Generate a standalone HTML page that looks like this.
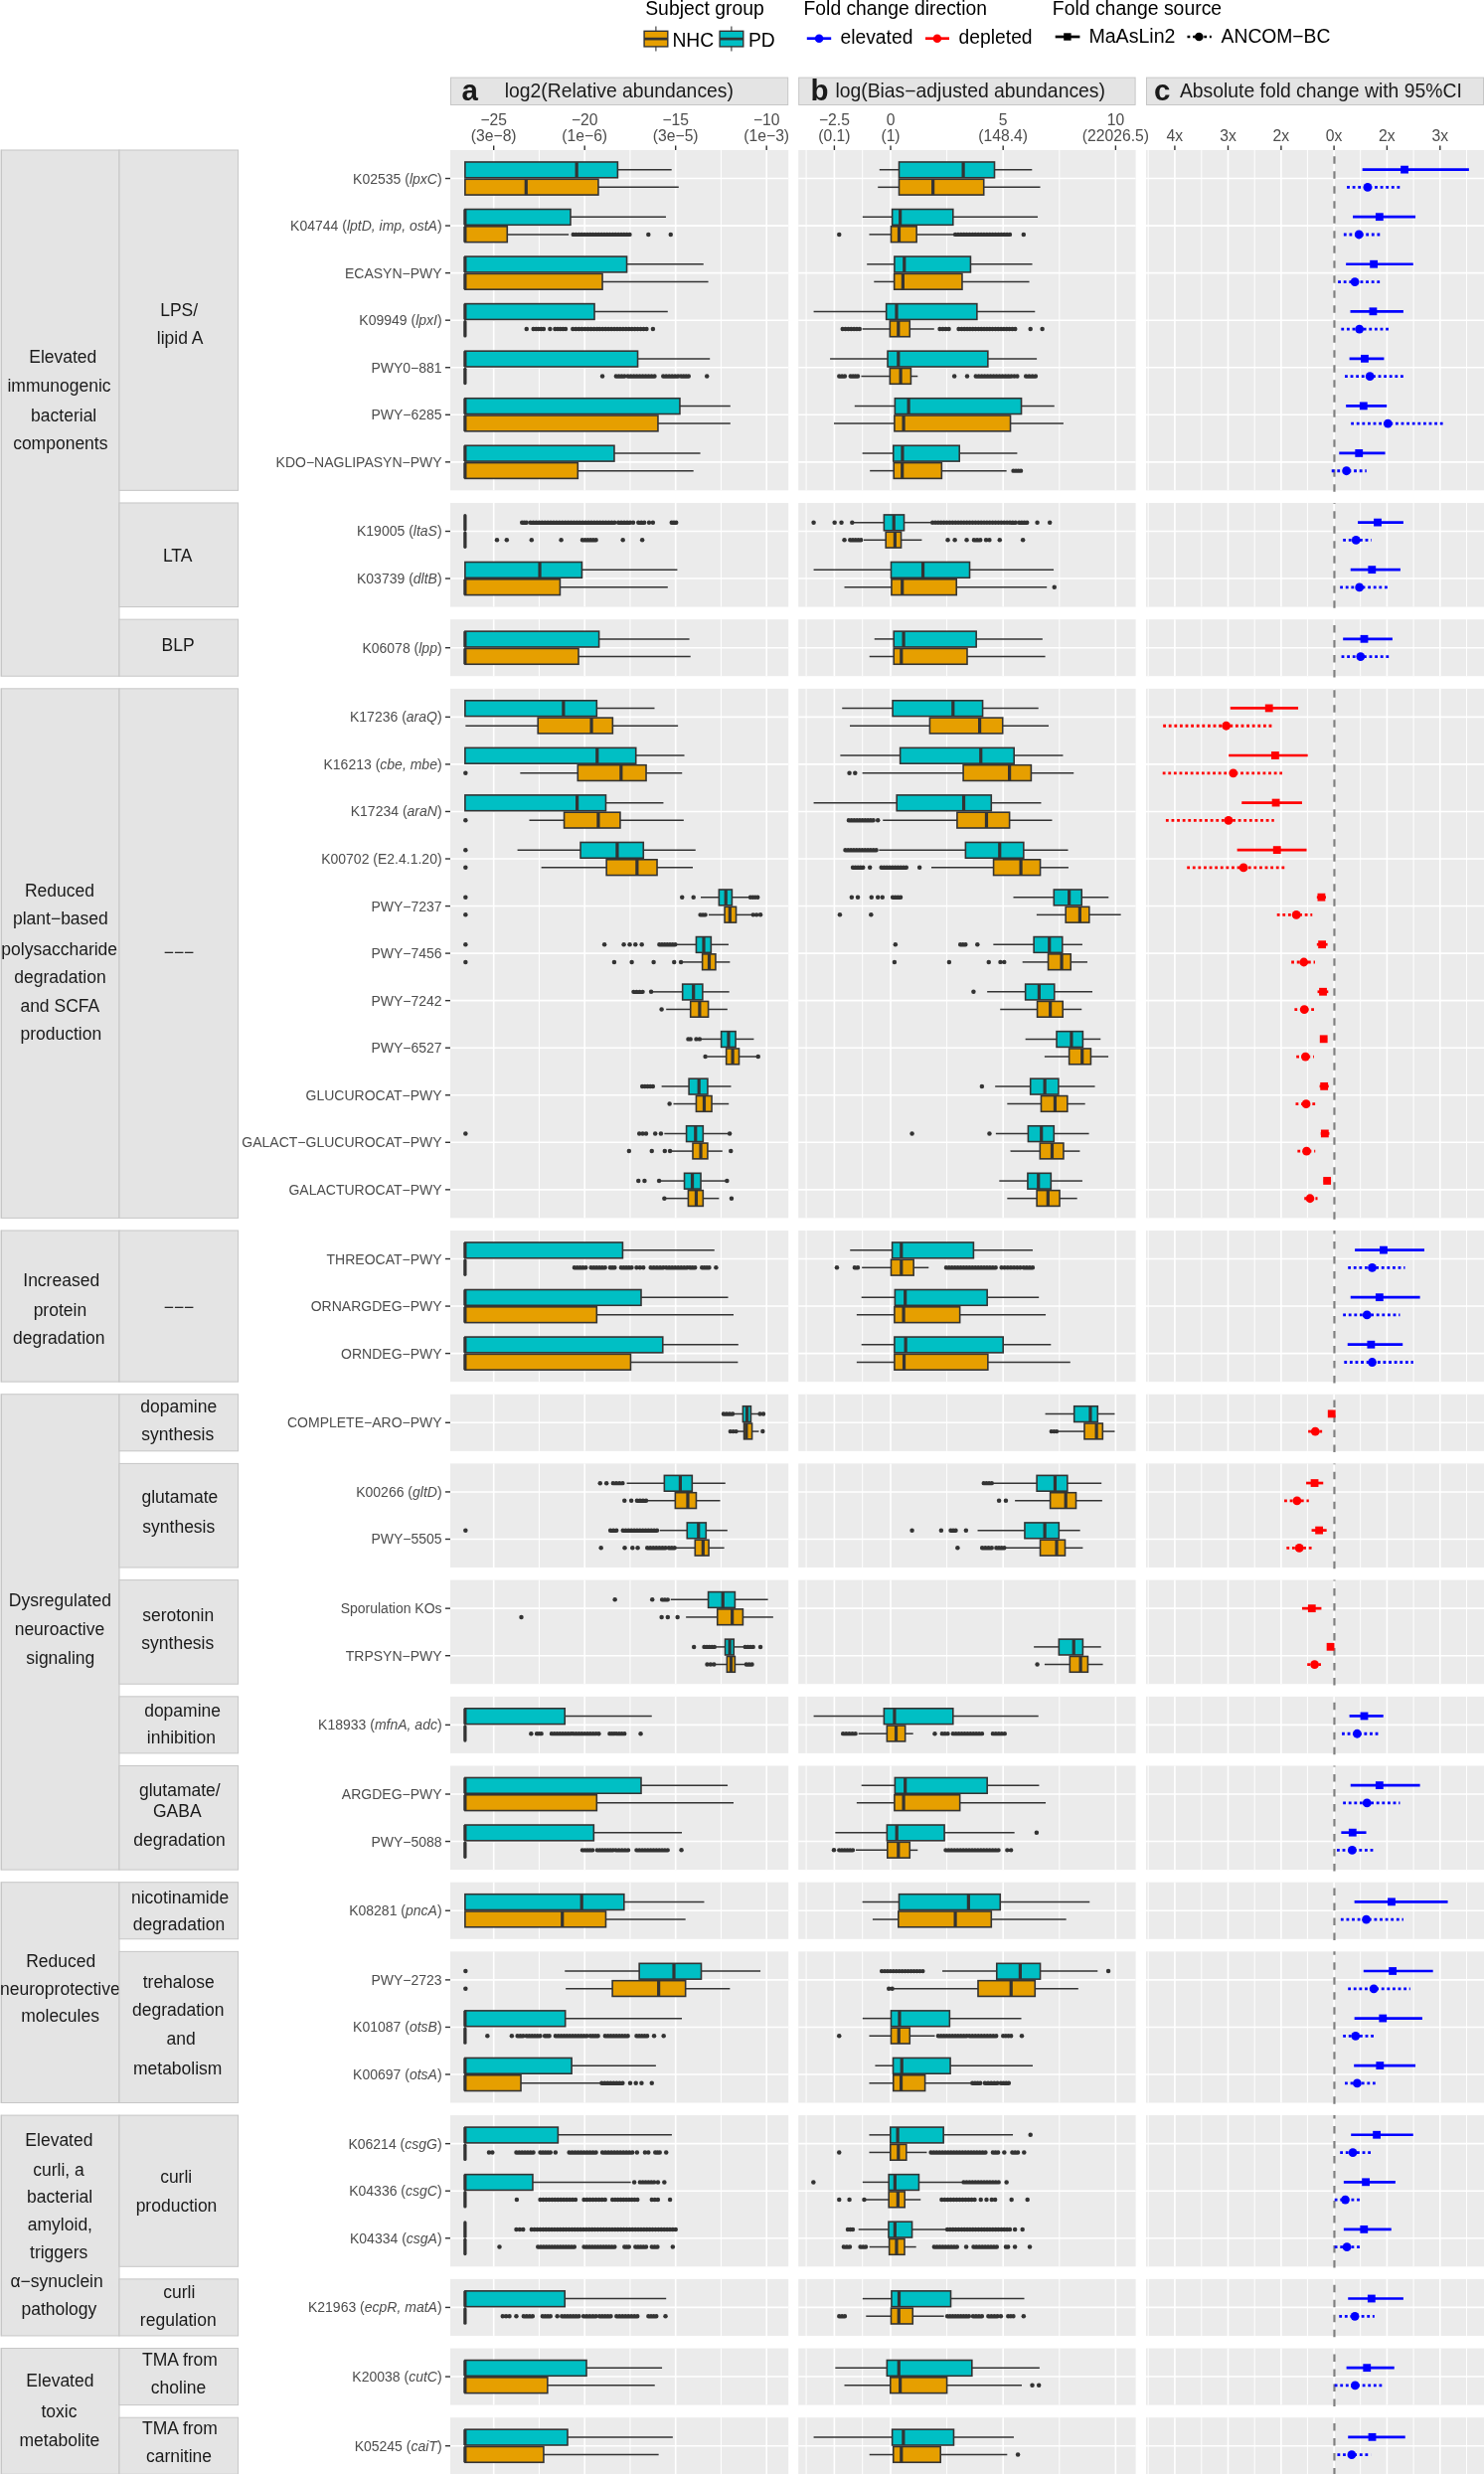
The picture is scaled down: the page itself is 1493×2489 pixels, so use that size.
<!DOCTYPE html>
<html><head><meta charset="utf-8"><title>Figure</title>
<style>html,body{margin:0;padding:0;background:#fff;}svg{display:block;will-change:transform;}text{font-family:"Liberation Sans", sans-serif;}</style>
</head><body>
<svg width="1493" height="2489" viewBox="0 0 1493 2489" font-family='"Liberation Sans", sans-serif'>
<rect width="1493" height="2489" fill="#fff"/>
<text x="649.2" y="14.8" font-size="19.4" fill="#000">Subject group</text>
<text x="808.6" y="14.8" font-size="19.3" fill="#000">Fold change direction</text>
<text x="1058.8" y="14.6" font-size="19.4" fill="#000">Fold change source</text>
<line x1="659.9" y1="26.4" x2="659.9" y2="51.5" stroke="#333333" stroke-width="1.1"/>
<rect x="648.1" y="31.3" width="23.7" height="15.6" fill="#E69F00" stroke="#333333" stroke-width="1.4"/>
<line x1="648.1" y1="39.1" x2="671.8" y2="39.1" stroke="#333333" stroke-width="2.7"/>
<text x="676.4" y="46.9" font-size="19.3" fill="#000">NHC</text>
<line x1="735.9" y1="26.4" x2="735.9" y2="51.5" stroke="#333333" stroke-width="1.1"/>
<rect x="724.1" y="31.3" width="23.7" height="15.6" fill="#00BFC4" stroke="#333333" stroke-width="1.4"/>
<line x1="724.1" y1="39.1" x2="747.8" y2="39.1" stroke="#333333" stroke-width="2.7"/>
<text x="753" y="46.9" font-size="19.3" fill="#000">PD</text>
<line x1="811.8" y1="38.7" x2="836.2" y2="38.7" stroke="#0000FF" stroke-width="2.7"/>
<circle cx="824.1" cy="38.7" r="4.3" fill="#0000FF"/>
<text x="845.5" y="44.3" font-size="19.3" fill="#000">elevated</text>
<line x1="931" y1="38.7" x2="955" y2="38.7" stroke="#FF0000" stroke-width="2.7"/>
<circle cx="942.9" cy="38.7" r="4.3" fill="#FF0000"/>
<text x="964.6" y="44.3" font-size="19.3" fill="#000">depleted</text>
<line x1="1061.7" y1="37" x2="1086.4" y2="37" stroke="#000" stroke-width="2.7"/>
<rect x="1070.2" y="33.3" width="7.4" height="7.4" fill="#000"/>
<text x="1095.4" y="43.2" font-size="19.6" fill="#000">MaAsLin2</text>
<line x1="1194.5" y1="37" x2="1218.8" y2="37" stroke="#000" stroke-width="2.7" stroke-dasharray="2.8 2.8"/>
<circle cx="1206.3" cy="37" r="4.3" fill="#000"/>
<text x="1228.6" y="43.2" font-size="19.3" fill="#000">ANCOM−BC</text>
<rect x="453.5" y="78.1" width="339.2" height="27.4" fill="#E4E4E4" stroke="#C6C6C6" stroke-width="1"/>
<text x="464.5" y="101" font-size="29.5" fill="#1A1A1A" font-weight="bold">a</text>
<text x="507.8" y="97.9" font-size="19.35" fill="#1A1A1A">log2(Relative abundances)</text>
<rect x="803.7" y="78.1" width="338.4" height="27.4" fill="#E4E4E4" stroke="#C6C6C6" stroke-width="1"/>
<text x="815.4" y="101" font-size="29.5" fill="#1A1A1A" font-weight="bold">b</text>
<text x="840.4" y="97.9" font-size="19.35" fill="#1A1A1A">log(Bias−adjusted abundances)</text>
<rect x="1153.5" y="78.1" width="339" height="27.4" fill="#E4E4E4" stroke="#C6C6C6" stroke-width="1"/>
<text x="1161.1" y="101" font-size="29.5" fill="#1A1A1A" font-weight="bold">c</text>
<text x="1186.9" y="97.9" font-size="19.35" fill="#1A1A1A">Absolute fold change with 95%CI</text>
<line x1="496.7" y1="146.4" x2="496.7" y2="151" stroke="#333333" stroke-width="1.4"/>
<text x="496.7" y="125.9" font-size="15.7" fill="#4D4D4D" text-anchor="middle">−25</text>
<text x="496.7" y="142.3" font-size="15.7" fill="#4D4D4D" text-anchor="middle">(3e−8)</text>
<line x1="588.2" y1="146.4" x2="588.2" y2="151" stroke="#333333" stroke-width="1.4"/>
<text x="588.2" y="125.9" font-size="15.7" fill="#4D4D4D" text-anchor="middle">−20</text>
<text x="588.2" y="142.3" font-size="15.7" fill="#4D4D4D" text-anchor="middle">(1e−6)</text>
<line x1="679.7" y1="146.4" x2="679.7" y2="151" stroke="#333333" stroke-width="1.4"/>
<text x="679.7" y="125.9" font-size="15.7" fill="#4D4D4D" text-anchor="middle">−15</text>
<text x="679.7" y="142.3" font-size="15.7" fill="#4D4D4D" text-anchor="middle">(3e−5)</text>
<line x1="771.2" y1="146.4" x2="771.2" y2="151" stroke="#333333" stroke-width="1.4"/>
<text x="771.2" y="125.9" font-size="15.7" fill="#4D4D4D" text-anchor="middle">−10</text>
<text x="771.2" y="142.3" font-size="15.7" fill="#4D4D4D" text-anchor="middle">(1e−3)</text>
<line x1="839.4" y1="146.4" x2="839.4" y2="151" stroke="#333333" stroke-width="1.4"/>
<text x="839.4" y="125.9" font-size="15.7" fill="#4D4D4D" text-anchor="middle">−2.5</text>
<text x="839.4" y="142.3" font-size="15.7" fill="#4D4D4D" text-anchor="middle">(0.1)</text>
<line x1="896" y1="146.4" x2="896" y2="151" stroke="#333333" stroke-width="1.4"/>
<text x="896" y="125.9" font-size="15.7" fill="#4D4D4D" text-anchor="middle">0</text>
<text x="896" y="142.3" font-size="15.7" fill="#4D4D4D" text-anchor="middle">(1)</text>
<line x1="1009.2" y1="146.4" x2="1009.2" y2="151" stroke="#333333" stroke-width="1.4"/>
<text x="1009.2" y="125.9" font-size="15.7" fill="#4D4D4D" text-anchor="middle">5</text>
<text x="1009.2" y="142.3" font-size="15.7" fill="#4D4D4D" text-anchor="middle">(148.4)</text>
<line x1="1122.4" y1="146.4" x2="1122.4" y2="151" stroke="#333333" stroke-width="1.4"/>
<text x="1122.4" y="125.9" font-size="15.7" fill="#4D4D4D" text-anchor="middle">10</text>
<text x="1122.4" y="142.3" font-size="15.7" fill="#4D4D4D" text-anchor="middle">(22026.5)</text>
<line x1="1181.9" y1="146.4" x2="1181.9" y2="151" stroke="#333333" stroke-width="1.4"/>
<text x="1181.9" y="142.3" font-size="15.7" fill="#4D4D4D" text-anchor="middle">4x</text>
<line x1="1235.5" y1="146.4" x2="1235.5" y2="151" stroke="#333333" stroke-width="1.4"/>
<text x="1235.5" y="142.3" font-size="15.7" fill="#4D4D4D" text-anchor="middle">3x</text>
<line x1="1288.9" y1="146.4" x2="1288.9" y2="151" stroke="#333333" stroke-width="1.4"/>
<text x="1288.9" y="142.3" font-size="15.7" fill="#4D4D4D" text-anchor="middle">2x</text>
<line x1="1342.1" y1="146.4" x2="1342.1" y2="151" stroke="#333333" stroke-width="1.4"/>
<text x="1342.1" y="142.3" font-size="15.7" fill="#4D4D4D" text-anchor="middle">0x</text>
<line x1="1395.4" y1="146.4" x2="1395.4" y2="151" stroke="#333333" stroke-width="1.4"/>
<text x="1395.4" y="142.3" font-size="15.7" fill="#4D4D4D" text-anchor="middle">2x</text>
<line x1="1448.8" y1="146.4" x2="1448.8" y2="151" stroke="#333333" stroke-width="1.4"/>
<text x="1448.8" y="142.3" font-size="15.7" fill="#4D4D4D" text-anchor="middle">3x</text>
<rect x="453" y="151" width="340.2" height="342.36" fill="#EBEBEB"/>
<line x1="542.45" y1="151" x2="542.45" y2="493.36" stroke="#fff" stroke-width="1.0"/>
<line x1="633.95" y1="151" x2="633.95" y2="493.36" stroke="#fff" stroke-width="1.0"/>
<line x1="725.45" y1="151" x2="725.45" y2="493.36" stroke="#fff" stroke-width="1.0"/>
<line x1="496.7" y1="151" x2="496.7" y2="493.36" stroke="#fff" stroke-width="1.6"/>
<line x1="588.2" y1="151" x2="588.2" y2="493.36" stroke="#fff" stroke-width="1.6"/>
<line x1="679.7" y1="151" x2="679.7" y2="493.36" stroke="#fff" stroke-width="1.6"/>
<line x1="771.2" y1="151" x2="771.2" y2="493.36" stroke="#fff" stroke-width="1.6"/>
<rect x="803.2" y="151" width="339.4" height="342.36" fill="#EBEBEB"/>
<line x1="811.1" y1="151" x2="811.1" y2="493.36" stroke="#fff" stroke-width="1.0"/>
<line x1="867.7" y1="151" x2="867.7" y2="493.36" stroke="#fff" stroke-width="1.0"/>
<line x1="952.6" y1="151" x2="952.6" y2="493.36" stroke="#fff" stroke-width="1.0"/>
<line x1="1065.8" y1="151" x2="1065.8" y2="493.36" stroke="#fff" stroke-width="1.0"/>
<line x1="839.4" y1="151" x2="839.4" y2="493.36" stroke="#fff" stroke-width="1.6"/>
<line x1="896" y1="151" x2="896" y2="493.36" stroke="#fff" stroke-width="1.6"/>
<line x1="1009.2" y1="151" x2="1009.2" y2="493.36" stroke="#fff" stroke-width="1.6"/>
<line x1="1122.4" y1="151" x2="1122.4" y2="493.36" stroke="#fff" stroke-width="1.6"/>
<rect x="1153" y="151" width="340" height="342.36" fill="#EBEBEB"/>
<line x1="1155.2" y1="151" x2="1155.2" y2="493.36" stroke="#fff" stroke-width="1.0"/>
<line x1="1208.8" y1="151" x2="1208.8" y2="493.36" stroke="#fff" stroke-width="1.0"/>
<line x1="1262.2" y1="151" x2="1262.2" y2="493.36" stroke="#fff" stroke-width="1.0"/>
<line x1="1315.4" y1="151" x2="1315.4" y2="493.36" stroke="#fff" stroke-width="1.0"/>
<line x1="1368.7" y1="151" x2="1368.7" y2="493.36" stroke="#fff" stroke-width="1.0"/>
<line x1="1422.1" y1="151" x2="1422.1" y2="493.36" stroke="#fff" stroke-width="1.0"/>
<line x1="1475.5" y1="151" x2="1475.5" y2="493.36" stroke="#fff" stroke-width="1.0"/>
<line x1="1181.9" y1="151" x2="1181.9" y2="493.36" stroke="#fff" stroke-width="1.6"/>
<line x1="1235.5" y1="151" x2="1235.5" y2="493.36" stroke="#fff" stroke-width="1.6"/>
<line x1="1288.9" y1="151" x2="1288.9" y2="493.36" stroke="#fff" stroke-width="1.6"/>
<line x1="1342.1" y1="151" x2="1342.1" y2="493.36" stroke="#fff" stroke-width="1.6"/>
<line x1="1395.4" y1="151" x2="1395.4" y2="493.36" stroke="#fff" stroke-width="1.6"/>
<line x1="1448.8" y1="151" x2="1448.8" y2="493.36" stroke="#fff" stroke-width="1.6"/>
<rect x="453" y="505.96" width="340.2" height="104.61" fill="#EBEBEB"/>
<line x1="542.45" y1="505.96" x2="542.45" y2="610.57" stroke="#fff" stroke-width="1.0"/>
<line x1="633.95" y1="505.96" x2="633.95" y2="610.57" stroke="#fff" stroke-width="1.0"/>
<line x1="725.45" y1="505.96" x2="725.45" y2="610.57" stroke="#fff" stroke-width="1.0"/>
<line x1="496.7" y1="505.96" x2="496.7" y2="610.57" stroke="#fff" stroke-width="1.6"/>
<line x1="588.2" y1="505.96" x2="588.2" y2="610.57" stroke="#fff" stroke-width="1.6"/>
<line x1="679.7" y1="505.96" x2="679.7" y2="610.57" stroke="#fff" stroke-width="1.6"/>
<line x1="771.2" y1="505.96" x2="771.2" y2="610.57" stroke="#fff" stroke-width="1.6"/>
<rect x="803.2" y="505.96" width="339.4" height="104.61" fill="#EBEBEB"/>
<line x1="811.1" y1="505.96" x2="811.1" y2="610.57" stroke="#fff" stroke-width="1.0"/>
<line x1="867.7" y1="505.96" x2="867.7" y2="610.57" stroke="#fff" stroke-width="1.0"/>
<line x1="952.6" y1="505.96" x2="952.6" y2="610.57" stroke="#fff" stroke-width="1.0"/>
<line x1="1065.8" y1="505.96" x2="1065.8" y2="610.57" stroke="#fff" stroke-width="1.0"/>
<line x1="839.4" y1="505.96" x2="839.4" y2="610.57" stroke="#fff" stroke-width="1.6"/>
<line x1="896" y1="505.96" x2="896" y2="610.57" stroke="#fff" stroke-width="1.6"/>
<line x1="1009.2" y1="505.96" x2="1009.2" y2="610.57" stroke="#fff" stroke-width="1.6"/>
<line x1="1122.4" y1="505.96" x2="1122.4" y2="610.57" stroke="#fff" stroke-width="1.6"/>
<rect x="1153" y="505.96" width="340" height="104.61" fill="#EBEBEB"/>
<line x1="1155.2" y1="505.96" x2="1155.2" y2="610.57" stroke="#fff" stroke-width="1.0"/>
<line x1="1208.8" y1="505.96" x2="1208.8" y2="610.57" stroke="#fff" stroke-width="1.0"/>
<line x1="1262.2" y1="505.96" x2="1262.2" y2="610.57" stroke="#fff" stroke-width="1.0"/>
<line x1="1315.4" y1="505.96" x2="1315.4" y2="610.57" stroke="#fff" stroke-width="1.0"/>
<line x1="1368.7" y1="505.96" x2="1368.7" y2="610.57" stroke="#fff" stroke-width="1.0"/>
<line x1="1422.1" y1="505.96" x2="1422.1" y2="610.57" stroke="#fff" stroke-width="1.0"/>
<line x1="1475.5" y1="505.96" x2="1475.5" y2="610.57" stroke="#fff" stroke-width="1.0"/>
<line x1="1181.9" y1="505.96" x2="1181.9" y2="610.57" stroke="#fff" stroke-width="1.6"/>
<line x1="1235.5" y1="505.96" x2="1235.5" y2="610.57" stroke="#fff" stroke-width="1.6"/>
<line x1="1288.9" y1="505.96" x2="1288.9" y2="610.57" stroke="#fff" stroke-width="1.6"/>
<line x1="1342.1" y1="505.96" x2="1342.1" y2="610.57" stroke="#fff" stroke-width="1.6"/>
<line x1="1395.4" y1="505.96" x2="1395.4" y2="610.57" stroke="#fff" stroke-width="1.6"/>
<line x1="1448.8" y1="505.96" x2="1448.8" y2="610.57" stroke="#fff" stroke-width="1.6"/>
<rect x="453" y="623.17" width="340.2" height="57.06" fill="#EBEBEB"/>
<line x1="542.45" y1="623.17" x2="542.45" y2="680.23" stroke="#fff" stroke-width="1.0"/>
<line x1="633.95" y1="623.17" x2="633.95" y2="680.23" stroke="#fff" stroke-width="1.0"/>
<line x1="725.45" y1="623.17" x2="725.45" y2="680.23" stroke="#fff" stroke-width="1.0"/>
<line x1="496.7" y1="623.17" x2="496.7" y2="680.23" stroke="#fff" stroke-width="1.6"/>
<line x1="588.2" y1="623.17" x2="588.2" y2="680.23" stroke="#fff" stroke-width="1.6"/>
<line x1="679.7" y1="623.17" x2="679.7" y2="680.23" stroke="#fff" stroke-width="1.6"/>
<line x1="771.2" y1="623.17" x2="771.2" y2="680.23" stroke="#fff" stroke-width="1.6"/>
<rect x="803.2" y="623.17" width="339.4" height="57.06" fill="#EBEBEB"/>
<line x1="811.1" y1="623.17" x2="811.1" y2="680.23" stroke="#fff" stroke-width="1.0"/>
<line x1="867.7" y1="623.17" x2="867.7" y2="680.23" stroke="#fff" stroke-width="1.0"/>
<line x1="952.6" y1="623.17" x2="952.6" y2="680.23" stroke="#fff" stroke-width="1.0"/>
<line x1="1065.8" y1="623.17" x2="1065.8" y2="680.23" stroke="#fff" stroke-width="1.0"/>
<line x1="839.4" y1="623.17" x2="839.4" y2="680.23" stroke="#fff" stroke-width="1.6"/>
<line x1="896" y1="623.17" x2="896" y2="680.23" stroke="#fff" stroke-width="1.6"/>
<line x1="1009.2" y1="623.17" x2="1009.2" y2="680.23" stroke="#fff" stroke-width="1.6"/>
<line x1="1122.4" y1="623.17" x2="1122.4" y2="680.23" stroke="#fff" stroke-width="1.6"/>
<rect x="1153" y="623.17" width="340" height="57.06" fill="#EBEBEB"/>
<line x1="1155.2" y1="623.17" x2="1155.2" y2="680.23" stroke="#fff" stroke-width="1.0"/>
<line x1="1208.8" y1="623.17" x2="1208.8" y2="680.23" stroke="#fff" stroke-width="1.0"/>
<line x1="1262.2" y1="623.17" x2="1262.2" y2="680.23" stroke="#fff" stroke-width="1.0"/>
<line x1="1315.4" y1="623.17" x2="1315.4" y2="680.23" stroke="#fff" stroke-width="1.0"/>
<line x1="1368.7" y1="623.17" x2="1368.7" y2="680.23" stroke="#fff" stroke-width="1.0"/>
<line x1="1422.1" y1="623.17" x2="1422.1" y2="680.23" stroke="#fff" stroke-width="1.0"/>
<line x1="1475.5" y1="623.17" x2="1475.5" y2="680.23" stroke="#fff" stroke-width="1.0"/>
<line x1="1181.9" y1="623.17" x2="1181.9" y2="680.23" stroke="#fff" stroke-width="1.6"/>
<line x1="1235.5" y1="623.17" x2="1235.5" y2="680.23" stroke="#fff" stroke-width="1.6"/>
<line x1="1288.9" y1="623.17" x2="1288.9" y2="680.23" stroke="#fff" stroke-width="1.6"/>
<line x1="1342.1" y1="623.17" x2="1342.1" y2="680.23" stroke="#fff" stroke-width="1.6"/>
<line x1="1395.4" y1="623.17" x2="1395.4" y2="680.23" stroke="#fff" stroke-width="1.6"/>
<line x1="1448.8" y1="623.17" x2="1448.8" y2="680.23" stroke="#fff" stroke-width="1.6"/>
<rect x="453" y="692.83" width="340.2" height="532.56" fill="#EBEBEB"/>
<line x1="542.45" y1="692.83" x2="542.45" y2="1225.39" stroke="#fff" stroke-width="1.0"/>
<line x1="633.95" y1="692.83" x2="633.95" y2="1225.39" stroke="#fff" stroke-width="1.0"/>
<line x1="725.45" y1="692.83" x2="725.45" y2="1225.39" stroke="#fff" stroke-width="1.0"/>
<line x1="496.7" y1="692.83" x2="496.7" y2="1225.39" stroke="#fff" stroke-width="1.6"/>
<line x1="588.2" y1="692.83" x2="588.2" y2="1225.39" stroke="#fff" stroke-width="1.6"/>
<line x1="679.7" y1="692.83" x2="679.7" y2="1225.39" stroke="#fff" stroke-width="1.6"/>
<line x1="771.2" y1="692.83" x2="771.2" y2="1225.39" stroke="#fff" stroke-width="1.6"/>
<rect x="803.2" y="692.83" width="339.4" height="532.56" fill="#EBEBEB"/>
<line x1="811.1" y1="692.83" x2="811.1" y2="1225.39" stroke="#fff" stroke-width="1.0"/>
<line x1="867.7" y1="692.83" x2="867.7" y2="1225.39" stroke="#fff" stroke-width="1.0"/>
<line x1="952.6" y1="692.83" x2="952.6" y2="1225.39" stroke="#fff" stroke-width="1.0"/>
<line x1="1065.8" y1="692.83" x2="1065.8" y2="1225.39" stroke="#fff" stroke-width="1.0"/>
<line x1="839.4" y1="692.83" x2="839.4" y2="1225.39" stroke="#fff" stroke-width="1.6"/>
<line x1="896" y1="692.83" x2="896" y2="1225.39" stroke="#fff" stroke-width="1.6"/>
<line x1="1009.2" y1="692.83" x2="1009.2" y2="1225.39" stroke="#fff" stroke-width="1.6"/>
<line x1="1122.4" y1="692.83" x2="1122.4" y2="1225.39" stroke="#fff" stroke-width="1.6"/>
<rect x="1153" y="692.83" width="340" height="532.56" fill="#EBEBEB"/>
<line x1="1155.2" y1="692.83" x2="1155.2" y2="1225.39" stroke="#fff" stroke-width="1.0"/>
<line x1="1208.8" y1="692.83" x2="1208.8" y2="1225.39" stroke="#fff" stroke-width="1.0"/>
<line x1="1262.2" y1="692.83" x2="1262.2" y2="1225.39" stroke="#fff" stroke-width="1.0"/>
<line x1="1315.4" y1="692.83" x2="1315.4" y2="1225.39" stroke="#fff" stroke-width="1.0"/>
<line x1="1368.7" y1="692.83" x2="1368.7" y2="1225.39" stroke="#fff" stroke-width="1.0"/>
<line x1="1422.1" y1="692.83" x2="1422.1" y2="1225.39" stroke="#fff" stroke-width="1.0"/>
<line x1="1475.5" y1="692.83" x2="1475.5" y2="1225.39" stroke="#fff" stroke-width="1.0"/>
<line x1="1181.9" y1="692.83" x2="1181.9" y2="1225.39" stroke="#fff" stroke-width="1.6"/>
<line x1="1235.5" y1="692.83" x2="1235.5" y2="1225.39" stroke="#fff" stroke-width="1.6"/>
<line x1="1288.9" y1="692.83" x2="1288.9" y2="1225.39" stroke="#fff" stroke-width="1.6"/>
<line x1="1342.1" y1="692.83" x2="1342.1" y2="1225.39" stroke="#fff" stroke-width="1.6"/>
<line x1="1395.4" y1="692.83" x2="1395.4" y2="1225.39" stroke="#fff" stroke-width="1.6"/>
<line x1="1448.8" y1="692.83" x2="1448.8" y2="1225.39" stroke="#fff" stroke-width="1.6"/>
<rect x="453" y="1237.99" width="340.2" height="152.16" fill="#EBEBEB"/>
<line x1="542.45" y1="1237.99" x2="542.45" y2="1390.15" stroke="#fff" stroke-width="1.0"/>
<line x1="633.95" y1="1237.99" x2="633.95" y2="1390.15" stroke="#fff" stroke-width="1.0"/>
<line x1="725.45" y1="1237.99" x2="725.45" y2="1390.15" stroke="#fff" stroke-width="1.0"/>
<line x1="496.7" y1="1237.99" x2="496.7" y2="1390.15" stroke="#fff" stroke-width="1.6"/>
<line x1="588.2" y1="1237.99" x2="588.2" y2="1390.15" stroke="#fff" stroke-width="1.6"/>
<line x1="679.7" y1="1237.99" x2="679.7" y2="1390.15" stroke="#fff" stroke-width="1.6"/>
<line x1="771.2" y1="1237.99" x2="771.2" y2="1390.15" stroke="#fff" stroke-width="1.6"/>
<rect x="803.2" y="1237.99" width="339.4" height="152.16" fill="#EBEBEB"/>
<line x1="811.1" y1="1237.99" x2="811.1" y2="1390.15" stroke="#fff" stroke-width="1.0"/>
<line x1="867.7" y1="1237.99" x2="867.7" y2="1390.15" stroke="#fff" stroke-width="1.0"/>
<line x1="952.6" y1="1237.99" x2="952.6" y2="1390.15" stroke="#fff" stroke-width="1.0"/>
<line x1="1065.8" y1="1237.99" x2="1065.8" y2="1390.15" stroke="#fff" stroke-width="1.0"/>
<line x1="839.4" y1="1237.99" x2="839.4" y2="1390.15" stroke="#fff" stroke-width="1.6"/>
<line x1="896" y1="1237.99" x2="896" y2="1390.15" stroke="#fff" stroke-width="1.6"/>
<line x1="1009.2" y1="1237.99" x2="1009.2" y2="1390.15" stroke="#fff" stroke-width="1.6"/>
<line x1="1122.4" y1="1237.99" x2="1122.4" y2="1390.15" stroke="#fff" stroke-width="1.6"/>
<rect x="1153" y="1237.99" width="340" height="152.16" fill="#EBEBEB"/>
<line x1="1155.2" y1="1237.99" x2="1155.2" y2="1390.15" stroke="#fff" stroke-width="1.0"/>
<line x1="1208.8" y1="1237.99" x2="1208.8" y2="1390.15" stroke="#fff" stroke-width="1.0"/>
<line x1="1262.2" y1="1237.99" x2="1262.2" y2="1390.15" stroke="#fff" stroke-width="1.0"/>
<line x1="1315.4" y1="1237.99" x2="1315.4" y2="1390.15" stroke="#fff" stroke-width="1.0"/>
<line x1="1368.7" y1="1237.99" x2="1368.7" y2="1390.15" stroke="#fff" stroke-width="1.0"/>
<line x1="1422.1" y1="1237.99" x2="1422.1" y2="1390.15" stroke="#fff" stroke-width="1.0"/>
<line x1="1475.5" y1="1237.99" x2="1475.5" y2="1390.15" stroke="#fff" stroke-width="1.0"/>
<line x1="1181.9" y1="1237.99" x2="1181.9" y2="1390.15" stroke="#fff" stroke-width="1.6"/>
<line x1="1235.5" y1="1237.99" x2="1235.5" y2="1390.15" stroke="#fff" stroke-width="1.6"/>
<line x1="1288.9" y1="1237.99" x2="1288.9" y2="1390.15" stroke="#fff" stroke-width="1.6"/>
<line x1="1342.1" y1="1237.99" x2="1342.1" y2="1390.15" stroke="#fff" stroke-width="1.6"/>
<line x1="1395.4" y1="1237.99" x2="1395.4" y2="1390.15" stroke="#fff" stroke-width="1.6"/>
<line x1="1448.8" y1="1237.99" x2="1448.8" y2="1390.15" stroke="#fff" stroke-width="1.6"/>
<rect x="453" y="1402.75" width="340.2" height="57.06" fill="#EBEBEB"/>
<line x1="542.45" y1="1402.75" x2="542.45" y2="1459.81" stroke="#fff" stroke-width="1.0"/>
<line x1="633.95" y1="1402.75" x2="633.95" y2="1459.81" stroke="#fff" stroke-width="1.0"/>
<line x1="725.45" y1="1402.75" x2="725.45" y2="1459.81" stroke="#fff" stroke-width="1.0"/>
<line x1="496.7" y1="1402.75" x2="496.7" y2="1459.81" stroke="#fff" stroke-width="1.6"/>
<line x1="588.2" y1="1402.75" x2="588.2" y2="1459.81" stroke="#fff" stroke-width="1.6"/>
<line x1="679.7" y1="1402.75" x2="679.7" y2="1459.81" stroke="#fff" stroke-width="1.6"/>
<line x1="771.2" y1="1402.75" x2="771.2" y2="1459.81" stroke="#fff" stroke-width="1.6"/>
<rect x="803.2" y="1402.75" width="339.4" height="57.06" fill="#EBEBEB"/>
<line x1="811.1" y1="1402.75" x2="811.1" y2="1459.81" stroke="#fff" stroke-width="1.0"/>
<line x1="867.7" y1="1402.75" x2="867.7" y2="1459.81" stroke="#fff" stroke-width="1.0"/>
<line x1="952.6" y1="1402.75" x2="952.6" y2="1459.81" stroke="#fff" stroke-width="1.0"/>
<line x1="1065.8" y1="1402.75" x2="1065.8" y2="1459.81" stroke="#fff" stroke-width="1.0"/>
<line x1="839.4" y1="1402.75" x2="839.4" y2="1459.81" stroke="#fff" stroke-width="1.6"/>
<line x1="896" y1="1402.75" x2="896" y2="1459.81" stroke="#fff" stroke-width="1.6"/>
<line x1="1009.2" y1="1402.75" x2="1009.2" y2="1459.81" stroke="#fff" stroke-width="1.6"/>
<line x1="1122.4" y1="1402.75" x2="1122.4" y2="1459.81" stroke="#fff" stroke-width="1.6"/>
<rect x="1153" y="1402.75" width="340" height="57.06" fill="#EBEBEB"/>
<line x1="1155.2" y1="1402.75" x2="1155.2" y2="1459.81" stroke="#fff" stroke-width="1.0"/>
<line x1="1208.8" y1="1402.75" x2="1208.8" y2="1459.81" stroke="#fff" stroke-width="1.0"/>
<line x1="1262.2" y1="1402.75" x2="1262.2" y2="1459.81" stroke="#fff" stroke-width="1.0"/>
<line x1="1315.4" y1="1402.75" x2="1315.4" y2="1459.81" stroke="#fff" stroke-width="1.0"/>
<line x1="1368.7" y1="1402.75" x2="1368.7" y2="1459.81" stroke="#fff" stroke-width="1.0"/>
<line x1="1422.1" y1="1402.75" x2="1422.1" y2="1459.81" stroke="#fff" stroke-width="1.0"/>
<line x1="1475.5" y1="1402.75" x2="1475.5" y2="1459.81" stroke="#fff" stroke-width="1.0"/>
<line x1="1181.9" y1="1402.75" x2="1181.9" y2="1459.81" stroke="#fff" stroke-width="1.6"/>
<line x1="1235.5" y1="1402.75" x2="1235.5" y2="1459.81" stroke="#fff" stroke-width="1.6"/>
<line x1="1288.9" y1="1402.75" x2="1288.9" y2="1459.81" stroke="#fff" stroke-width="1.6"/>
<line x1="1342.1" y1="1402.75" x2="1342.1" y2="1459.81" stroke="#fff" stroke-width="1.6"/>
<line x1="1395.4" y1="1402.75" x2="1395.4" y2="1459.81" stroke="#fff" stroke-width="1.6"/>
<line x1="1448.8" y1="1402.75" x2="1448.8" y2="1459.81" stroke="#fff" stroke-width="1.6"/>
<rect x="453" y="1472.41" width="340.2" height="104.61" fill="#EBEBEB"/>
<line x1="542.45" y1="1472.41" x2="542.45" y2="1577.02" stroke="#fff" stroke-width="1.0"/>
<line x1="633.95" y1="1472.41" x2="633.95" y2="1577.02" stroke="#fff" stroke-width="1.0"/>
<line x1="725.45" y1="1472.41" x2="725.45" y2="1577.02" stroke="#fff" stroke-width="1.0"/>
<line x1="496.7" y1="1472.41" x2="496.7" y2="1577.02" stroke="#fff" stroke-width="1.6"/>
<line x1="588.2" y1="1472.41" x2="588.2" y2="1577.02" stroke="#fff" stroke-width="1.6"/>
<line x1="679.7" y1="1472.41" x2="679.7" y2="1577.02" stroke="#fff" stroke-width="1.6"/>
<line x1="771.2" y1="1472.41" x2="771.2" y2="1577.02" stroke="#fff" stroke-width="1.6"/>
<rect x="803.2" y="1472.41" width="339.4" height="104.61" fill="#EBEBEB"/>
<line x1="811.1" y1="1472.41" x2="811.1" y2="1577.02" stroke="#fff" stroke-width="1.0"/>
<line x1="867.7" y1="1472.41" x2="867.7" y2="1577.02" stroke="#fff" stroke-width="1.0"/>
<line x1="952.6" y1="1472.41" x2="952.6" y2="1577.02" stroke="#fff" stroke-width="1.0"/>
<line x1="1065.8" y1="1472.41" x2="1065.8" y2="1577.02" stroke="#fff" stroke-width="1.0"/>
<line x1="839.4" y1="1472.41" x2="839.4" y2="1577.02" stroke="#fff" stroke-width="1.6"/>
<line x1="896" y1="1472.41" x2="896" y2="1577.02" stroke="#fff" stroke-width="1.6"/>
<line x1="1009.2" y1="1472.41" x2="1009.2" y2="1577.02" stroke="#fff" stroke-width="1.6"/>
<line x1="1122.4" y1="1472.41" x2="1122.4" y2="1577.02" stroke="#fff" stroke-width="1.6"/>
<rect x="1153" y="1472.41" width="340" height="104.61" fill="#EBEBEB"/>
<line x1="1155.2" y1="1472.41" x2="1155.2" y2="1577.02" stroke="#fff" stroke-width="1.0"/>
<line x1="1208.8" y1="1472.41" x2="1208.8" y2="1577.02" stroke="#fff" stroke-width="1.0"/>
<line x1="1262.2" y1="1472.41" x2="1262.2" y2="1577.02" stroke="#fff" stroke-width="1.0"/>
<line x1="1315.4" y1="1472.41" x2="1315.4" y2="1577.02" stroke="#fff" stroke-width="1.0"/>
<line x1="1368.7" y1="1472.41" x2="1368.7" y2="1577.02" stroke="#fff" stroke-width="1.0"/>
<line x1="1422.1" y1="1472.41" x2="1422.1" y2="1577.02" stroke="#fff" stroke-width="1.0"/>
<line x1="1475.5" y1="1472.41" x2="1475.5" y2="1577.02" stroke="#fff" stroke-width="1.0"/>
<line x1="1181.9" y1="1472.41" x2="1181.9" y2="1577.02" stroke="#fff" stroke-width="1.6"/>
<line x1="1235.5" y1="1472.41" x2="1235.5" y2="1577.02" stroke="#fff" stroke-width="1.6"/>
<line x1="1288.9" y1="1472.41" x2="1288.9" y2="1577.02" stroke="#fff" stroke-width="1.6"/>
<line x1="1342.1" y1="1472.41" x2="1342.1" y2="1577.02" stroke="#fff" stroke-width="1.6"/>
<line x1="1395.4" y1="1472.41" x2="1395.4" y2="1577.02" stroke="#fff" stroke-width="1.6"/>
<line x1="1448.8" y1="1472.41" x2="1448.8" y2="1577.02" stroke="#fff" stroke-width="1.6"/>
<rect x="453" y="1589.62" width="340.2" height="104.61" fill="#EBEBEB"/>
<line x1="542.45" y1="1589.62" x2="542.45" y2="1694.23" stroke="#fff" stroke-width="1.0"/>
<line x1="633.95" y1="1589.62" x2="633.95" y2="1694.23" stroke="#fff" stroke-width="1.0"/>
<line x1="725.45" y1="1589.62" x2="725.45" y2="1694.23" stroke="#fff" stroke-width="1.0"/>
<line x1="496.7" y1="1589.62" x2="496.7" y2="1694.23" stroke="#fff" stroke-width="1.6"/>
<line x1="588.2" y1="1589.62" x2="588.2" y2="1694.23" stroke="#fff" stroke-width="1.6"/>
<line x1="679.7" y1="1589.62" x2="679.7" y2="1694.23" stroke="#fff" stroke-width="1.6"/>
<line x1="771.2" y1="1589.62" x2="771.2" y2="1694.23" stroke="#fff" stroke-width="1.6"/>
<rect x="803.2" y="1589.62" width="339.4" height="104.61" fill="#EBEBEB"/>
<line x1="811.1" y1="1589.62" x2="811.1" y2="1694.23" stroke="#fff" stroke-width="1.0"/>
<line x1="867.7" y1="1589.62" x2="867.7" y2="1694.23" stroke="#fff" stroke-width="1.0"/>
<line x1="952.6" y1="1589.62" x2="952.6" y2="1694.23" stroke="#fff" stroke-width="1.0"/>
<line x1="1065.8" y1="1589.62" x2="1065.8" y2="1694.23" stroke="#fff" stroke-width="1.0"/>
<line x1="839.4" y1="1589.62" x2="839.4" y2="1694.23" stroke="#fff" stroke-width="1.6"/>
<line x1="896" y1="1589.62" x2="896" y2="1694.23" stroke="#fff" stroke-width="1.6"/>
<line x1="1009.2" y1="1589.62" x2="1009.2" y2="1694.23" stroke="#fff" stroke-width="1.6"/>
<line x1="1122.4" y1="1589.62" x2="1122.4" y2="1694.23" stroke="#fff" stroke-width="1.6"/>
<rect x="1153" y="1589.62" width="340" height="104.61" fill="#EBEBEB"/>
<line x1="1155.2" y1="1589.62" x2="1155.2" y2="1694.23" stroke="#fff" stroke-width="1.0"/>
<line x1="1208.8" y1="1589.62" x2="1208.8" y2="1694.23" stroke="#fff" stroke-width="1.0"/>
<line x1="1262.2" y1="1589.62" x2="1262.2" y2="1694.23" stroke="#fff" stroke-width="1.0"/>
<line x1="1315.4" y1="1589.62" x2="1315.4" y2="1694.23" stroke="#fff" stroke-width="1.0"/>
<line x1="1368.7" y1="1589.62" x2="1368.7" y2="1694.23" stroke="#fff" stroke-width="1.0"/>
<line x1="1422.1" y1="1589.62" x2="1422.1" y2="1694.23" stroke="#fff" stroke-width="1.0"/>
<line x1="1475.5" y1="1589.62" x2="1475.5" y2="1694.23" stroke="#fff" stroke-width="1.0"/>
<line x1="1181.9" y1="1589.62" x2="1181.9" y2="1694.23" stroke="#fff" stroke-width="1.6"/>
<line x1="1235.5" y1="1589.62" x2="1235.5" y2="1694.23" stroke="#fff" stroke-width="1.6"/>
<line x1="1288.9" y1="1589.62" x2="1288.9" y2="1694.23" stroke="#fff" stroke-width="1.6"/>
<line x1="1342.1" y1="1589.62" x2="1342.1" y2="1694.23" stroke="#fff" stroke-width="1.6"/>
<line x1="1395.4" y1="1589.62" x2="1395.4" y2="1694.23" stroke="#fff" stroke-width="1.6"/>
<line x1="1448.8" y1="1589.62" x2="1448.8" y2="1694.23" stroke="#fff" stroke-width="1.6"/>
<rect x="453" y="1706.83" width="340.2" height="57.06" fill="#EBEBEB"/>
<line x1="542.45" y1="1706.83" x2="542.45" y2="1763.89" stroke="#fff" stroke-width="1.0"/>
<line x1="633.95" y1="1706.83" x2="633.95" y2="1763.89" stroke="#fff" stroke-width="1.0"/>
<line x1="725.45" y1="1706.83" x2="725.45" y2="1763.89" stroke="#fff" stroke-width="1.0"/>
<line x1="496.7" y1="1706.83" x2="496.7" y2="1763.89" stroke="#fff" stroke-width="1.6"/>
<line x1="588.2" y1="1706.83" x2="588.2" y2="1763.89" stroke="#fff" stroke-width="1.6"/>
<line x1="679.7" y1="1706.83" x2="679.7" y2="1763.89" stroke="#fff" stroke-width="1.6"/>
<line x1="771.2" y1="1706.83" x2="771.2" y2="1763.89" stroke="#fff" stroke-width="1.6"/>
<rect x="803.2" y="1706.83" width="339.4" height="57.06" fill="#EBEBEB"/>
<line x1="811.1" y1="1706.83" x2="811.1" y2="1763.89" stroke="#fff" stroke-width="1.0"/>
<line x1="867.7" y1="1706.83" x2="867.7" y2="1763.89" stroke="#fff" stroke-width="1.0"/>
<line x1="952.6" y1="1706.83" x2="952.6" y2="1763.89" stroke="#fff" stroke-width="1.0"/>
<line x1="1065.8" y1="1706.83" x2="1065.8" y2="1763.89" stroke="#fff" stroke-width="1.0"/>
<line x1="839.4" y1="1706.83" x2="839.4" y2="1763.89" stroke="#fff" stroke-width="1.6"/>
<line x1="896" y1="1706.83" x2="896" y2="1763.89" stroke="#fff" stroke-width="1.6"/>
<line x1="1009.2" y1="1706.83" x2="1009.2" y2="1763.89" stroke="#fff" stroke-width="1.6"/>
<line x1="1122.4" y1="1706.83" x2="1122.4" y2="1763.89" stroke="#fff" stroke-width="1.6"/>
<rect x="1153" y="1706.83" width="340" height="57.06" fill="#EBEBEB"/>
<line x1="1155.2" y1="1706.83" x2="1155.2" y2="1763.89" stroke="#fff" stroke-width="1.0"/>
<line x1="1208.8" y1="1706.83" x2="1208.8" y2="1763.89" stroke="#fff" stroke-width="1.0"/>
<line x1="1262.2" y1="1706.83" x2="1262.2" y2="1763.89" stroke="#fff" stroke-width="1.0"/>
<line x1="1315.4" y1="1706.83" x2="1315.4" y2="1763.89" stroke="#fff" stroke-width="1.0"/>
<line x1="1368.7" y1="1706.83" x2="1368.7" y2="1763.89" stroke="#fff" stroke-width="1.0"/>
<line x1="1422.1" y1="1706.83" x2="1422.1" y2="1763.89" stroke="#fff" stroke-width="1.0"/>
<line x1="1475.5" y1="1706.83" x2="1475.5" y2="1763.89" stroke="#fff" stroke-width="1.0"/>
<line x1="1181.9" y1="1706.83" x2="1181.9" y2="1763.89" stroke="#fff" stroke-width="1.6"/>
<line x1="1235.5" y1="1706.83" x2="1235.5" y2="1763.89" stroke="#fff" stroke-width="1.6"/>
<line x1="1288.9" y1="1706.83" x2="1288.9" y2="1763.89" stroke="#fff" stroke-width="1.6"/>
<line x1="1342.1" y1="1706.83" x2="1342.1" y2="1763.89" stroke="#fff" stroke-width="1.6"/>
<line x1="1395.4" y1="1706.83" x2="1395.4" y2="1763.89" stroke="#fff" stroke-width="1.6"/>
<line x1="1448.8" y1="1706.83" x2="1448.8" y2="1763.89" stroke="#fff" stroke-width="1.6"/>
<rect x="453" y="1776.49" width="340.2" height="104.61" fill="#EBEBEB"/>
<line x1="542.45" y1="1776.49" x2="542.45" y2="1881.1" stroke="#fff" stroke-width="1.0"/>
<line x1="633.95" y1="1776.49" x2="633.95" y2="1881.1" stroke="#fff" stroke-width="1.0"/>
<line x1="725.45" y1="1776.49" x2="725.45" y2="1881.1" stroke="#fff" stroke-width="1.0"/>
<line x1="496.7" y1="1776.49" x2="496.7" y2="1881.1" stroke="#fff" stroke-width="1.6"/>
<line x1="588.2" y1="1776.49" x2="588.2" y2="1881.1" stroke="#fff" stroke-width="1.6"/>
<line x1="679.7" y1="1776.49" x2="679.7" y2="1881.1" stroke="#fff" stroke-width="1.6"/>
<line x1="771.2" y1="1776.49" x2="771.2" y2="1881.1" stroke="#fff" stroke-width="1.6"/>
<rect x="803.2" y="1776.49" width="339.4" height="104.61" fill="#EBEBEB"/>
<line x1="811.1" y1="1776.49" x2="811.1" y2="1881.1" stroke="#fff" stroke-width="1.0"/>
<line x1="867.7" y1="1776.49" x2="867.7" y2="1881.1" stroke="#fff" stroke-width="1.0"/>
<line x1="952.6" y1="1776.49" x2="952.6" y2="1881.1" stroke="#fff" stroke-width="1.0"/>
<line x1="1065.8" y1="1776.49" x2="1065.8" y2="1881.1" stroke="#fff" stroke-width="1.0"/>
<line x1="839.4" y1="1776.49" x2="839.4" y2="1881.1" stroke="#fff" stroke-width="1.6"/>
<line x1="896" y1="1776.49" x2="896" y2="1881.1" stroke="#fff" stroke-width="1.6"/>
<line x1="1009.2" y1="1776.49" x2="1009.2" y2="1881.1" stroke="#fff" stroke-width="1.6"/>
<line x1="1122.4" y1="1776.49" x2="1122.4" y2="1881.1" stroke="#fff" stroke-width="1.6"/>
<rect x="1153" y="1776.49" width="340" height="104.61" fill="#EBEBEB"/>
<line x1="1155.2" y1="1776.49" x2="1155.2" y2="1881.1" stroke="#fff" stroke-width="1.0"/>
<line x1="1208.8" y1="1776.49" x2="1208.8" y2="1881.1" stroke="#fff" stroke-width="1.0"/>
<line x1="1262.2" y1="1776.49" x2="1262.2" y2="1881.1" stroke="#fff" stroke-width="1.0"/>
<line x1="1315.4" y1="1776.49" x2="1315.4" y2="1881.1" stroke="#fff" stroke-width="1.0"/>
<line x1="1368.7" y1="1776.49" x2="1368.7" y2="1881.1" stroke="#fff" stroke-width="1.0"/>
<line x1="1422.1" y1="1776.49" x2="1422.1" y2="1881.1" stroke="#fff" stroke-width="1.0"/>
<line x1="1475.5" y1="1776.49" x2="1475.5" y2="1881.1" stroke="#fff" stroke-width="1.0"/>
<line x1="1181.9" y1="1776.49" x2="1181.9" y2="1881.1" stroke="#fff" stroke-width="1.6"/>
<line x1="1235.5" y1="1776.49" x2="1235.5" y2="1881.1" stroke="#fff" stroke-width="1.6"/>
<line x1="1288.9" y1="1776.49" x2="1288.9" y2="1881.1" stroke="#fff" stroke-width="1.6"/>
<line x1="1342.1" y1="1776.49" x2="1342.1" y2="1881.1" stroke="#fff" stroke-width="1.6"/>
<line x1="1395.4" y1="1776.49" x2="1395.4" y2="1881.1" stroke="#fff" stroke-width="1.6"/>
<line x1="1448.8" y1="1776.49" x2="1448.8" y2="1881.1" stroke="#fff" stroke-width="1.6"/>
<rect x="453" y="1893.7" width="340.2" height="57.06" fill="#EBEBEB"/>
<line x1="542.45" y1="1893.7" x2="542.45" y2="1950.76" stroke="#fff" stroke-width="1.0"/>
<line x1="633.95" y1="1893.7" x2="633.95" y2="1950.76" stroke="#fff" stroke-width="1.0"/>
<line x1="725.45" y1="1893.7" x2="725.45" y2="1950.76" stroke="#fff" stroke-width="1.0"/>
<line x1="496.7" y1="1893.7" x2="496.7" y2="1950.76" stroke="#fff" stroke-width="1.6"/>
<line x1="588.2" y1="1893.7" x2="588.2" y2="1950.76" stroke="#fff" stroke-width="1.6"/>
<line x1="679.7" y1="1893.7" x2="679.7" y2="1950.76" stroke="#fff" stroke-width="1.6"/>
<line x1="771.2" y1="1893.7" x2="771.2" y2="1950.76" stroke="#fff" stroke-width="1.6"/>
<rect x="803.2" y="1893.7" width="339.4" height="57.06" fill="#EBEBEB"/>
<line x1="811.1" y1="1893.7" x2="811.1" y2="1950.76" stroke="#fff" stroke-width="1.0"/>
<line x1="867.7" y1="1893.7" x2="867.7" y2="1950.76" stroke="#fff" stroke-width="1.0"/>
<line x1="952.6" y1="1893.7" x2="952.6" y2="1950.76" stroke="#fff" stroke-width="1.0"/>
<line x1="1065.8" y1="1893.7" x2="1065.8" y2="1950.76" stroke="#fff" stroke-width="1.0"/>
<line x1="839.4" y1="1893.7" x2="839.4" y2="1950.76" stroke="#fff" stroke-width="1.6"/>
<line x1="896" y1="1893.7" x2="896" y2="1950.76" stroke="#fff" stroke-width="1.6"/>
<line x1="1009.2" y1="1893.7" x2="1009.2" y2="1950.76" stroke="#fff" stroke-width="1.6"/>
<line x1="1122.4" y1="1893.7" x2="1122.4" y2="1950.76" stroke="#fff" stroke-width="1.6"/>
<rect x="1153" y="1893.7" width="340" height="57.06" fill="#EBEBEB"/>
<line x1="1155.2" y1="1893.7" x2="1155.2" y2="1950.76" stroke="#fff" stroke-width="1.0"/>
<line x1="1208.8" y1="1893.7" x2="1208.8" y2="1950.76" stroke="#fff" stroke-width="1.0"/>
<line x1="1262.2" y1="1893.7" x2="1262.2" y2="1950.76" stroke="#fff" stroke-width="1.0"/>
<line x1="1315.4" y1="1893.7" x2="1315.4" y2="1950.76" stroke="#fff" stroke-width="1.0"/>
<line x1="1368.7" y1="1893.7" x2="1368.7" y2="1950.76" stroke="#fff" stroke-width="1.0"/>
<line x1="1422.1" y1="1893.7" x2="1422.1" y2="1950.76" stroke="#fff" stroke-width="1.0"/>
<line x1="1475.5" y1="1893.7" x2="1475.5" y2="1950.76" stroke="#fff" stroke-width="1.0"/>
<line x1="1181.9" y1="1893.7" x2="1181.9" y2="1950.76" stroke="#fff" stroke-width="1.6"/>
<line x1="1235.5" y1="1893.7" x2="1235.5" y2="1950.76" stroke="#fff" stroke-width="1.6"/>
<line x1="1288.9" y1="1893.7" x2="1288.9" y2="1950.76" stroke="#fff" stroke-width="1.6"/>
<line x1="1342.1" y1="1893.7" x2="1342.1" y2="1950.76" stroke="#fff" stroke-width="1.6"/>
<line x1="1395.4" y1="1893.7" x2="1395.4" y2="1950.76" stroke="#fff" stroke-width="1.6"/>
<line x1="1448.8" y1="1893.7" x2="1448.8" y2="1950.76" stroke="#fff" stroke-width="1.6"/>
<rect x="453" y="1963.36" width="340.2" height="152.16" fill="#EBEBEB"/>
<line x1="542.45" y1="1963.36" x2="542.45" y2="2115.52" stroke="#fff" stroke-width="1.0"/>
<line x1="633.95" y1="1963.36" x2="633.95" y2="2115.52" stroke="#fff" stroke-width="1.0"/>
<line x1="725.45" y1="1963.36" x2="725.45" y2="2115.52" stroke="#fff" stroke-width="1.0"/>
<line x1="496.7" y1="1963.36" x2="496.7" y2="2115.52" stroke="#fff" stroke-width="1.6"/>
<line x1="588.2" y1="1963.36" x2="588.2" y2="2115.52" stroke="#fff" stroke-width="1.6"/>
<line x1="679.7" y1="1963.36" x2="679.7" y2="2115.52" stroke="#fff" stroke-width="1.6"/>
<line x1="771.2" y1="1963.36" x2="771.2" y2="2115.52" stroke="#fff" stroke-width="1.6"/>
<rect x="803.2" y="1963.36" width="339.4" height="152.16" fill="#EBEBEB"/>
<line x1="811.1" y1="1963.36" x2="811.1" y2="2115.52" stroke="#fff" stroke-width="1.0"/>
<line x1="867.7" y1="1963.36" x2="867.7" y2="2115.52" stroke="#fff" stroke-width="1.0"/>
<line x1="952.6" y1="1963.36" x2="952.6" y2="2115.52" stroke="#fff" stroke-width="1.0"/>
<line x1="1065.8" y1="1963.36" x2="1065.8" y2="2115.52" stroke="#fff" stroke-width="1.0"/>
<line x1="839.4" y1="1963.36" x2="839.4" y2="2115.52" stroke="#fff" stroke-width="1.6"/>
<line x1="896" y1="1963.36" x2="896" y2="2115.52" stroke="#fff" stroke-width="1.6"/>
<line x1="1009.2" y1="1963.36" x2="1009.2" y2="2115.52" stroke="#fff" stroke-width="1.6"/>
<line x1="1122.4" y1="1963.36" x2="1122.4" y2="2115.52" stroke="#fff" stroke-width="1.6"/>
<rect x="1153" y="1963.36" width="340" height="152.16" fill="#EBEBEB"/>
<line x1="1155.2" y1="1963.36" x2="1155.2" y2="2115.52" stroke="#fff" stroke-width="1.0"/>
<line x1="1208.8" y1="1963.36" x2="1208.8" y2="2115.52" stroke="#fff" stroke-width="1.0"/>
<line x1="1262.2" y1="1963.36" x2="1262.2" y2="2115.52" stroke="#fff" stroke-width="1.0"/>
<line x1="1315.4" y1="1963.36" x2="1315.4" y2="2115.52" stroke="#fff" stroke-width="1.0"/>
<line x1="1368.7" y1="1963.36" x2="1368.7" y2="2115.52" stroke="#fff" stroke-width="1.0"/>
<line x1="1422.1" y1="1963.36" x2="1422.1" y2="2115.52" stroke="#fff" stroke-width="1.0"/>
<line x1="1475.5" y1="1963.36" x2="1475.5" y2="2115.52" stroke="#fff" stroke-width="1.0"/>
<line x1="1181.9" y1="1963.36" x2="1181.9" y2="2115.52" stroke="#fff" stroke-width="1.6"/>
<line x1="1235.5" y1="1963.36" x2="1235.5" y2="2115.52" stroke="#fff" stroke-width="1.6"/>
<line x1="1288.9" y1="1963.36" x2="1288.9" y2="2115.52" stroke="#fff" stroke-width="1.6"/>
<line x1="1342.1" y1="1963.36" x2="1342.1" y2="2115.52" stroke="#fff" stroke-width="1.6"/>
<line x1="1395.4" y1="1963.36" x2="1395.4" y2="2115.52" stroke="#fff" stroke-width="1.6"/>
<line x1="1448.8" y1="1963.36" x2="1448.8" y2="2115.52" stroke="#fff" stroke-width="1.6"/>
<rect x="453" y="2128.12" width="340.2" height="152.16" fill="#EBEBEB"/>
<line x1="542.45" y1="2128.12" x2="542.45" y2="2280.28" stroke="#fff" stroke-width="1.0"/>
<line x1="633.95" y1="2128.12" x2="633.95" y2="2280.28" stroke="#fff" stroke-width="1.0"/>
<line x1="725.45" y1="2128.12" x2="725.45" y2="2280.28" stroke="#fff" stroke-width="1.0"/>
<line x1="496.7" y1="2128.12" x2="496.7" y2="2280.28" stroke="#fff" stroke-width="1.6"/>
<line x1="588.2" y1="2128.12" x2="588.2" y2="2280.28" stroke="#fff" stroke-width="1.6"/>
<line x1="679.7" y1="2128.12" x2="679.7" y2="2280.28" stroke="#fff" stroke-width="1.6"/>
<line x1="771.2" y1="2128.12" x2="771.2" y2="2280.28" stroke="#fff" stroke-width="1.6"/>
<rect x="803.2" y="2128.12" width="339.4" height="152.16" fill="#EBEBEB"/>
<line x1="811.1" y1="2128.12" x2="811.1" y2="2280.28" stroke="#fff" stroke-width="1.0"/>
<line x1="867.7" y1="2128.12" x2="867.7" y2="2280.28" stroke="#fff" stroke-width="1.0"/>
<line x1="952.6" y1="2128.12" x2="952.6" y2="2280.28" stroke="#fff" stroke-width="1.0"/>
<line x1="1065.8" y1="2128.12" x2="1065.8" y2="2280.28" stroke="#fff" stroke-width="1.0"/>
<line x1="839.4" y1="2128.12" x2="839.4" y2="2280.28" stroke="#fff" stroke-width="1.6"/>
<line x1="896" y1="2128.12" x2="896" y2="2280.28" stroke="#fff" stroke-width="1.6"/>
<line x1="1009.2" y1="2128.12" x2="1009.2" y2="2280.28" stroke="#fff" stroke-width="1.6"/>
<line x1="1122.4" y1="2128.12" x2="1122.4" y2="2280.28" stroke="#fff" stroke-width="1.6"/>
<rect x="1153" y="2128.12" width="340" height="152.16" fill="#EBEBEB"/>
<line x1="1155.2" y1="2128.12" x2="1155.2" y2="2280.28" stroke="#fff" stroke-width="1.0"/>
<line x1="1208.8" y1="2128.12" x2="1208.8" y2="2280.28" stroke="#fff" stroke-width="1.0"/>
<line x1="1262.2" y1="2128.12" x2="1262.2" y2="2280.28" stroke="#fff" stroke-width="1.0"/>
<line x1="1315.4" y1="2128.12" x2="1315.4" y2="2280.28" stroke="#fff" stroke-width="1.0"/>
<line x1="1368.7" y1="2128.12" x2="1368.7" y2="2280.28" stroke="#fff" stroke-width="1.0"/>
<line x1="1422.1" y1="2128.12" x2="1422.1" y2="2280.28" stroke="#fff" stroke-width="1.0"/>
<line x1="1475.5" y1="2128.12" x2="1475.5" y2="2280.28" stroke="#fff" stroke-width="1.0"/>
<line x1="1181.9" y1="2128.12" x2="1181.9" y2="2280.28" stroke="#fff" stroke-width="1.6"/>
<line x1="1235.5" y1="2128.12" x2="1235.5" y2="2280.28" stroke="#fff" stroke-width="1.6"/>
<line x1="1288.9" y1="2128.12" x2="1288.9" y2="2280.28" stroke="#fff" stroke-width="1.6"/>
<line x1="1342.1" y1="2128.12" x2="1342.1" y2="2280.28" stroke="#fff" stroke-width="1.6"/>
<line x1="1395.4" y1="2128.12" x2="1395.4" y2="2280.28" stroke="#fff" stroke-width="1.6"/>
<line x1="1448.8" y1="2128.12" x2="1448.8" y2="2280.28" stroke="#fff" stroke-width="1.6"/>
<rect x="453" y="2292.88" width="340.2" height="57.06" fill="#EBEBEB"/>
<line x1="542.45" y1="2292.88" x2="542.45" y2="2349.94" stroke="#fff" stroke-width="1.0"/>
<line x1="633.95" y1="2292.88" x2="633.95" y2="2349.94" stroke="#fff" stroke-width="1.0"/>
<line x1="725.45" y1="2292.88" x2="725.45" y2="2349.94" stroke="#fff" stroke-width="1.0"/>
<line x1="496.7" y1="2292.88" x2="496.7" y2="2349.94" stroke="#fff" stroke-width="1.6"/>
<line x1="588.2" y1="2292.88" x2="588.2" y2="2349.94" stroke="#fff" stroke-width="1.6"/>
<line x1="679.7" y1="2292.88" x2="679.7" y2="2349.94" stroke="#fff" stroke-width="1.6"/>
<line x1="771.2" y1="2292.88" x2="771.2" y2="2349.94" stroke="#fff" stroke-width="1.6"/>
<rect x="803.2" y="2292.88" width="339.4" height="57.06" fill="#EBEBEB"/>
<line x1="811.1" y1="2292.88" x2="811.1" y2="2349.94" stroke="#fff" stroke-width="1.0"/>
<line x1="867.7" y1="2292.88" x2="867.7" y2="2349.94" stroke="#fff" stroke-width="1.0"/>
<line x1="952.6" y1="2292.88" x2="952.6" y2="2349.94" stroke="#fff" stroke-width="1.0"/>
<line x1="1065.8" y1="2292.88" x2="1065.8" y2="2349.94" stroke="#fff" stroke-width="1.0"/>
<line x1="839.4" y1="2292.88" x2="839.4" y2="2349.94" stroke="#fff" stroke-width="1.6"/>
<line x1="896" y1="2292.88" x2="896" y2="2349.94" stroke="#fff" stroke-width="1.6"/>
<line x1="1009.2" y1="2292.88" x2="1009.2" y2="2349.94" stroke="#fff" stroke-width="1.6"/>
<line x1="1122.4" y1="2292.88" x2="1122.4" y2="2349.94" stroke="#fff" stroke-width="1.6"/>
<rect x="1153" y="2292.88" width="340" height="57.06" fill="#EBEBEB"/>
<line x1="1155.2" y1="2292.88" x2="1155.2" y2="2349.94" stroke="#fff" stroke-width="1.0"/>
<line x1="1208.8" y1="2292.88" x2="1208.8" y2="2349.94" stroke="#fff" stroke-width="1.0"/>
<line x1="1262.2" y1="2292.88" x2="1262.2" y2="2349.94" stroke="#fff" stroke-width="1.0"/>
<line x1="1315.4" y1="2292.88" x2="1315.4" y2="2349.94" stroke="#fff" stroke-width="1.0"/>
<line x1="1368.7" y1="2292.88" x2="1368.7" y2="2349.94" stroke="#fff" stroke-width="1.0"/>
<line x1="1422.1" y1="2292.88" x2="1422.1" y2="2349.94" stroke="#fff" stroke-width="1.0"/>
<line x1="1475.5" y1="2292.88" x2="1475.5" y2="2349.94" stroke="#fff" stroke-width="1.0"/>
<line x1="1181.9" y1="2292.88" x2="1181.9" y2="2349.94" stroke="#fff" stroke-width="1.6"/>
<line x1="1235.5" y1="2292.88" x2="1235.5" y2="2349.94" stroke="#fff" stroke-width="1.6"/>
<line x1="1288.9" y1="2292.88" x2="1288.9" y2="2349.94" stroke="#fff" stroke-width="1.6"/>
<line x1="1342.1" y1="2292.88" x2="1342.1" y2="2349.94" stroke="#fff" stroke-width="1.6"/>
<line x1="1395.4" y1="2292.88" x2="1395.4" y2="2349.94" stroke="#fff" stroke-width="1.6"/>
<line x1="1448.8" y1="2292.88" x2="1448.8" y2="2349.94" stroke="#fff" stroke-width="1.6"/>
<rect x="453" y="2362.54" width="340.2" height="57.06" fill="#EBEBEB"/>
<line x1="542.45" y1="2362.54" x2="542.45" y2="2419.6" stroke="#fff" stroke-width="1.0"/>
<line x1="633.95" y1="2362.54" x2="633.95" y2="2419.6" stroke="#fff" stroke-width="1.0"/>
<line x1="725.45" y1="2362.54" x2="725.45" y2="2419.6" stroke="#fff" stroke-width="1.0"/>
<line x1="496.7" y1="2362.54" x2="496.7" y2="2419.6" stroke="#fff" stroke-width="1.6"/>
<line x1="588.2" y1="2362.54" x2="588.2" y2="2419.6" stroke="#fff" stroke-width="1.6"/>
<line x1="679.7" y1="2362.54" x2="679.7" y2="2419.6" stroke="#fff" stroke-width="1.6"/>
<line x1="771.2" y1="2362.54" x2="771.2" y2="2419.6" stroke="#fff" stroke-width="1.6"/>
<rect x="803.2" y="2362.54" width="339.4" height="57.06" fill="#EBEBEB"/>
<line x1="811.1" y1="2362.54" x2="811.1" y2="2419.6" stroke="#fff" stroke-width="1.0"/>
<line x1="867.7" y1="2362.54" x2="867.7" y2="2419.6" stroke="#fff" stroke-width="1.0"/>
<line x1="952.6" y1="2362.54" x2="952.6" y2="2419.6" stroke="#fff" stroke-width="1.0"/>
<line x1="1065.8" y1="2362.54" x2="1065.8" y2="2419.6" stroke="#fff" stroke-width="1.0"/>
<line x1="839.4" y1="2362.54" x2="839.4" y2="2419.6" stroke="#fff" stroke-width="1.6"/>
<line x1="896" y1="2362.54" x2="896" y2="2419.6" stroke="#fff" stroke-width="1.6"/>
<line x1="1009.2" y1="2362.54" x2="1009.2" y2="2419.6" stroke="#fff" stroke-width="1.6"/>
<line x1="1122.4" y1="2362.54" x2="1122.4" y2="2419.6" stroke="#fff" stroke-width="1.6"/>
<rect x="1153" y="2362.54" width="340" height="57.06" fill="#EBEBEB"/>
<line x1="1155.2" y1="2362.54" x2="1155.2" y2="2419.6" stroke="#fff" stroke-width="1.0"/>
<line x1="1208.8" y1="2362.54" x2="1208.8" y2="2419.6" stroke="#fff" stroke-width="1.0"/>
<line x1="1262.2" y1="2362.54" x2="1262.2" y2="2419.6" stroke="#fff" stroke-width="1.0"/>
<line x1="1315.4" y1="2362.54" x2="1315.4" y2="2419.6" stroke="#fff" stroke-width="1.0"/>
<line x1="1368.7" y1="2362.54" x2="1368.7" y2="2419.6" stroke="#fff" stroke-width="1.0"/>
<line x1="1422.1" y1="2362.54" x2="1422.1" y2="2419.6" stroke="#fff" stroke-width="1.0"/>
<line x1="1475.5" y1="2362.54" x2="1475.5" y2="2419.6" stroke="#fff" stroke-width="1.0"/>
<line x1="1181.9" y1="2362.54" x2="1181.9" y2="2419.6" stroke="#fff" stroke-width="1.6"/>
<line x1="1235.5" y1="2362.54" x2="1235.5" y2="2419.6" stroke="#fff" stroke-width="1.6"/>
<line x1="1288.9" y1="2362.54" x2="1288.9" y2="2419.6" stroke="#fff" stroke-width="1.6"/>
<line x1="1342.1" y1="2362.54" x2="1342.1" y2="2419.6" stroke="#fff" stroke-width="1.6"/>
<line x1="1395.4" y1="2362.54" x2="1395.4" y2="2419.6" stroke="#fff" stroke-width="1.6"/>
<line x1="1448.8" y1="2362.54" x2="1448.8" y2="2419.6" stroke="#fff" stroke-width="1.6"/>
<rect x="453" y="2432.2" width="340.2" height="57.06" fill="#EBEBEB"/>
<line x1="542.45" y1="2432.2" x2="542.45" y2="2489.26" stroke="#fff" stroke-width="1.0"/>
<line x1="633.95" y1="2432.2" x2="633.95" y2="2489.26" stroke="#fff" stroke-width="1.0"/>
<line x1="725.45" y1="2432.2" x2="725.45" y2="2489.26" stroke="#fff" stroke-width="1.0"/>
<line x1="496.7" y1="2432.2" x2="496.7" y2="2489.26" stroke="#fff" stroke-width="1.6"/>
<line x1="588.2" y1="2432.2" x2="588.2" y2="2489.26" stroke="#fff" stroke-width="1.6"/>
<line x1="679.7" y1="2432.2" x2="679.7" y2="2489.26" stroke="#fff" stroke-width="1.6"/>
<line x1="771.2" y1="2432.2" x2="771.2" y2="2489.26" stroke="#fff" stroke-width="1.6"/>
<rect x="803.2" y="2432.2" width="339.4" height="57.06" fill="#EBEBEB"/>
<line x1="811.1" y1="2432.2" x2="811.1" y2="2489.26" stroke="#fff" stroke-width="1.0"/>
<line x1="867.7" y1="2432.2" x2="867.7" y2="2489.26" stroke="#fff" stroke-width="1.0"/>
<line x1="952.6" y1="2432.2" x2="952.6" y2="2489.26" stroke="#fff" stroke-width="1.0"/>
<line x1="1065.8" y1="2432.2" x2="1065.8" y2="2489.26" stroke="#fff" stroke-width="1.0"/>
<line x1="839.4" y1="2432.2" x2="839.4" y2="2489.26" stroke="#fff" stroke-width="1.6"/>
<line x1="896" y1="2432.2" x2="896" y2="2489.26" stroke="#fff" stroke-width="1.6"/>
<line x1="1009.2" y1="2432.2" x2="1009.2" y2="2489.26" stroke="#fff" stroke-width="1.6"/>
<line x1="1122.4" y1="2432.2" x2="1122.4" y2="2489.26" stroke="#fff" stroke-width="1.6"/>
<rect x="1153" y="2432.2" width="340" height="57.06" fill="#EBEBEB"/>
<line x1="1155.2" y1="2432.2" x2="1155.2" y2="2489.26" stroke="#fff" stroke-width="1.0"/>
<line x1="1208.8" y1="2432.2" x2="1208.8" y2="2489.26" stroke="#fff" stroke-width="1.0"/>
<line x1="1262.2" y1="2432.2" x2="1262.2" y2="2489.26" stroke="#fff" stroke-width="1.0"/>
<line x1="1315.4" y1="2432.2" x2="1315.4" y2="2489.26" stroke="#fff" stroke-width="1.0"/>
<line x1="1368.7" y1="2432.2" x2="1368.7" y2="2489.26" stroke="#fff" stroke-width="1.0"/>
<line x1="1422.1" y1="2432.2" x2="1422.1" y2="2489.26" stroke="#fff" stroke-width="1.0"/>
<line x1="1475.5" y1="2432.2" x2="1475.5" y2="2489.26" stroke="#fff" stroke-width="1.0"/>
<line x1="1181.9" y1="2432.2" x2="1181.9" y2="2489.26" stroke="#fff" stroke-width="1.6"/>
<line x1="1235.5" y1="2432.2" x2="1235.5" y2="2489.26" stroke="#fff" stroke-width="1.6"/>
<line x1="1288.9" y1="2432.2" x2="1288.9" y2="2489.26" stroke="#fff" stroke-width="1.6"/>
<line x1="1342.1" y1="2432.2" x2="1342.1" y2="2489.26" stroke="#fff" stroke-width="1.6"/>
<line x1="1395.4" y1="2432.2" x2="1395.4" y2="2489.26" stroke="#fff" stroke-width="1.6"/>
<line x1="1448.8" y1="2432.2" x2="1448.8" y2="2489.26" stroke="#fff" stroke-width="1.6"/>
<line x1="453" y1="179.53" x2="793.2" y2="179.53" stroke="#fff" stroke-width="1.6"/>
<line x1="803.2" y1="179.53" x2="1142.6" y2="179.53" stroke="#fff" stroke-width="1.6"/>
<line x1="1153" y1="179.53" x2="1493" y2="179.53" stroke="#fff" stroke-width="1.6"/>
<line x1="453" y1="227.08" x2="793.2" y2="227.08" stroke="#fff" stroke-width="1.6"/>
<line x1="803.2" y1="227.08" x2="1142.6" y2="227.08" stroke="#fff" stroke-width="1.6"/>
<line x1="1153" y1="227.08" x2="1493" y2="227.08" stroke="#fff" stroke-width="1.6"/>
<line x1="453" y1="274.63" x2="793.2" y2="274.63" stroke="#fff" stroke-width="1.6"/>
<line x1="803.2" y1="274.63" x2="1142.6" y2="274.63" stroke="#fff" stroke-width="1.6"/>
<line x1="1153" y1="274.63" x2="1493" y2="274.63" stroke="#fff" stroke-width="1.6"/>
<line x1="453" y1="322.18" x2="793.2" y2="322.18" stroke="#fff" stroke-width="1.6"/>
<line x1="803.2" y1="322.18" x2="1142.6" y2="322.18" stroke="#fff" stroke-width="1.6"/>
<line x1="1153" y1="322.18" x2="1493" y2="322.18" stroke="#fff" stroke-width="1.6"/>
<line x1="453" y1="369.73" x2="793.2" y2="369.73" stroke="#fff" stroke-width="1.6"/>
<line x1="803.2" y1="369.73" x2="1142.6" y2="369.73" stroke="#fff" stroke-width="1.6"/>
<line x1="1153" y1="369.73" x2="1493" y2="369.73" stroke="#fff" stroke-width="1.6"/>
<line x1="453" y1="417.28" x2="793.2" y2="417.28" stroke="#fff" stroke-width="1.6"/>
<line x1="803.2" y1="417.28" x2="1142.6" y2="417.28" stroke="#fff" stroke-width="1.6"/>
<line x1="1153" y1="417.28" x2="1493" y2="417.28" stroke="#fff" stroke-width="1.6"/>
<line x1="453" y1="464.83" x2="793.2" y2="464.83" stroke="#fff" stroke-width="1.6"/>
<line x1="803.2" y1="464.83" x2="1142.6" y2="464.83" stroke="#fff" stroke-width="1.6"/>
<line x1="1153" y1="464.83" x2="1493" y2="464.83" stroke="#fff" stroke-width="1.6"/>
<line x1="453" y1="534.49" x2="793.2" y2="534.49" stroke="#fff" stroke-width="1.6"/>
<line x1="803.2" y1="534.49" x2="1142.6" y2="534.49" stroke="#fff" stroke-width="1.6"/>
<line x1="1153" y1="534.49" x2="1493" y2="534.49" stroke="#fff" stroke-width="1.6"/>
<line x1="453" y1="582.04" x2="793.2" y2="582.04" stroke="#fff" stroke-width="1.6"/>
<line x1="803.2" y1="582.04" x2="1142.6" y2="582.04" stroke="#fff" stroke-width="1.6"/>
<line x1="1153" y1="582.04" x2="1493" y2="582.04" stroke="#fff" stroke-width="1.6"/>
<line x1="453" y1="651.7" x2="793.2" y2="651.7" stroke="#fff" stroke-width="1.6"/>
<line x1="803.2" y1="651.7" x2="1142.6" y2="651.7" stroke="#fff" stroke-width="1.6"/>
<line x1="1153" y1="651.7" x2="1493" y2="651.7" stroke="#fff" stroke-width="1.6"/>
<line x1="453" y1="721.36" x2="793.2" y2="721.36" stroke="#fff" stroke-width="1.6"/>
<line x1="803.2" y1="721.36" x2="1142.6" y2="721.36" stroke="#fff" stroke-width="1.6"/>
<line x1="1153" y1="721.36" x2="1493" y2="721.36" stroke="#fff" stroke-width="1.6"/>
<line x1="453" y1="768.91" x2="793.2" y2="768.91" stroke="#fff" stroke-width="1.6"/>
<line x1="803.2" y1="768.91" x2="1142.6" y2="768.91" stroke="#fff" stroke-width="1.6"/>
<line x1="1153" y1="768.91" x2="1493" y2="768.91" stroke="#fff" stroke-width="1.6"/>
<line x1="453" y1="816.46" x2="793.2" y2="816.46" stroke="#fff" stroke-width="1.6"/>
<line x1="803.2" y1="816.46" x2="1142.6" y2="816.46" stroke="#fff" stroke-width="1.6"/>
<line x1="1153" y1="816.46" x2="1493" y2="816.46" stroke="#fff" stroke-width="1.6"/>
<line x1="453" y1="864.01" x2="793.2" y2="864.01" stroke="#fff" stroke-width="1.6"/>
<line x1="803.2" y1="864.01" x2="1142.6" y2="864.01" stroke="#fff" stroke-width="1.6"/>
<line x1="1153" y1="864.01" x2="1493" y2="864.01" stroke="#fff" stroke-width="1.6"/>
<line x1="453" y1="911.56" x2="793.2" y2="911.56" stroke="#fff" stroke-width="1.6"/>
<line x1="803.2" y1="911.56" x2="1142.6" y2="911.56" stroke="#fff" stroke-width="1.6"/>
<line x1="1153" y1="911.56" x2="1493" y2="911.56" stroke="#fff" stroke-width="1.6"/>
<line x1="453" y1="959.11" x2="793.2" y2="959.11" stroke="#fff" stroke-width="1.6"/>
<line x1="803.2" y1="959.11" x2="1142.6" y2="959.11" stroke="#fff" stroke-width="1.6"/>
<line x1="1153" y1="959.11" x2="1493" y2="959.11" stroke="#fff" stroke-width="1.6"/>
<line x1="453" y1="1006.66" x2="793.2" y2="1006.66" stroke="#fff" stroke-width="1.6"/>
<line x1="803.2" y1="1006.66" x2="1142.6" y2="1006.66" stroke="#fff" stroke-width="1.6"/>
<line x1="1153" y1="1006.66" x2="1493" y2="1006.66" stroke="#fff" stroke-width="1.6"/>
<line x1="453" y1="1054.21" x2="793.2" y2="1054.21" stroke="#fff" stroke-width="1.6"/>
<line x1="803.2" y1="1054.21" x2="1142.6" y2="1054.21" stroke="#fff" stroke-width="1.6"/>
<line x1="1153" y1="1054.21" x2="1493" y2="1054.21" stroke="#fff" stroke-width="1.6"/>
<line x1="453" y1="1101.76" x2="793.2" y2="1101.76" stroke="#fff" stroke-width="1.6"/>
<line x1="803.2" y1="1101.76" x2="1142.6" y2="1101.76" stroke="#fff" stroke-width="1.6"/>
<line x1="1153" y1="1101.76" x2="1493" y2="1101.76" stroke="#fff" stroke-width="1.6"/>
<line x1="453" y1="1149.31" x2="793.2" y2="1149.31" stroke="#fff" stroke-width="1.6"/>
<line x1="803.2" y1="1149.31" x2="1142.6" y2="1149.31" stroke="#fff" stroke-width="1.6"/>
<line x1="1153" y1="1149.31" x2="1493" y2="1149.31" stroke="#fff" stroke-width="1.6"/>
<line x1="453" y1="1196.86" x2="793.2" y2="1196.86" stroke="#fff" stroke-width="1.6"/>
<line x1="803.2" y1="1196.86" x2="1142.6" y2="1196.86" stroke="#fff" stroke-width="1.6"/>
<line x1="1153" y1="1196.86" x2="1493" y2="1196.86" stroke="#fff" stroke-width="1.6"/>
<line x1="453" y1="1266.52" x2="793.2" y2="1266.52" stroke="#fff" stroke-width="1.6"/>
<line x1="803.2" y1="1266.52" x2="1142.6" y2="1266.52" stroke="#fff" stroke-width="1.6"/>
<line x1="1153" y1="1266.52" x2="1493" y2="1266.52" stroke="#fff" stroke-width="1.6"/>
<line x1="453" y1="1314.07" x2="793.2" y2="1314.07" stroke="#fff" stroke-width="1.6"/>
<line x1="803.2" y1="1314.07" x2="1142.6" y2="1314.07" stroke="#fff" stroke-width="1.6"/>
<line x1="1153" y1="1314.07" x2="1493" y2="1314.07" stroke="#fff" stroke-width="1.6"/>
<line x1="453" y1="1361.62" x2="793.2" y2="1361.62" stroke="#fff" stroke-width="1.6"/>
<line x1="803.2" y1="1361.62" x2="1142.6" y2="1361.62" stroke="#fff" stroke-width="1.6"/>
<line x1="1153" y1="1361.62" x2="1493" y2="1361.62" stroke="#fff" stroke-width="1.6"/>
<line x1="453" y1="1431.28" x2="793.2" y2="1431.28" stroke="#fff" stroke-width="1.6"/>
<line x1="803.2" y1="1431.28" x2="1142.6" y2="1431.28" stroke="#fff" stroke-width="1.6"/>
<line x1="1153" y1="1431.28" x2="1493" y2="1431.28" stroke="#fff" stroke-width="1.6"/>
<line x1="453" y1="1500.94" x2="793.2" y2="1500.94" stroke="#fff" stroke-width="1.6"/>
<line x1="803.2" y1="1500.94" x2="1142.6" y2="1500.94" stroke="#fff" stroke-width="1.6"/>
<line x1="1153" y1="1500.94" x2="1493" y2="1500.94" stroke="#fff" stroke-width="1.6"/>
<line x1="453" y1="1548.49" x2="793.2" y2="1548.49" stroke="#fff" stroke-width="1.6"/>
<line x1="803.2" y1="1548.49" x2="1142.6" y2="1548.49" stroke="#fff" stroke-width="1.6"/>
<line x1="1153" y1="1548.49" x2="1493" y2="1548.49" stroke="#fff" stroke-width="1.6"/>
<line x1="453" y1="1618.15" x2="793.2" y2="1618.15" stroke="#fff" stroke-width="1.6"/>
<line x1="803.2" y1="1618.15" x2="1142.6" y2="1618.15" stroke="#fff" stroke-width="1.6"/>
<line x1="1153" y1="1618.15" x2="1493" y2="1618.15" stroke="#fff" stroke-width="1.6"/>
<line x1="453" y1="1665.7" x2="793.2" y2="1665.7" stroke="#fff" stroke-width="1.6"/>
<line x1="803.2" y1="1665.7" x2="1142.6" y2="1665.7" stroke="#fff" stroke-width="1.6"/>
<line x1="1153" y1="1665.7" x2="1493" y2="1665.7" stroke="#fff" stroke-width="1.6"/>
<line x1="453" y1="1735.36" x2="793.2" y2="1735.36" stroke="#fff" stroke-width="1.6"/>
<line x1="803.2" y1="1735.36" x2="1142.6" y2="1735.36" stroke="#fff" stroke-width="1.6"/>
<line x1="1153" y1="1735.36" x2="1493" y2="1735.36" stroke="#fff" stroke-width="1.6"/>
<line x1="453" y1="1805.02" x2="793.2" y2="1805.02" stroke="#fff" stroke-width="1.6"/>
<line x1="803.2" y1="1805.02" x2="1142.6" y2="1805.02" stroke="#fff" stroke-width="1.6"/>
<line x1="1153" y1="1805.02" x2="1493" y2="1805.02" stroke="#fff" stroke-width="1.6"/>
<line x1="453" y1="1852.57" x2="793.2" y2="1852.57" stroke="#fff" stroke-width="1.6"/>
<line x1="803.2" y1="1852.57" x2="1142.6" y2="1852.57" stroke="#fff" stroke-width="1.6"/>
<line x1="1153" y1="1852.57" x2="1493" y2="1852.57" stroke="#fff" stroke-width="1.6"/>
<line x1="453" y1="1922.23" x2="793.2" y2="1922.23" stroke="#fff" stroke-width="1.6"/>
<line x1="803.2" y1="1922.23" x2="1142.6" y2="1922.23" stroke="#fff" stroke-width="1.6"/>
<line x1="1153" y1="1922.23" x2="1493" y2="1922.23" stroke="#fff" stroke-width="1.6"/>
<line x1="453" y1="1991.89" x2="793.2" y2="1991.89" stroke="#fff" stroke-width="1.6"/>
<line x1="803.2" y1="1991.89" x2="1142.6" y2="1991.89" stroke="#fff" stroke-width="1.6"/>
<line x1="1153" y1="1991.89" x2="1493" y2="1991.89" stroke="#fff" stroke-width="1.6"/>
<line x1="453" y1="2039.44" x2="793.2" y2="2039.44" stroke="#fff" stroke-width="1.6"/>
<line x1="803.2" y1="2039.44" x2="1142.6" y2="2039.44" stroke="#fff" stroke-width="1.6"/>
<line x1="1153" y1="2039.44" x2="1493" y2="2039.44" stroke="#fff" stroke-width="1.6"/>
<line x1="453" y1="2086.99" x2="793.2" y2="2086.99" stroke="#fff" stroke-width="1.6"/>
<line x1="803.2" y1="2086.99" x2="1142.6" y2="2086.99" stroke="#fff" stroke-width="1.6"/>
<line x1="1153" y1="2086.99" x2="1493" y2="2086.99" stroke="#fff" stroke-width="1.6"/>
<line x1="453" y1="2156.65" x2="793.2" y2="2156.65" stroke="#fff" stroke-width="1.6"/>
<line x1="803.2" y1="2156.65" x2="1142.6" y2="2156.65" stroke="#fff" stroke-width="1.6"/>
<line x1="1153" y1="2156.65" x2="1493" y2="2156.65" stroke="#fff" stroke-width="1.6"/>
<line x1="453" y1="2204.2" x2="793.2" y2="2204.2" stroke="#fff" stroke-width="1.6"/>
<line x1="803.2" y1="2204.2" x2="1142.6" y2="2204.2" stroke="#fff" stroke-width="1.6"/>
<line x1="1153" y1="2204.2" x2="1493" y2="2204.2" stroke="#fff" stroke-width="1.6"/>
<line x1="453" y1="2251.75" x2="793.2" y2="2251.75" stroke="#fff" stroke-width="1.6"/>
<line x1="803.2" y1="2251.75" x2="1142.6" y2="2251.75" stroke="#fff" stroke-width="1.6"/>
<line x1="1153" y1="2251.75" x2="1493" y2="2251.75" stroke="#fff" stroke-width="1.6"/>
<line x1="453" y1="2321.41" x2="793.2" y2="2321.41" stroke="#fff" stroke-width="1.6"/>
<line x1="803.2" y1="2321.41" x2="1142.6" y2="2321.41" stroke="#fff" stroke-width="1.6"/>
<line x1="1153" y1="2321.41" x2="1493" y2="2321.41" stroke="#fff" stroke-width="1.6"/>
<line x1="453" y1="2391.07" x2="793.2" y2="2391.07" stroke="#fff" stroke-width="1.6"/>
<line x1="803.2" y1="2391.07" x2="1142.6" y2="2391.07" stroke="#fff" stroke-width="1.6"/>
<line x1="1153" y1="2391.07" x2="1493" y2="2391.07" stroke="#fff" stroke-width="1.6"/>
<line x1="453" y1="2460.73" x2="793.2" y2="2460.73" stroke="#fff" stroke-width="1.6"/>
<line x1="803.2" y1="2460.73" x2="1142.6" y2="2460.73" stroke="#fff" stroke-width="1.6"/>
<line x1="1153" y1="2460.73" x2="1493" y2="2460.73" stroke="#fff" stroke-width="1.6"/>
<line x1="1342.45" y1="494.66" x2="1342.45" y2="151" stroke="#7F7F7F" stroke-width="2.2" stroke-dasharray="7.5 7.5"/>
<line x1="1342.45" y1="611.87" x2="1342.45" y2="505.96" stroke="#7F7F7F" stroke-width="2.2" stroke-dasharray="7.5 7.5"/>
<line x1="1342.45" y1="681.53" x2="1342.45" y2="623.17" stroke="#7F7F7F" stroke-width="2.2" stroke-dasharray="7.5 7.5"/>
<line x1="1342.45" y1="1226.69" x2="1342.45" y2="692.83" stroke="#7F7F7F" stroke-width="2.2" stroke-dasharray="7.5 7.5"/>
<line x1="1342.45" y1="1391.45" x2="1342.45" y2="1237.99" stroke="#7F7F7F" stroke-width="2.2" stroke-dasharray="7.5 7.5"/>
<line x1="1342.45" y1="1461.11" x2="1342.45" y2="1402.75" stroke="#7F7F7F" stroke-width="2.2" stroke-dasharray="7.5 7.5"/>
<line x1="1342.45" y1="1578.32" x2="1342.45" y2="1472.41" stroke="#7F7F7F" stroke-width="2.2" stroke-dasharray="7.5 7.5"/>
<line x1="1342.45" y1="1695.53" x2="1342.45" y2="1589.62" stroke="#7F7F7F" stroke-width="2.2" stroke-dasharray="7.5 7.5"/>
<line x1="1342.45" y1="1765.19" x2="1342.45" y2="1706.83" stroke="#7F7F7F" stroke-width="2.2" stroke-dasharray="7.5 7.5"/>
<line x1="1342.45" y1="1882.4" x2="1342.45" y2="1776.49" stroke="#7F7F7F" stroke-width="2.2" stroke-dasharray="7.5 7.5"/>
<line x1="1342.45" y1="1952.06" x2="1342.45" y2="1893.7" stroke="#7F7F7F" stroke-width="2.2" stroke-dasharray="7.5 7.5"/>
<line x1="1342.45" y1="2116.82" x2="1342.45" y2="1963.36" stroke="#7F7F7F" stroke-width="2.2" stroke-dasharray="7.5 7.5"/>
<line x1="1342.45" y1="2281.58" x2="1342.45" y2="2128.12" stroke="#7F7F7F" stroke-width="2.2" stroke-dasharray="7.5 7.5"/>
<line x1="1342.45" y1="2351.24" x2="1342.45" y2="2292.88" stroke="#7F7F7F" stroke-width="2.2" stroke-dasharray="7.5 7.5"/>
<line x1="1342.45" y1="2420.9" x2="1342.45" y2="2362.54" stroke="#7F7F7F" stroke-width="2.2" stroke-dasharray="7.5 7.5"/>
<line x1="1342.45" y1="2490.56" x2="1342.45" y2="2432.2" stroke="#7F7F7F" stroke-width="2.2" stroke-dasharray="7.5 7.5"/>
<line x1="448" y1="179.53" x2="453" y2="179.53" stroke="#333333" stroke-width="1.4"/>
<text x="444.6" y="184.53" font-size="14.0" fill="#4D4D4D" text-anchor="end">K02535 (<tspan font-style="italic">lpxC</tspan>)</text>
<line x1="448" y1="227.08" x2="453" y2="227.08" stroke="#333333" stroke-width="1.4"/>
<text x="444.6" y="232.08" font-size="14.0" fill="#4D4D4D" text-anchor="end">K04744 (<tspan font-style="italic">lptD, imp, ostA</tspan>)</text>
<line x1="448" y1="274.63" x2="453" y2="274.63" stroke="#333333" stroke-width="1.4"/>
<text x="444.6" y="279.63" font-size="14.0" fill="#4D4D4D" text-anchor="end">ECASYN−PWY</text>
<line x1="448" y1="322.18" x2="453" y2="322.18" stroke="#333333" stroke-width="1.4"/>
<text x="444.6" y="327.18" font-size="14.0" fill="#4D4D4D" text-anchor="end">K09949 (<tspan font-style="italic">lpxI</tspan>)</text>
<line x1="448" y1="369.73" x2="453" y2="369.73" stroke="#333333" stroke-width="1.4"/>
<text x="444.6" y="374.73" font-size="14.0" fill="#4D4D4D" text-anchor="end">PWY0−881</text>
<line x1="448" y1="417.28" x2="453" y2="417.28" stroke="#333333" stroke-width="1.4"/>
<text x="444.6" y="422.28" font-size="14.0" fill="#4D4D4D" text-anchor="end">PWY−6285</text>
<line x1="448" y1="464.83" x2="453" y2="464.83" stroke="#333333" stroke-width="1.4"/>
<text x="444.6" y="469.83" font-size="14.0" fill="#4D4D4D" text-anchor="end">KDO−NAGLIPASYN−PWY</text>
<line x1="448" y1="534.49" x2="453" y2="534.49" stroke="#333333" stroke-width="1.4"/>
<text x="444.6" y="539.49" font-size="14.0" fill="#4D4D4D" text-anchor="end">K19005 (<tspan font-style="italic">ltaS</tspan>)</text>
<line x1="448" y1="582.04" x2="453" y2="582.04" stroke="#333333" stroke-width="1.4"/>
<text x="444.6" y="587.04" font-size="14.0" fill="#4D4D4D" text-anchor="end">K03739 (<tspan font-style="italic">dltB</tspan>)</text>
<line x1="448" y1="651.7" x2="453" y2="651.7" stroke="#333333" stroke-width="1.4"/>
<text x="444.6" y="656.7" font-size="14.0" fill="#4D4D4D" text-anchor="end">K06078 (<tspan font-style="italic">lpp</tspan>)</text>
<line x1="448" y1="721.36" x2="453" y2="721.36" stroke="#333333" stroke-width="1.4"/>
<text x="444.6" y="726.36" font-size="14.0" fill="#4D4D4D" text-anchor="end">K17236 (<tspan font-style="italic">araQ</tspan>)</text>
<line x1="448" y1="768.91" x2="453" y2="768.91" stroke="#333333" stroke-width="1.4"/>
<text x="444.6" y="773.91" font-size="14.0" fill="#4D4D4D" text-anchor="end">K16213 (<tspan font-style="italic">cbe, mbe</tspan>)</text>
<line x1="448" y1="816.46" x2="453" y2="816.46" stroke="#333333" stroke-width="1.4"/>
<text x="444.6" y="821.46" font-size="14.0" fill="#4D4D4D" text-anchor="end">K17234 (<tspan font-style="italic">araN</tspan>)</text>
<line x1="448" y1="864.01" x2="453" y2="864.01" stroke="#333333" stroke-width="1.4"/>
<text x="444.6" y="869.01" font-size="14.0" fill="#4D4D4D" text-anchor="end">K00702 (E2.4.1.20)</text>
<line x1="448" y1="911.56" x2="453" y2="911.56" stroke="#333333" stroke-width="1.4"/>
<text x="444.6" y="916.56" font-size="14.0" fill="#4D4D4D" text-anchor="end">PWY−7237</text>
<line x1="448" y1="959.11" x2="453" y2="959.11" stroke="#333333" stroke-width="1.4"/>
<text x="444.6" y="964.11" font-size="14.0" fill="#4D4D4D" text-anchor="end">PWY−7456</text>
<line x1="448" y1="1006.66" x2="453" y2="1006.66" stroke="#333333" stroke-width="1.4"/>
<text x="444.6" y="1011.66" font-size="14.0" fill="#4D4D4D" text-anchor="end">PWY−7242</text>
<line x1="448" y1="1054.21" x2="453" y2="1054.21" stroke="#333333" stroke-width="1.4"/>
<text x="444.6" y="1059.21" font-size="14.0" fill="#4D4D4D" text-anchor="end">PWY−6527</text>
<line x1="448" y1="1101.76" x2="453" y2="1101.76" stroke="#333333" stroke-width="1.4"/>
<text x="444.6" y="1106.76" font-size="14.0" fill="#4D4D4D" text-anchor="end">GLUCUROCAT−PWY</text>
<line x1="448" y1="1149.31" x2="453" y2="1149.31" stroke="#333333" stroke-width="1.4"/>
<text x="444.6" y="1154.31" font-size="14.0" fill="#4D4D4D" text-anchor="end">GALACT−GLUCUROCAT−PWY</text>
<line x1="448" y1="1196.86" x2="453" y2="1196.86" stroke="#333333" stroke-width="1.4"/>
<text x="444.6" y="1201.86" font-size="14.0" fill="#4D4D4D" text-anchor="end">GALACTUROCAT−PWY</text>
<line x1="448" y1="1266.52" x2="453" y2="1266.52" stroke="#333333" stroke-width="1.4"/>
<text x="444.6" y="1271.52" font-size="14.0" fill="#4D4D4D" text-anchor="end">THREOCAT−PWY</text>
<line x1="448" y1="1314.07" x2="453" y2="1314.07" stroke="#333333" stroke-width="1.4"/>
<text x="444.6" y="1319.07" font-size="14.0" fill="#4D4D4D" text-anchor="end">ORNARGDEG−PWY</text>
<line x1="448" y1="1361.62" x2="453" y2="1361.62" stroke="#333333" stroke-width="1.4"/>
<text x="444.6" y="1366.62" font-size="14.0" fill="#4D4D4D" text-anchor="end">ORNDEG−PWY</text>
<line x1="448" y1="1431.28" x2="453" y2="1431.28" stroke="#333333" stroke-width="1.4"/>
<text x="444.6" y="1436.28" font-size="14.0" fill="#4D4D4D" text-anchor="end">COMPLETE−ARO−PWY</text>
<line x1="448" y1="1500.94" x2="453" y2="1500.94" stroke="#333333" stroke-width="1.4"/>
<text x="444.6" y="1505.94" font-size="14.0" fill="#4D4D4D" text-anchor="end">K00266 (<tspan font-style="italic">gltD</tspan>)</text>
<line x1="448" y1="1548.49" x2="453" y2="1548.49" stroke="#333333" stroke-width="1.4"/>
<text x="444.6" y="1553.49" font-size="14.0" fill="#4D4D4D" text-anchor="end">PWY−5505</text>
<line x1="448" y1="1618.15" x2="453" y2="1618.15" stroke="#333333" stroke-width="1.4"/>
<text x="444.6" y="1623.15" font-size="14.0" fill="#4D4D4D" text-anchor="end">Sporulation KOs</text>
<line x1="448" y1="1665.7" x2="453" y2="1665.7" stroke="#333333" stroke-width="1.4"/>
<text x="444.6" y="1670.7" font-size="14.0" fill="#4D4D4D" text-anchor="end">TRPSYN−PWY</text>
<line x1="448" y1="1735.36" x2="453" y2="1735.36" stroke="#333333" stroke-width="1.4"/>
<text x="444.6" y="1740.36" font-size="14.0" fill="#4D4D4D" text-anchor="end">K18933 (<tspan font-style="italic">mfnA, adc</tspan>)</text>
<line x1="448" y1="1805.02" x2="453" y2="1805.02" stroke="#333333" stroke-width="1.4"/>
<text x="444.6" y="1810.02" font-size="14.0" fill="#4D4D4D" text-anchor="end">ARGDEG−PWY</text>
<line x1="448" y1="1852.57" x2="453" y2="1852.57" stroke="#333333" stroke-width="1.4"/>
<text x="444.6" y="1857.57" font-size="14.0" fill="#4D4D4D" text-anchor="end">PWY−5088</text>
<line x1="448" y1="1922.23" x2="453" y2="1922.23" stroke="#333333" stroke-width="1.4"/>
<text x="444.6" y="1927.23" font-size="14.0" fill="#4D4D4D" text-anchor="end">K08281 (<tspan font-style="italic">pncA</tspan>)</text>
<line x1="448" y1="1991.89" x2="453" y2="1991.89" stroke="#333333" stroke-width="1.4"/>
<text x="444.6" y="1996.89" font-size="14.0" fill="#4D4D4D" text-anchor="end">PWY−2723</text>
<line x1="448" y1="2039.44" x2="453" y2="2039.44" stroke="#333333" stroke-width="1.4"/>
<text x="444.6" y="2044.44" font-size="14.0" fill="#4D4D4D" text-anchor="end">K01087 (<tspan font-style="italic">otsB</tspan>)</text>
<line x1="448" y1="2086.99" x2="453" y2="2086.99" stroke="#333333" stroke-width="1.4"/>
<text x="444.6" y="2091.99" font-size="14.0" fill="#4D4D4D" text-anchor="end">K00697 (<tspan font-style="italic">otsA</tspan>)</text>
<line x1="448" y1="2156.65" x2="453" y2="2156.65" stroke="#333333" stroke-width="1.4"/>
<text x="444.6" y="2161.65" font-size="14.0" fill="#4D4D4D" text-anchor="end">K06214 (<tspan font-style="italic">csgG</tspan>)</text>
<line x1="448" y1="2204.2" x2="453" y2="2204.2" stroke="#333333" stroke-width="1.4"/>
<text x="444.6" y="2209.2" font-size="14.0" fill="#4D4D4D" text-anchor="end">K04336 (<tspan font-style="italic">csgC</tspan>)</text>
<line x1="448" y1="2251.75" x2="453" y2="2251.75" stroke="#333333" stroke-width="1.4"/>
<text x="444.6" y="2256.75" font-size="14.0" fill="#4D4D4D" text-anchor="end">K04334 (<tspan font-style="italic">csgA</tspan>)</text>
<line x1="448" y1="2321.41" x2="453" y2="2321.41" stroke="#333333" stroke-width="1.4"/>
<text x="444.6" y="2326.41" font-size="14.0" fill="#4D4D4D" text-anchor="end">K21963 (<tspan font-style="italic">ecpR, matA</tspan>)</text>
<line x1="448" y1="2391.07" x2="453" y2="2391.07" stroke="#333333" stroke-width="1.4"/>
<text x="444.6" y="2396.07" font-size="14.0" fill="#4D4D4D" text-anchor="end">K20038 (<tspan font-style="italic">cutC</tspan>)</text>
<line x1="448" y1="2460.73" x2="453" y2="2460.73" stroke="#333333" stroke-width="1.4"/>
<text x="444.6" y="2465.73" font-size="14.0" fill="#4D4D4D" text-anchor="end">K05245 (<tspan font-style="italic">caiT</tspan>)</text>
<line x1="621.4" y1="170.73" x2="675.7" y2="170.73" stroke="#333333" stroke-width="1.5"/>
<rect x="467.89" y="162.98" width="153.5" height="15.8" fill="#00BFC4" stroke="#333333" stroke-width="1.6"/>
<line x1="580.16" y1="162.98" x2="580.16" y2="178.78" stroke="#333333" stroke-width="3.2"/>
<line x1="601.92" y1="188.33" x2="682.8" y2="188.33" stroke="#333333" stroke-width="1.5"/>
<rect x="467.89" y="180.28" width="134.03" height="15.8" fill="#E69F00" stroke="#333333" stroke-width="1.6"/>
<line x1="529.29" y1="180.28" x2="529.29" y2="196.08" stroke="#333333" stroke-width="3.2"/>
<line x1="884.79" y1="170.73" x2="904.5" y2="170.73" stroke="#333333" stroke-width="1.5"/>
<line x1="1000.49" y1="170.73" x2="1038.3" y2="170.73" stroke="#333333" stroke-width="1.5"/>
<rect x="904.5" y="162.98" width="96" height="15.8" fill="#00BFC4" stroke="#333333" stroke-width="1.6"/>
<line x1="969.11" y1="162.98" x2="969.11" y2="178.78" stroke="#333333" stroke-width="3.2"/>
<line x1="883.19" y1="188.33" x2="904.5" y2="188.33" stroke="#333333" stroke-width="1.5"/>
<line x1="989.73" y1="188.33" x2="1046.54" y2="188.33" stroke="#333333" stroke-width="1.5"/>
<rect x="904.5" y="180.28" width="85.23" height="15.8" fill="#E69F00" stroke="#333333" stroke-width="1.6"/>
<line x1="938.63" y1="180.28" x2="938.63" y2="196.08" stroke="#333333" stroke-width="3.2"/>
<line x1="1370.65" y1="170.63" x2="1477.88" y2="170.63" stroke="#0000FF" stroke-width="2.7"/>
<rect x="1409.14" y="166.73" width="7.8" height="7.8" fill="#0000FF"/>
<line x1="1355.08" y1="188.43" x2="1408.92" y2="188.43" stroke="#0000FF" stroke-width="2.8" stroke-dasharray="2.8 2.8"/>
<circle cx="1375.92" cy="188.43" r="4.4" fill="#0000FF"/>
<line x1="573.97" y1="218.28" x2="669.97" y2="218.28" stroke="#333333" stroke-width="1.5"/>
<rect x="467.89" y="210.53" width="106.08" height="15.8" fill="#00BFC4" stroke="#333333" stroke-width="1.6"/>
<line x1="467.89" y1="210.53" x2="467.89" y2="226.33" stroke="#333333" stroke-width="3.2"/>
<line x1="510.28" y1="235.88" x2="572.14" y2="235.88" stroke="#333333" stroke-width="1.5"/>
<rect x="467.89" y="227.83" width="42.39" height="15.8" fill="#E69F00" stroke="#333333" stroke-width="1.6"/>
<line x1="467.89" y1="227.83" x2="467.89" y2="243.63" stroke="#333333" stroke-width="3.2"/>
<line x1="576.72" y1="235.88" x2="636.3" y2="235.88" stroke="#333333" stroke-width="4.4" stroke-linecap="round" stroke-dasharray="0 2.84"/>
<circle cx="652.33" cy="235.88" r="2.25" fill="#333333"/>
<circle cx="674.78" cy="235.88" r="2.25" fill="#333333"/>
<line x1="867.84" y1="218.28" x2="897.62" y2="218.28" stroke="#333333" stroke-width="1.5"/>
<line x1="958.8" y1="218.28" x2="1044.02" y2="218.28" stroke="#333333" stroke-width="1.5"/>
<rect x="897.62" y="210.53" width="61.17" height="15.8" fill="#00BFC4" stroke="#333333" stroke-width="1.6"/>
<line x1="905.64" y1="210.53" x2="905.64" y2="226.33" stroke="#333333" stroke-width="3.2"/>
<line x1="874.48" y1="235.88" x2="896.48" y2="235.88" stroke="#333333" stroke-width="1.5"/>
<line x1="922.14" y1="235.88" x2="961.09" y2="235.88" stroke="#333333" stroke-width="1.5"/>
<rect x="896.48" y="227.83" width="25.66" height="15.8" fill="#E69F00" stroke="#333333" stroke-width="1.6"/>
<line x1="904.5" y1="227.83" x2="904.5" y2="243.63" stroke="#333333" stroke-width="3.2"/>
<circle cx="844.24" cy="235.88" r="2.25" fill="#333333"/>
<line x1="961.09" y1="235.88" x2="1016.08" y2="235.88" stroke="#333333" stroke-width="4.4" stroke-linecap="round" stroke-dasharray="0 2.89"/>
<circle cx="1029.82" cy="235.88" r="2.25" fill="#333333"/>
<line x1="1361.03" y1="218.18" x2="1424.04" y2="218.18" stroke="#0000FF" stroke-width="2.7"/>
<rect x="1383.94" y="214.28" width="7.8" height="7.8" fill="#0000FF"/>
<line x1="1351.87" y1="235.98" x2="1388.98" y2="235.98" stroke="#0000FF" stroke-width="2.8" stroke-dasharray="2.8 2.8"/>
<circle cx="1367.22" cy="235.98" r="4.4" fill="#0000FF"/>
<line x1="630.56" y1="265.83" x2="707.77" y2="265.83" stroke="#333333" stroke-width="1.5"/>
<rect x="467.89" y="258.08" width="162.67" height="15.8" fill="#00BFC4" stroke="#333333" stroke-width="1.6"/>
<line x1="467.89" y1="258.08" x2="467.89" y2="273.88" stroke="#333333" stroke-width="3.2"/>
<line x1="606.05" y1="283.43" x2="712.58" y2="283.43" stroke="#333333" stroke-width="1.5"/>
<rect x="467.89" y="275.38" width="138.15" height="15.8" fill="#E69F00" stroke="#333333" stroke-width="1.6"/>
<line x1="467.89" y1="275.38" x2="467.89" y2="291.18" stroke="#333333" stroke-width="3.2"/>
<line x1="872.19" y1="265.83" x2="899.91" y2="265.83" stroke="#333333" stroke-width="1.5"/>
<line x1="976.44" y1="265.83" x2="1038.53" y2="265.83" stroke="#333333" stroke-width="1.5"/>
<rect x="899.91" y="258.08" width="76.52" height="15.8" fill="#00BFC4" stroke="#333333" stroke-width="1.6"/>
<line x1="909.77" y1="258.08" x2="909.77" y2="273.88" stroke="#333333" stroke-width="3.2"/>
<line x1="879.29" y1="283.43" x2="899.68" y2="283.43" stroke="#333333" stroke-width="1.5"/>
<line x1="967.96" y1="283.43" x2="1035.55" y2="283.43" stroke="#333333" stroke-width="1.5"/>
<rect x="899.68" y="275.38" width="68.27" height="15.8" fill="#E69F00" stroke="#333333" stroke-width="1.6"/>
<line x1="908.39" y1="275.38" x2="908.39" y2="291.18" stroke="#333333" stroke-width="3.2"/>
<line x1="1354.16" y1="265.73" x2="1421.75" y2="265.73" stroke="#0000FF" stroke-width="2.7"/>
<rect x="1378.21" y="261.83" width="7.8" height="7.8" fill="#0000FF"/>
<line x1="1346.14" y1="283.53" x2="1388.3" y2="283.53" stroke="#0000FF" stroke-width="2.8" stroke-dasharray="2.8 2.8"/>
<circle cx="1363.09" cy="283.53" r="4.4" fill="#0000FF"/>
<line x1="598.03" y1="313.38" x2="671.8" y2="313.38" stroke="#333333" stroke-width="1.5"/>
<rect x="467.89" y="305.63" width="130.13" height="15.8" fill="#00BFC4" stroke="#333333" stroke-width="1.6"/>
<line x1="467.89" y1="305.63" x2="467.89" y2="321.43" stroke="#333333" stroke-width="3.2"/>
<line x1="467.89" y1="323.73" x2="467.89" y2="337.93" stroke="#333333" stroke-width="3.3" stroke-linecap="round"/>
<circle cx="529.75" cy="330.98" r="2.25" fill="#333333"/>
<line x1="536.63" y1="330.98" x2="546.95" y2="330.98" stroke="#333333" stroke-width="4.4" stroke-linecap="round" stroke-dasharray="0 2.58"/>
<circle cx="553.35" cy="330.98" r="2.25" fill="#333333"/>
<line x1="558.39" y1="330.98" x2="571.69" y2="330.98" stroke="#333333" stroke-width="4.4" stroke-linecap="round" stroke-dasharray="0 2.66"/>
<line x1="576.26" y1="330.98" x2="600.79" y2="330.98" stroke="#333333" stroke-width="4.4" stroke-linecap="round" stroke-dasharray="0 3.06"/>
<line x1="603.3" y1="330.98" x2="650.5" y2="330.98" stroke="#333333" stroke-width="4.4" stroke-linecap="round" stroke-dasharray="0 2.95"/>
<circle cx="656.91" cy="330.98" r="2.25" fill="#333333"/>
<line x1="818.58" y1="313.38" x2="891.67" y2="313.38" stroke="#333333" stroke-width="1.5"/>
<line x1="982.85" y1="313.38" x2="1041.27" y2="313.38" stroke="#333333" stroke-width="1.5"/>
<rect x="891.67" y="305.63" width="91.19" height="15.8" fill="#00BFC4" stroke="#333333" stroke-width="1.6"/>
<line x1="901.98" y1="305.63" x2="901.98" y2="321.43" stroke="#333333" stroke-width="3.2"/>
<line x1="867.61" y1="330.98" x2="895.33" y2="330.98" stroke="#333333" stroke-width="1.5"/>
<line x1="915.26" y1="330.98" x2="939.78" y2="330.98" stroke="#333333" stroke-width="1.5"/>
<rect x="895.33" y="322.93" width="19.93" height="15.8" fill="#E69F00" stroke="#333333" stroke-width="1.6"/>
<line x1="903.81" y1="322.93" x2="903.81" y2="338.73" stroke="#333333" stroke-width="3.2"/>
<line x1="847.68" y1="330.98" x2="864.87" y2="330.98" stroke="#333333" stroke-width="4.4" stroke-linecap="round" stroke-dasharray="0 2.86"/>
<line x1="945.51" y1="330.98" x2="957.66" y2="330.98" stroke="#333333" stroke-width="4.4" stroke-linecap="round" stroke-dasharray="0 3.04"/>
<line x1="964.52" y1="330.98" x2="1024.1" y2="330.98" stroke="#333333" stroke-width="4.4" stroke-linecap="round" stroke-dasharray="0 2.84"/>
<circle cx="1036.69" cy="330.98" r="2.25" fill="#333333"/>
<circle cx="1048.61" cy="330.98" r="2.25" fill="#333333"/>
<line x1="1358.51" y1="313.28" x2="1411.89" y2="313.28" stroke="#0000FF" stroke-width="2.7"/>
<rect x="1377.52" y="309.38" width="7.8" height="7.8" fill="#0000FF"/>
<line x1="1349.35" y1="331.08" x2="1397" y2="331.08" stroke="#0000FF" stroke-width="2.8" stroke-dasharray="2.8 2.8"/>
<circle cx="1367.68" cy="331.08" r="4.4" fill="#0000FF"/>
<line x1="641.56" y1="360.93" x2="714.19" y2="360.93" stroke="#333333" stroke-width="1.5"/>
<rect x="467.89" y="353.18" width="173.67" height="15.8" fill="#00BFC4" stroke="#333333" stroke-width="1.6"/>
<line x1="467.89" y1="353.18" x2="467.89" y2="368.98" stroke="#333333" stroke-width="3.2"/>
<line x1="467.89" y1="371.28" x2="467.89" y2="385.48" stroke="#333333" stroke-width="3.3" stroke-linecap="round"/>
<circle cx="606.05" cy="378.53" r="2.25" fill="#333333"/>
<line x1="619.79" y1="378.53" x2="628.28" y2="378.53" stroke="#333333" stroke-width="4.4" stroke-linecap="round" stroke-dasharray="0 2.83"/>
<line x1="631.71" y1="378.53" x2="661.5" y2="378.53" stroke="#333333" stroke-width="4.4" stroke-linecap="round" stroke-dasharray="0 2.98"/>
<line x1="667.22" y1="378.53" x2="682.12" y2="378.53" stroke="#333333" stroke-width="4.4" stroke-linecap="round" stroke-dasharray="0 2.98"/>
<line x1="685.09" y1="378.53" x2="695.41" y2="378.53" stroke="#333333" stroke-width="4.4" stroke-linecap="round" stroke-dasharray="0 2.58"/>
<circle cx="711.21" cy="378.53" r="2.25" fill="#333333"/>
<line x1="835.08" y1="360.93" x2="893.04" y2="360.93" stroke="#333333" stroke-width="1.5"/>
<line x1="993.85" y1="360.93" x2="1043.11" y2="360.93" stroke="#333333" stroke-width="1.5"/>
<rect x="893.04" y="353.18" width="100.81" height="15.8" fill="#00BFC4" stroke="#333333" stroke-width="1.6"/>
<line x1="903.81" y1="353.18" x2="903.81" y2="368.98" stroke="#333333" stroke-width="3.2"/>
<line x1="866.46" y1="378.53" x2="895.33" y2="378.53" stroke="#333333" stroke-width="1.5"/>
<line x1="916.41" y1="378.53" x2="923.28" y2="378.53" stroke="#333333" stroke-width="1.5"/>
<rect x="895.33" y="370.48" width="21.08" height="15.8" fill="#E69F00" stroke="#333333" stroke-width="1.6"/>
<line x1="906.1" y1="370.48" x2="906.1" y2="386.28" stroke="#333333" stroke-width="3.2"/>
<line x1="844.24" y1="378.53" x2="849.98" y2="378.53" stroke="#333333" stroke-width="4.4" stroke-linecap="round" stroke-dasharray="0 2.86"/>
<line x1="855.7" y1="378.53" x2="863.04" y2="378.53" stroke="#333333" stroke-width="4.4" stroke-linecap="round" stroke-dasharray="0 2.44"/>
<circle cx="960.17" cy="378.53" r="2.25" fill="#333333"/>
<circle cx="973" cy="378.53" r="2.25" fill="#333333"/>
<line x1="981.71" y1="378.53" x2="1026.39" y2="378.53" stroke="#333333" stroke-width="4.4" stroke-linecap="round" stroke-dasharray="0 2.98"/>
<line x1="1032.11" y1="378.53" x2="1041.97" y2="378.53" stroke="#333333" stroke-width="4.4" stroke-linecap="round" stroke-dasharray="0 3.28"/>
<line x1="1357.6" y1="360.83" x2="1392.42" y2="360.83" stroke="#0000FF" stroke-width="2.7"/>
<rect x="1369.05" y="356.93" width="7.8" height="7.8" fill="#0000FF"/>
<line x1="1353.01" y1="378.63" x2="1412.35" y2="378.63" stroke="#0000FF" stroke-width="2.8" stroke-dasharray="2.8 2.8"/>
<circle cx="1378.22" cy="378.63" r="4.4" fill="#0000FF"/>
<line x1="683.94" y1="408.48" x2="734.81" y2="408.48" stroke="#333333" stroke-width="1.5"/>
<rect x="467.89" y="400.73" width="216.05" height="15.8" fill="#00BFC4" stroke="#333333" stroke-width="1.6"/>
<line x1="467.89" y1="400.73" x2="467.89" y2="416.53" stroke="#333333" stroke-width="3.2"/>
<line x1="661.95" y1="426.08" x2="734.81" y2="426.08" stroke="#333333" stroke-width="1.5"/>
<rect x="467.89" y="418.03" width="194.06" height="15.8" fill="#E69F00" stroke="#333333" stroke-width="1.6"/>
<line x1="467.89" y1="418.03" x2="467.89" y2="433.83" stroke="#333333" stroke-width="3.2"/>
<line x1="859.82" y1="408.48" x2="900.37" y2="408.48" stroke="#333333" stroke-width="1.5"/>
<line x1="1027.53" y1="408.48" x2="1060.75" y2="408.48" stroke="#333333" stroke-width="1.5"/>
<rect x="900.37" y="400.73" width="127.16" height="15.8" fill="#00BFC4" stroke="#333333" stroke-width="1.6"/>
<line x1="914.12" y1="400.73" x2="914.12" y2="416.53" stroke="#333333" stroke-width="3.2"/>
<line x1="838.97" y1="426.08" x2="899.91" y2="426.08" stroke="#333333" stroke-width="1.5"/>
<line x1="1016.53" y1="426.08" x2="1069.91" y2="426.08" stroke="#333333" stroke-width="1.5"/>
<rect x="899.91" y="418.03" width="116.62" height="15.8" fill="#E69F00" stroke="#333333" stroke-width="1.6"/>
<line x1="909.08" y1="418.03" x2="909.08" y2="433.83" stroke="#333333" stroke-width="3.2"/>
<line x1="1354.16" y1="408.38" x2="1395.17" y2="408.38" stroke="#0000FF" stroke-width="2.7"/>
<rect x="1367.9" y="404.48" width="7.8" height="7.8" fill="#0000FF"/>
<line x1="1359.2" y1="426.18" x2="1451.99" y2="426.18" stroke="#0000FF" stroke-width="2.8" stroke-dasharray="2.8 2.8"/>
<circle cx="1396.32" cy="426.18" r="4.4" fill="#0000FF"/>
<line x1="617.96" y1="456.03" x2="704.56" y2="456.03" stroke="#333333" stroke-width="1.5"/>
<rect x="467.89" y="448.28" width="150.07" height="15.8" fill="#00BFC4" stroke="#333333" stroke-width="1.6"/>
<line x1="467.89" y1="448.28" x2="467.89" y2="464.08" stroke="#333333" stroke-width="3.2"/>
<line x1="581.3" y1="473.63" x2="697.69" y2="473.63" stroke="#333333" stroke-width="1.5"/>
<rect x="467.89" y="465.58" width="113.41" height="15.8" fill="#E69F00" stroke="#333333" stroke-width="1.6"/>
<line x1="467.89" y1="465.58" x2="467.89" y2="481.38" stroke="#333333" stroke-width="3.2"/>
<line x1="867.61" y1="456.03" x2="898.77" y2="456.03" stroke="#333333" stroke-width="1.5"/>
<line x1="965.21" y1="456.03" x2="1023.4" y2="456.03" stroke="#333333" stroke-width="1.5"/>
<rect x="898.77" y="448.28" width="66.44" height="15.8" fill="#00BFC4" stroke="#333333" stroke-width="1.6"/>
<line x1="907.93" y1="448.28" x2="907.93" y2="464.08" stroke="#333333" stroke-width="3.2"/>
<line x1="875.17" y1="473.63" x2="899.23" y2="473.63" stroke="#333333" stroke-width="1.5"/>
<line x1="947.34" y1="473.63" x2="1012.64" y2="473.63" stroke="#333333" stroke-width="1.5"/>
<rect x="899.23" y="465.58" width="48.11" height="15.8" fill="#E69F00" stroke="#333333" stroke-width="1.6"/>
<line x1="907.7" y1="465.58" x2="907.7" y2="481.38" stroke="#333333" stroke-width="3.2"/>
<line x1="1019.51" y1="473.63" x2="1027.08" y2="473.63" stroke="#333333" stroke-width="4.4" stroke-linecap="round" stroke-dasharray="0 2.52"/>
<line x1="1347.29" y1="455.93" x2="1393.57" y2="455.93" stroke="#0000FF" stroke-width="2.7"/>
<rect x="1363.32" y="452.03" width="7.8" height="7.8" fill="#0000FF"/>
<line x1="1339.73" y1="473.73" x2="1374.78" y2="473.73" stroke="#0000FF" stroke-width="2.8" stroke-dasharray="2.8 2.8"/>
<circle cx="1354.62" cy="473.73" r="4.4" fill="#0000FF"/>
<line x1="467.89" y1="518.74" x2="467.89" y2="532.94" stroke="#333333" stroke-width="3.3" stroke-linecap="round"/>
<line x1="525.17" y1="525.69" x2="529.76" y2="525.69" stroke="#333333" stroke-width="4.4" stroke-linecap="round" stroke-dasharray="0 2.29"/>
<line x1="533.65" y1="525.69" x2="618.43" y2="525.69" stroke="#333333" stroke-width="4.4" stroke-linecap="round" stroke-dasharray="0 2.92"/>
<line x1="622.08" y1="525.69" x2="634.01" y2="525.69" stroke="#333333" stroke-width="4.4" stroke-linecap="round" stroke-dasharray="0 2.98"/>
<circle cx="636.98" cy="525.69" r="2.25" fill="#333333"/>
<line x1="642.25" y1="525.69" x2="648.21" y2="525.69" stroke="#333333" stroke-width="4.4" stroke-linecap="round" stroke-dasharray="0 2.98"/>
<line x1="653.01" y1="525.69" x2="656.92" y2="525.69" stroke="#333333" stroke-width="4.4" stroke-linecap="round" stroke-dasharray="0 3.89"/>
<line x1="675.7" y1="525.69" x2="680.29" y2="525.69" stroke="#333333" stroke-width="4.4" stroke-linecap="round" stroke-dasharray="0 2.29"/>
<line x1="467.89" y1="536.04" x2="467.89" y2="550.24" stroke="#333333" stroke-width="3.3" stroke-linecap="round"/>
<circle cx="499.97" cy="543.29" r="2.25" fill="#333333"/>
<circle cx="509.82" cy="543.29" r="2.25" fill="#333333"/>
<circle cx="534.79" cy="543.29" r="2.25" fill="#333333"/>
<circle cx="564.58" cy="543.29" r="2.25" fill="#333333"/>
<line x1="585.88" y1="543.29" x2="599.64" y2="543.29" stroke="#333333" stroke-width="4.4" stroke-linecap="round" stroke-dasharray="0 2.75"/>
<circle cx="626.67" cy="543.29" r="2.25" fill="#333333"/>
<circle cx="646.14" cy="543.29" r="2.25" fill="#333333"/>
<line x1="857.99" y1="525.69" x2="889.37" y2="525.69" stroke="#333333" stroke-width="1.5"/>
<line x1="909.54" y1="525.69" x2="938.18" y2="525.69" stroke="#333333" stroke-width="1.5"/>
<rect x="889.37" y="517.94" width="20.16" height="15.8" fill="#00BFC4" stroke="#333333" stroke-width="1.6"/>
<line x1="899.23" y1="517.94" x2="899.23" y2="533.74" stroke="#333333" stroke-width="3.2"/>
<circle cx="818.58" cy="525.69" r="2.25" fill="#333333"/>
<circle cx="839.66" cy="525.69" r="2.25" fill="#333333"/>
<circle cx="846.53" cy="525.69" r="2.25" fill="#333333"/>
<circle cx="857.3" cy="525.69" r="2.25" fill="#333333"/>
<line x1="938.18" y1="525.69" x2="1021.81" y2="525.69" stroke="#333333" stroke-width="4.4" stroke-linecap="round" stroke-dasharray="0 2.88"/>
<line x1="1025.24" y1="525.69" x2="1033.27" y2="525.69" stroke="#333333" stroke-width="4.4" stroke-linecap="round" stroke-dasharray="0 2.67"/>
<circle cx="1043.57" cy="525.69" r="2.25" fill="#333333"/>
<circle cx="1056.17" cy="525.69" r="2.25" fill="#333333"/>
<line x1="868.98" y1="543.29" x2="891.21" y2="543.29" stroke="#333333" stroke-width="1.5"/>
<line x1="906.56" y1="543.29" x2="927.41" y2="543.29" stroke="#333333" stroke-width="1.5"/>
<rect x="891.21" y="535.24" width="15.35" height="15.8" fill="#E69F00" stroke="#333333" stroke-width="1.6"/>
<line x1="900.37" y1="535.24" x2="900.37" y2="551.04" stroke="#333333" stroke-width="3.2"/>
<circle cx="849.51" cy="543.29" r="2.25" fill="#333333"/>
<line x1="855.24" y1="543.29" x2="868.99" y2="543.29" stroke="#333333" stroke-width="4.4" stroke-linecap="round" stroke-dasharray="0 2.75"/>
<circle cx="953.53" cy="543.29" r="2.25" fill="#333333"/>
<circle cx="960.63" cy="543.29" r="2.25" fill="#333333"/>
<circle cx="972.54" cy="543.29" r="2.25" fill="#333333"/>
<line x1="979.87" y1="543.29" x2="986.3" y2="543.29" stroke="#333333" stroke-width="4.4" stroke-linecap="round" stroke-dasharray="0 3.21"/>
<line x1="992.02" y1="543.29" x2="995.46" y2="543.29" stroke="#333333" stroke-width="4.4" stroke-linecap="round" stroke-dasharray="0 3.44"/>
<circle cx="1005.76" cy="543.29" r="2.25" fill="#333333"/>
<circle cx="1029.13" cy="543.29" r="2.25" fill="#333333"/>
<line x1="1366.07" y1="525.59" x2="1411.89" y2="525.59" stroke="#0000FF" stroke-width="2.7"/>
<rect x="1382.11" y="521.69" width="7.8" height="7.8" fill="#0000FF"/>
<line x1="1351.18" y1="543.39" x2="1379.82" y2="543.39" stroke="#0000FF" stroke-width="2.8" stroke-dasharray="2.8 2.8"/>
<circle cx="1364.24" cy="543.39" r="4.4" fill="#0000FF"/>
<line x1="585.43" y1="573.24" x2="681.42" y2="573.24" stroke="#333333" stroke-width="1.5"/>
<rect x="467.89" y="565.49" width="117.53" height="15.8" fill="#00BFC4" stroke="#333333" stroke-width="1.6"/>
<line x1="543.04" y1="565.49" x2="543.04" y2="581.29" stroke="#333333" stroke-width="3.2"/>
<line x1="563.43" y1="590.84" x2="671.8" y2="590.84" stroke="#333333" stroke-width="1.5"/>
<rect x="467.89" y="582.79" width="95.54" height="15.8" fill="#E69F00" stroke="#333333" stroke-width="1.6"/>
<line x1="467.89" y1="582.79" x2="467.89" y2="598.59" stroke="#333333" stroke-width="3.2"/>
<line x1="818.58" y1="573.24" x2="896.48" y2="573.24" stroke="#333333" stroke-width="1.5"/>
<line x1="975.52" y1="573.24" x2="1060.06" y2="573.24" stroke="#333333" stroke-width="1.5"/>
<rect x="896.48" y="565.49" width="79.04" height="15.8" fill="#00BFC4" stroke="#333333" stroke-width="1.6"/>
<line x1="928.55" y1="565.49" x2="928.55" y2="581.29" stroke="#333333" stroke-width="3.2"/>
<line x1="849.51" y1="590.84" x2="896.94" y2="590.84" stroke="#333333" stroke-width="1.5"/>
<line x1="962.23" y1="590.84" x2="1053.19" y2="590.84" stroke="#333333" stroke-width="1.5"/>
<rect x="896.94" y="582.79" width="65.3" height="15.8" fill="#E69F00" stroke="#333333" stroke-width="1.6"/>
<line x1="907.7" y1="582.79" x2="907.7" y2="598.59" stroke="#333333" stroke-width="3.2"/>
<circle cx="1060.75" cy="590.84" r="2.25" fill="#333333"/>
<line x1="1358.74" y1="573.14" x2="1408.92" y2="573.14" stroke="#0000FF" stroke-width="2.7"/>
<rect x="1376.38" y="569.24" width="7.8" height="7.8" fill="#0000FF"/>
<line x1="1348.2" y1="590.94" x2="1395.86" y2="590.94" stroke="#0000FF" stroke-width="2.8" stroke-dasharray="2.8 2.8"/>
<circle cx="1367.68" cy="590.94" r="4.4" fill="#0000FF"/>
<line x1="602.61" y1="642.9" x2="693.57" y2="642.9" stroke="#333333" stroke-width="1.5"/>
<rect x="467.89" y="635.15" width="134.72" height="15.8" fill="#00BFC4" stroke="#333333" stroke-width="1.6"/>
<line x1="467.89" y1="635.15" x2="467.89" y2="650.95" stroke="#333333" stroke-width="3.2"/>
<line x1="581.99" y1="660.5" x2="694.71" y2="660.5" stroke="#333333" stroke-width="1.5"/>
<rect x="467.89" y="652.45" width="114.1" height="15.8" fill="#E69F00" stroke="#333333" stroke-width="1.6"/>
<line x1="467.89" y1="652.45" x2="467.89" y2="668.25" stroke="#333333" stroke-width="3.2"/>
<line x1="879.75" y1="642.9" x2="899.23" y2="642.9" stroke="#333333" stroke-width="1.5"/>
<line x1="982.16" y1="642.9" x2="1048.84" y2="642.9" stroke="#333333" stroke-width="1.5"/>
<rect x="899.23" y="635.15" width="82.94" height="15.8" fill="#00BFC4" stroke="#333333" stroke-width="1.6"/>
<line x1="909.08" y1="635.15" x2="909.08" y2="650.95" stroke="#333333" stroke-width="3.2"/>
<line x1="874.71" y1="660.5" x2="899.23" y2="660.5" stroke="#333333" stroke-width="1.5"/>
<line x1="973" y1="660.5" x2="1051.58" y2="660.5" stroke="#333333" stroke-width="1.5"/>
<rect x="899.23" y="652.45" width="73.77" height="15.8" fill="#E69F00" stroke="#333333" stroke-width="1.6"/>
<line x1="906.79" y1="652.45" x2="906.79" y2="668.25" stroke="#333333" stroke-width="3.2"/>
<line x1="1351.18" y1="642.8" x2="1400.9" y2="642.8" stroke="#0000FF" stroke-width="2.7"/>
<rect x="1368.59" y="638.9" width="7.8" height="7.8" fill="#0000FF"/>
<line x1="1349.58" y1="660.6" x2="1397.69" y2="660.6" stroke="#0000FF" stroke-width="2.8" stroke-dasharray="2.8 2.8"/>
<circle cx="1368.82" cy="660.6" r="4.4" fill="#0000FF"/>
<line x1="600.32" y1="712.56" x2="658.51" y2="712.56" stroke="#333333" stroke-width="1.5"/>
<rect x="467.89" y="704.81" width="132.43" height="15.8" fill="#00BFC4" stroke="#333333" stroke-width="1.6"/>
<line x1="566.87" y1="704.81" x2="566.87" y2="720.61" stroke="#333333" stroke-width="3.2"/>
<line x1="468.35" y1="730.16" x2="541.21" y2="730.16" stroke="#333333" stroke-width="1.5"/>
<line x1="616.36" y1="730.16" x2="682.11" y2="730.16" stroke="#333333" stroke-width="1.5"/>
<rect x="541.21" y="722.11" width="75.15" height="15.8" fill="#E69F00" stroke="#333333" stroke-width="1.6"/>
<line x1="595.05" y1="722.11" x2="595.05" y2="737.91" stroke="#333333" stroke-width="3.2"/>
<line x1="847.22" y1="712.56" x2="898.08" y2="712.56" stroke="#333333" stroke-width="1.5"/>
<line x1="988.58" y1="712.56" x2="1044.71" y2="712.56" stroke="#333333" stroke-width="1.5"/>
<rect x="898.08" y="704.81" width="90.5" height="15.8" fill="#00BFC4" stroke="#333333" stroke-width="1.6"/>
<line x1="958.8" y1="704.81" x2="958.8" y2="720.61" stroke="#333333" stroke-width="3.2"/>
<line x1="855.01" y1="730.16" x2="935.43" y2="730.16" stroke="#333333" stroke-width="1.5"/>
<line x1="1008.74" y1="730.16" x2="1055.02" y2="730.16" stroke="#333333" stroke-width="1.5"/>
<rect x="935.43" y="722.11" width="73.32" height="15.8" fill="#E69F00" stroke="#333333" stroke-width="1.6"/>
<line x1="985.6" y1="722.11" x2="985.6" y2="737.91" stroke="#333333" stroke-width="3.2"/>
<line x1="1237.77" y1="712.46" x2="1306.05" y2="712.46" stroke="#FF0000" stroke-width="2.7"/>
<rect x="1272.82" y="708.56" width="7.8" height="7.8" fill="#FF0000"/>
<line x1="1170.18" y1="730.26" x2="1279.7" y2="730.26" stroke="#FF0000" stroke-width="2.8" stroke-dasharray="2.8 2.8"/>
<circle cx="1233.65" cy="730.26" r="4.4" fill="#FF0000"/>
<line x1="639.73" y1="760.11" x2="688.53" y2="760.11" stroke="#333333" stroke-width="1.5"/>
<rect x="467.89" y="752.36" width="171.83" height="15.8" fill="#00BFC4" stroke="#333333" stroke-width="1.6"/>
<line x1="600.78" y1="752.36" x2="600.78" y2="768.16" stroke="#333333" stroke-width="3.2"/>
<line x1="523.34" y1="777.71" x2="581.3" y2="777.71" stroke="#333333" stroke-width="1.5"/>
<line x1="650.04" y1="777.71" x2="686.23" y2="777.71" stroke="#333333" stroke-width="1.5"/>
<rect x="581.3" y="769.66" width="68.73" height="15.8" fill="#E69F00" stroke="#333333" stroke-width="1.6"/>
<line x1="624.83" y1="769.66" x2="624.83" y2="785.46" stroke="#333333" stroke-width="3.2"/>
<circle cx="468.35" cy="777.71" r="2.25" fill="#333333"/>
<line x1="845.39" y1="760.11" x2="905.64" y2="760.11" stroke="#333333" stroke-width="1.5"/>
<line x1="1020.2" y1="760.11" x2="1069.46" y2="760.11" stroke="#333333" stroke-width="1.5"/>
<rect x="905.64" y="752.36" width="114.56" height="15.8" fill="#00BFC4" stroke="#333333" stroke-width="1.6"/>
<line x1="986.75" y1="752.36" x2="986.75" y2="768.16" stroke="#333333" stroke-width="3.2"/>
<line x1="867.61" y1="777.71" x2="969.11" y2="777.71" stroke="#333333" stroke-width="1.5"/>
<line x1="1037.38" y1="777.71" x2="1080.22" y2="777.71" stroke="#333333" stroke-width="1.5"/>
<rect x="969.11" y="769.66" width="68.27" height="15.8" fill="#E69F00" stroke="#333333" stroke-width="1.6"/>
<line x1="1015.61" y1="769.66" x2="1015.61" y2="785.46" stroke="#333333" stroke-width="3.2"/>
<circle cx="854.55" cy="777.71" r="2.25" fill="#333333"/>
<circle cx="860.28" cy="777.71" r="2.25" fill="#333333"/>
<line x1="1236.17" y1="760.01" x2="1315.67" y2="760.01" stroke="#FF0000" stroke-width="2.7"/>
<rect x="1279.01" y="756.11" width="7.8" height="7.8" fill="#FF0000"/>
<line x1="1169.73" y1="777.81" x2="1290.01" y2="777.81" stroke="#FF0000" stroke-width="2.8" stroke-dasharray="2.8 2.8"/>
<circle cx="1240.75" cy="777.81" r="4.4" fill="#FF0000"/>
<line x1="609.48" y1="807.66" x2="667.45" y2="807.66" stroke="#333333" stroke-width="1.5"/>
<rect x="467.89" y="799.91" width="141.59" height="15.8" fill="#00BFC4" stroke="#333333" stroke-width="1.6"/>
<line x1="580.61" y1="799.91" x2="580.61" y2="815.71" stroke="#333333" stroke-width="3.2"/>
<line x1="532.5" y1="825.26" x2="567.56" y2="825.26" stroke="#333333" stroke-width="1.5"/>
<line x1="623.92" y1="825.26" x2="687.84" y2="825.26" stroke="#333333" stroke-width="1.5"/>
<rect x="567.56" y="817.21" width="56.36" height="15.8" fill="#E69F00" stroke="#333333" stroke-width="1.6"/>
<line x1="601.92" y1="817.21" x2="601.92" y2="833.01" stroke="#333333" stroke-width="3.2"/>
<circle cx="468.35" cy="825.26" r="2.25" fill="#333333"/>
<line x1="818.58" y1="807.66" x2="902.2" y2="807.66" stroke="#333333" stroke-width="1.5"/>
<line x1="997.29" y1="807.66" x2="1047.46" y2="807.66" stroke="#333333" stroke-width="1.5"/>
<rect x="902.2" y="799.91" width="95.08" height="15.8" fill="#00BFC4" stroke="#333333" stroke-width="1.6"/>
<line x1="969.56" y1="799.91" x2="969.56" y2="815.71" stroke="#333333" stroke-width="3.2"/>
<line x1="888.23" y1="825.26" x2="962.92" y2="825.26" stroke="#333333" stroke-width="1.5"/>
<line x1="1015.61" y1="825.26" x2="1058.46" y2="825.26" stroke="#333333" stroke-width="1.5"/>
<rect x="962.92" y="817.21" width="52.7" height="15.8" fill="#E69F00" stroke="#333333" stroke-width="1.6"/>
<line x1="992.47" y1="817.21" x2="992.47" y2="833.01" stroke="#333333" stroke-width="3.2"/>
<line x1="853.86" y1="825.26" x2="878.62" y2="825.26" stroke="#333333" stroke-width="4.4" stroke-linecap="round" stroke-dasharray="0 2.75"/>
<circle cx="883.19" cy="825.26" r="2.25" fill="#333333"/>
<line x1="1249.23" y1="807.56" x2="1309.94" y2="807.56" stroke="#FF0000" stroke-width="2.7"/>
<rect x="1279.69" y="803.66" width="7.8" height="7.8" fill="#FF0000"/>
<line x1="1172.93" y1="825.36" x2="1281.76" y2="825.36" stroke="#FF0000" stroke-width="2.8" stroke-dasharray="2.8 2.8"/>
<circle cx="1235.94" cy="825.36" r="4.4" fill="#FF0000"/>
<line x1="520.59" y1="855.21" x2="584.05" y2="855.21" stroke="#333333" stroke-width="1.5"/>
<line x1="647.29" y1="855.21" x2="699.75" y2="855.21" stroke="#333333" stroke-width="1.5"/>
<rect x="584.05" y="847.46" width="63.23" height="15.8" fill="#00BFC4" stroke="#333333" stroke-width="1.6"/>
<line x1="620.94" y1="847.46" x2="620.94" y2="863.26" stroke="#333333" stroke-width="3.2"/>
<circle cx="468.35" cy="855.21" r="2.25" fill="#333333"/>
<line x1="544.64" y1="872.81" x2="610.17" y2="872.81" stroke="#333333" stroke-width="1.5"/>
<line x1="661.03" y1="872.81" x2="697" y2="872.81" stroke="#333333" stroke-width="1.5"/>
<rect x="610.17" y="864.76" width="50.86" height="15.8" fill="#E69F00" stroke="#333333" stroke-width="1.6"/>
<line x1="640.87" y1="864.76" x2="640.87" y2="880.56" stroke="#333333" stroke-width="3.2"/>
<circle cx="468.35" cy="872.81" r="2.25" fill="#333333"/>
<line x1="884.33" y1="855.21" x2="971.4" y2="855.21" stroke="#333333" stroke-width="1.5"/>
<line x1="1029.82" y1="855.21" x2="1074.5" y2="855.21" stroke="#333333" stroke-width="1.5"/>
<rect x="971.4" y="847.46" width="58.42" height="15.8" fill="#00BFC4" stroke="#333333" stroke-width="1.6"/>
<line x1="1005.76" y1="847.46" x2="1005.76" y2="863.26" stroke="#333333" stroke-width="3.2"/>
<line x1="850.43" y1="855.21" x2="884.34" y2="855.21" stroke="#333333" stroke-width="4.4" stroke-linecap="round" stroke-dasharray="0 2.83"/>
<line x1="937.03" y1="872.81" x2="999.58" y2="872.81" stroke="#333333" stroke-width="1.5"/>
<line x1="1046.54" y1="872.81" x2="1074.95" y2="872.81" stroke="#333333" stroke-width="1.5"/>
<rect x="999.58" y="864.76" width="46.97" height="15.8" fill="#E69F00" stroke="#333333" stroke-width="1.6"/>
<line x1="1027.07" y1="864.76" x2="1027.07" y2="880.56" stroke="#333333" stroke-width="3.2"/>
<line x1="857.99" y1="872.81" x2="868.31" y2="872.81" stroke="#333333" stroke-width="4.4" stroke-linecap="round" stroke-dasharray="0 2.58"/>
<circle cx="875.17" cy="872.81" r="2.25" fill="#333333"/>
<line x1="886.63" y1="872.81" x2="911.84" y2="872.81" stroke="#333333" stroke-width="4.4" stroke-linecap="round" stroke-dasharray="0 2.8"/>
<circle cx="925.12" cy="872.81" r="2.25" fill="#333333"/>
<line x1="1244.64" y1="855.11" x2="1314.52" y2="855.11" stroke="#FF0000" stroke-width="2.7"/>
<rect x="1280.84" y="851.21" width="7.8" height="7.8" fill="#FF0000"/>
<line x1="1194.24" y1="872.91" x2="1292.3" y2="872.91" stroke="#FF0000" stroke-width="2.8" stroke-dasharray="2.8 2.8"/>
<circle cx="1251.06" cy="872.91" r="4.4" fill="#FF0000"/>
<line x1="705.02" y1="902.76" x2="723.35" y2="902.76" stroke="#333333" stroke-width="1.5"/>
<line x1="736.41" y1="902.76" x2="754.97" y2="902.76" stroke="#333333" stroke-width="1.5"/>
<rect x="723.35" y="895.01" width="13.06" height="15.8" fill="#00BFC4" stroke="#333333" stroke-width="1.6"/>
<line x1="730.22" y1="895.01" x2="730.22" y2="910.81" stroke="#333333" stroke-width="3.2"/>
<circle cx="468.35" cy="902.76" r="2.25" fill="#333333"/>
<circle cx="686.23" cy="902.76" r="2.25" fill="#333333"/>
<circle cx="697.69" cy="902.76" r="2.25" fill="#333333"/>
<line x1="754.97" y1="902.76" x2="762.31" y2="902.76" stroke="#333333" stroke-width="4.4" stroke-linecap="round" stroke-dasharray="0 2.44"/>
<line x1="713.04" y1="920.36" x2="729.08" y2="920.36" stroke="#333333" stroke-width="1.5"/>
<line x1="740.53" y1="920.36" x2="756.57" y2="920.36" stroke="#333333" stroke-width="1.5"/>
<rect x="729.08" y="912.31" width="11.46" height="15.8" fill="#E69F00" stroke="#333333" stroke-width="1.6"/>
<line x1="734.35" y1="912.31" x2="734.35" y2="928.11" stroke="#333333" stroke-width="3.2"/>
<circle cx="468.35" cy="920.36" r="2.25" fill="#333333"/>
<line x1="704.56" y1="920.36" x2="709.61" y2="920.36" stroke="#333333" stroke-width="4.4" stroke-linecap="round" stroke-dasharray="0 2.52"/>
<line x1="757.72" y1="920.36" x2="761.16" y2="920.36" stroke="#333333" stroke-width="4.4" stroke-linecap="round" stroke-dasharray="0 3.44"/>
<circle cx="765.05" cy="920.36" r="2.25" fill="#333333"/>
<line x1="1019.51" y1="902.76" x2="1060.29" y2="902.76" stroke="#333333" stroke-width="1.5"/>
<line x1="1088.24" y1="902.76" x2="1115.28" y2="902.76" stroke="#333333" stroke-width="1.5"/>
<rect x="1060.29" y="895.01" width="27.95" height="15.8" fill="#00BFC4" stroke="#333333" stroke-width="1.6"/>
<line x1="1075.64" y1="895.01" x2="1075.64" y2="910.81" stroke="#333333" stroke-width="3.2"/>
<circle cx="856.84" cy="902.76" r="2.25" fill="#333333"/>
<circle cx="863.03" cy="902.76" r="2.25" fill="#333333"/>
<circle cx="876.77" cy="902.76" r="2.25" fill="#333333"/>
<circle cx="883.19" cy="902.76" r="2.25" fill="#333333"/>
<circle cx="887.77" cy="902.76" r="2.25" fill="#333333"/>
<line x1="898.08" y1="902.76" x2="906.11" y2="902.76" stroke="#333333" stroke-width="4.4" stroke-linecap="round" stroke-dasharray="0 2.67"/>
<line x1="1042.88" y1="920.36" x2="1072.2" y2="920.36" stroke="#333333" stroke-width="1.5"/>
<line x1="1095.8" y1="920.36" x2="1127.65" y2="920.36" stroke="#333333" stroke-width="1.5"/>
<rect x="1072.2" y="912.31" width="23.6" height="15.8" fill="#E69F00" stroke="#333333" stroke-width="1.6"/>
<line x1="1086.41" y1="912.31" x2="1086.41" y2="928.11" stroke="#333333" stroke-width="3.2"/>
<circle cx="844.93" cy="920.36" r="2.25" fill="#333333"/>
<circle cx="876.32" cy="920.36" r="2.25" fill="#333333"/>
<line x1="1324.83" y1="902.66" x2="1334" y2="902.66" stroke="#FF0000" stroke-width="2.7"/>
<rect x="1325.52" y="898.76" width="7.8" height="7.8" fill="#FF0000"/>
<line x1="1284.74" y1="920.46" x2="1320.25" y2="920.46" stroke="#FF0000" stroke-width="2.8" stroke-dasharray="2.8 2.8"/>
<circle cx="1304.21" cy="920.46" r="4.4" fill="#FF0000"/>
<line x1="679.36" y1="950.31" x2="700.44" y2="950.31" stroke="#333333" stroke-width="1.5"/>
<line x1="715.33" y1="950.31" x2="732.97" y2="950.31" stroke="#333333" stroke-width="1.5"/>
<rect x="700.44" y="942.56" width="14.89" height="15.8" fill="#00BFC4" stroke="#333333" stroke-width="1.6"/>
<line x1="708" y1="942.56" x2="708" y2="958.36" stroke="#333333" stroke-width="3.2"/>
<circle cx="468.35" cy="950.31" r="2.25" fill="#333333"/>
<circle cx="608.11" cy="950.31" r="2.25" fill="#333333"/>
<circle cx="627.58" cy="950.31" r="2.25" fill="#333333"/>
<circle cx="633.54" cy="950.31" r="2.25" fill="#333333"/>
<circle cx="639.27" cy="950.31" r="2.25" fill="#333333"/>
<circle cx="645.68" cy="950.31" r="2.25" fill="#333333"/>
<line x1="663.32" y1="950.31" x2="679.37" y2="950.31" stroke="#333333" stroke-width="4.4" stroke-linecap="round" stroke-dasharray="0 2.67"/>
<line x1="686.23" y1="967.91" x2="706.63" y2="967.91" stroke="#333333" stroke-width="1.5"/>
<line x1="719.91" y1="967.91" x2="734.35" y2="967.91" stroke="#333333" stroke-width="1.5"/>
<rect x="706.63" y="959.86" width="13.29" height="15.8" fill="#E69F00" stroke="#333333" stroke-width="1.6"/>
<line x1="713.5" y1="959.86" x2="713.5" y2="975.66" stroke="#333333" stroke-width="3.2"/>
<circle cx="468.35" cy="967.91" r="2.25" fill="#333333"/>
<circle cx="617.96" cy="967.91" r="2.25" fill="#333333"/>
<circle cx="635.6" cy="967.91" r="2.25" fill="#333333"/>
<circle cx="657.6" cy="967.91" r="2.25" fill="#333333"/>
<circle cx="678.22" cy="967.91" r="2.25" fill="#333333"/>
<circle cx="685.09" cy="967.91" r="2.25" fill="#333333"/>
<line x1="999.35" y1="950.31" x2="1040.13" y2="950.31" stroke="#333333" stroke-width="1.5"/>
<line x1="1068.77" y1="950.31" x2="1088.93" y2="950.31" stroke="#333333" stroke-width="1.5"/>
<rect x="1040.13" y="942.56" width="28.64" height="15.8" fill="#00BFC4" stroke="#333333" stroke-width="1.6"/>
<line x1="1055.71" y1="942.56" x2="1055.71" y2="958.36" stroke="#333333" stroke-width="3.2"/>
<circle cx="900.83" cy="950.31" r="2.25" fill="#333333"/>
<line x1="966.13" y1="950.31" x2="971.41" y2="950.31" stroke="#333333" stroke-width="4.4" stroke-linecap="round" stroke-dasharray="0 2.63"/>
<circle cx="983.31" cy="950.31" r="2.25" fill="#333333"/>
<line x1="1028.67" y1="967.91" x2="1054.56" y2="967.91" stroke="#333333" stroke-width="1.5"/>
<line x1="1077.25" y1="967.91" x2="1093.97" y2="967.91" stroke="#333333" stroke-width="1.5"/>
<rect x="1054.56" y="959.86" width="22.68" height="15.8" fill="#E69F00" stroke="#333333" stroke-width="1.6"/>
<line x1="1068.08" y1="959.86" x2="1068.08" y2="975.66" stroke="#333333" stroke-width="3.2"/>
<circle cx="899.91" cy="967.91" r="2.25" fill="#333333"/>
<circle cx="954.9" cy="967.91" r="2.25" fill="#333333"/>
<circle cx="994.77" cy="967.91" r="2.25" fill="#333333"/>
<line x1="1006.45" y1="967.91" x2="1010.36" y2="967.91" stroke="#333333" stroke-width="4.4" stroke-linecap="round" stroke-dasharray="0 3.89"/>
<line x1="1324.83" y1="950.21" x2="1335.6" y2="950.21" stroke="#FF0000" stroke-width="2.7"/>
<rect x="1326.2" y="946.31" width="7.8" height="7.8" fill="#FF0000"/>
<line x1="1299.17" y1="968.01" x2="1323" y2="968.01" stroke="#FF0000" stroke-width="2.8" stroke-dasharray="2.8 2.8"/>
<circle cx="1311.77" cy="968.01" r="4.4" fill="#FF0000"/>
<line x1="655.76" y1="997.86" x2="686.69" y2="997.86" stroke="#333333" stroke-width="1.5"/>
<line x1="706.85" y1="997.86" x2="733.66" y2="997.86" stroke="#333333" stroke-width="1.5"/>
<rect x="686.69" y="990.11" width="20.16" height="15.8" fill="#00BFC4" stroke="#333333" stroke-width="1.6"/>
<line x1="697.69" y1="990.11" x2="697.69" y2="1005.91" stroke="#333333" stroke-width="3.2"/>
<line x1="637.43" y1="997.86" x2="646.61" y2="997.86" stroke="#333333" stroke-width="4.4" stroke-linecap="round" stroke-dasharray="0 3.05"/>
<circle cx="655.08" cy="997.86" r="2.25" fill="#333333"/>
<line x1="670.2" y1="1015.46" x2="694.71" y2="1015.46" stroke="#333333" stroke-width="1.5"/>
<line x1="712.58" y1="1015.46" x2="731.83" y2="1015.46" stroke="#333333" stroke-width="1.5"/>
<rect x="694.71" y="1007.41" width="17.87" height="15.8" fill="#E69F00" stroke="#333333" stroke-width="1.6"/>
<line x1="703.88" y1="1007.41" x2="703.88" y2="1023.21" stroke="#333333" stroke-width="3.2"/>
<circle cx="665.61" cy="1015.46" r="2.25" fill="#333333"/>
<line x1="993.16" y1="997.86" x2="1031.65" y2="997.86" stroke="#333333" stroke-width="1.5"/>
<line x1="1060.75" y1="997.86" x2="1099.01" y2="997.86" stroke="#333333" stroke-width="1.5"/>
<rect x="1031.65" y="990.11" width="29.1" height="15.8" fill="#00BFC4" stroke="#333333" stroke-width="1.6"/>
<line x1="1045.4" y1="990.11" x2="1045.4" y2="1005.91" stroke="#333333" stroke-width="3.2"/>
<circle cx="979.42" cy="997.86" r="2.25" fill="#333333"/>
<line x1="1006.22" y1="1015.46" x2="1043.57" y2="1015.46" stroke="#333333" stroke-width="1.5"/>
<line x1="1069.23" y1="1015.46" x2="1088.24" y2="1015.46" stroke="#333333" stroke-width="1.5"/>
<rect x="1043.57" y="1007.41" width="25.66" height="15.8" fill="#E69F00" stroke="#333333" stroke-width="1.6"/>
<line x1="1056.63" y1="1007.41" x2="1056.63" y2="1023.21" stroke="#333333" stroke-width="3.2"/>
<line x1="1325.52" y1="997.76" x2="1336.29" y2="997.76" stroke="#FF0000" stroke-width="2.7"/>
<rect x="1327.12" y="993.86" width="7.8" height="7.8" fill="#FF0000"/>
<line x1="1302.38" y1="1015.56" x2="1322.08" y2="1015.56" stroke="#FF0000" stroke-width="2.8" stroke-dasharray="2.8 2.8"/>
<circle cx="1312.23" cy="1015.56" r="4.4" fill="#FF0000"/>
<line x1="703.88" y1="1045.41" x2="725.64" y2="1045.41" stroke="#333333" stroke-width="1.5"/>
<line x1="740.08" y1="1045.41" x2="758.4" y2="1045.41" stroke="#333333" stroke-width="1.5"/>
<rect x="725.64" y="1037.66" width="14.43" height="15.8" fill="#00BFC4" stroke="#333333" stroke-width="1.6"/>
<line x1="732.97" y1="1037.66" x2="732.97" y2="1053.46" stroke="#333333" stroke-width="3.2"/>
<line x1="692.42" y1="1045.41" x2="694.72" y2="1045.41" stroke="#333333" stroke-width="4.4" stroke-linecap="round" stroke-dasharray="0 2.29"/>
<line x1="700.44" y1="1045.41" x2="703.89" y2="1045.41" stroke="#333333" stroke-width="4.4" stroke-linecap="round" stroke-dasharray="0 3.44"/>
<line x1="711.44" y1="1063.01" x2="730.68" y2="1063.01" stroke="#333333" stroke-width="1.5"/>
<line x1="743.51" y1="1063.01" x2="762.76" y2="1063.01" stroke="#333333" stroke-width="1.5"/>
<rect x="730.68" y="1054.96" width="12.83" height="15.8" fill="#E69F00" stroke="#333333" stroke-width="1.6"/>
<line x1="737.1" y1="1054.96" x2="737.1" y2="1070.76" stroke="#333333" stroke-width="3.2"/>
<circle cx="709.6" cy="1063.01" r="2.25" fill="#333333"/>
<circle cx="762.76" cy="1063.01" r="2.25" fill="#333333"/>
<line x1="1031.65" y1="1045.41" x2="1063.04" y2="1045.41" stroke="#333333" stroke-width="1.5"/>
<line x1="1089.39" y1="1045.41" x2="1107.26" y2="1045.41" stroke="#333333" stroke-width="1.5"/>
<rect x="1063.04" y="1037.66" width="26.35" height="15.8" fill="#00BFC4" stroke="#333333" stroke-width="1.6"/>
<line x1="1077.93" y1="1037.66" x2="1077.93" y2="1053.46" stroke="#333333" stroke-width="3.2"/>
<line x1="1050.9" y1="1063.01" x2="1075.64" y2="1063.01" stroke="#333333" stroke-width="1.5"/>
<line x1="1097.41" y1="1063.01" x2="1115.05" y2="1063.01" stroke="#333333" stroke-width="1.5"/>
<rect x="1075.64" y="1054.96" width="21.77" height="15.8" fill="#E69F00" stroke="#333333" stroke-width="1.6"/>
<line x1="1088.7" y1="1054.96" x2="1088.7" y2="1070.76" stroke="#333333" stroke-width="3.2"/>
<line x1="1328.27" y1="1045.31" x2="1335.14" y2="1045.31" stroke="#FF0000" stroke-width="2.7"/>
<rect x="1327.81" y="1041.41" width="7.8" height="7.8" fill="#FF0000"/>
<line x1="1304.21" y1="1063.11" x2="1321.85" y2="1063.11" stroke="#FF0000" stroke-width="2.8" stroke-dasharray="2.8 2.8"/>
<circle cx="1313.38" cy="1063.11" r="4.4" fill="#FF0000"/>
<line x1="665.61" y1="1092.96" x2="693.11" y2="1092.96" stroke="#333333" stroke-width="1.5"/>
<line x1="711.89" y1="1092.96" x2="735.49" y2="1092.96" stroke="#333333" stroke-width="1.5"/>
<rect x="693.11" y="1085.21" width="18.79" height="15.8" fill="#00BFC4" stroke="#333333" stroke-width="1.6"/>
<line x1="703.19" y1="1085.21" x2="703.19" y2="1101.01" stroke="#333333" stroke-width="3.2"/>
<line x1="646.14" y1="1092.96" x2="656.92" y2="1092.96" stroke="#333333" stroke-width="4.4" stroke-linecap="round" stroke-dasharray="0 2.69"/>
<line x1="677.53" y1="1110.56" x2="700.44" y2="1110.56" stroke="#333333" stroke-width="1.5"/>
<line x1="716.02" y1="1110.56" x2="733.2" y2="1110.56" stroke="#333333" stroke-width="1.5"/>
<rect x="700.44" y="1102.51" width="15.58" height="15.8" fill="#E69F00" stroke="#333333" stroke-width="1.6"/>
<line x1="708.46" y1="1102.51" x2="708.46" y2="1118.31" stroke="#333333" stroke-width="3.2"/>
<circle cx="673.63" cy="1110.56" r="2.25" fill="#333333"/>
<line x1="1001.18" y1="1092.96" x2="1036.69" y2="1092.96" stroke="#333333" stroke-width="1.5"/>
<line x1="1064.87" y1="1092.96" x2="1101.53" y2="1092.96" stroke="#333333" stroke-width="1.5"/>
<rect x="1036.69" y="1085.21" width="28.18" height="15.8" fill="#00BFC4" stroke="#333333" stroke-width="1.6"/>
<line x1="1051.13" y1="1085.21" x2="1051.13" y2="1101.01" stroke="#333333" stroke-width="3.2"/>
<circle cx="987.89" cy="1092.96" r="2.25" fill="#333333"/>
<line x1="1013.32" y1="1110.56" x2="1047.46" y2="1110.56" stroke="#333333" stroke-width="1.5"/>
<line x1="1073.81" y1="1110.56" x2="1091.68" y2="1110.56" stroke="#333333" stroke-width="1.5"/>
<rect x="1047.46" y="1102.51" width="26.35" height="15.8" fill="#E69F00" stroke="#333333" stroke-width="1.6"/>
<line x1="1061.44" y1="1102.51" x2="1061.44" y2="1118.31" stroke="#333333" stroke-width="3.2"/>
<line x1="1327.58" y1="1092.86" x2="1336.75" y2="1092.86" stroke="#FF0000" stroke-width="2.7"/>
<rect x="1328.26" y="1088.96" width="7.8" height="7.8" fill="#FF0000"/>
<line x1="1303.53" y1="1110.66" x2="1323.23" y2="1110.66" stroke="#FF0000" stroke-width="2.8" stroke-dasharray="2.8 2.8"/>
<circle cx="1314.06" cy="1110.66" r="4.4" fill="#FF0000"/>
<line x1="668.36" y1="1140.51" x2="690.59" y2="1140.51" stroke="#333333" stroke-width="1.5"/>
<line x1="707.31" y1="1140.51" x2="734.12" y2="1140.51" stroke="#333333" stroke-width="1.5"/>
<rect x="690.59" y="1132.76" width="16.73" height="15.8" fill="#00BFC4" stroke="#333333" stroke-width="1.6"/>
<line x1="699.75" y1="1132.76" x2="699.75" y2="1148.56" stroke="#333333" stroke-width="3.2"/>
<circle cx="468.35" cy="1140.51" r="2.25" fill="#333333"/>
<line x1="643.16" y1="1140.51" x2="650.05" y2="1140.51" stroke="#333333" stroke-width="4.4" stroke-linecap="round" stroke-dasharray="0 3.44"/>
<circle cx="659.2" cy="1140.51" r="2.25" fill="#333333"/>
<circle cx="664.93" cy="1140.51" r="2.25" fill="#333333"/>
<circle cx="734.12" cy="1140.51" r="2.25" fill="#333333"/>
<line x1="675.24" y1="1158.11" x2="697" y2="1158.11" stroke="#333333" stroke-width="1.5"/>
<line x1="711.89" y1="1158.11" x2="726.79" y2="1158.11" stroke="#333333" stroke-width="1.5"/>
<rect x="697" y="1150.06" width="14.89" height="15.8" fill="#E69F00" stroke="#333333" stroke-width="1.6"/>
<line x1="705.02" y1="1150.06" x2="705.02" y2="1165.86" stroke="#333333" stroke-width="3.2"/>
<circle cx="632.85" cy="1158.11" r="2.25" fill="#333333"/>
<circle cx="655.76" cy="1158.11" r="2.25" fill="#333333"/>
<circle cx="668.82" cy="1158.11" r="2.25" fill="#333333"/>
<circle cx="674.09" cy="1158.11" r="2.25" fill="#333333"/>
<circle cx="735.26" cy="1158.11" r="2.25" fill="#333333"/>
<line x1="1001.87" y1="1140.51" x2="1034.4" y2="1140.51" stroke="#333333" stroke-width="1.5"/>
<line x1="1060.29" y1="1140.51" x2="1095.57" y2="1140.51" stroke="#333333" stroke-width="1.5"/>
<rect x="1034.4" y="1132.76" width="25.89" height="15.8" fill="#00BFC4" stroke="#333333" stroke-width="1.6"/>
<line x1="1047.69" y1="1132.76" x2="1047.69" y2="1148.56" stroke="#333333" stroke-width="3.2"/>
<circle cx="917.56" cy="1140.51" r="2.25" fill="#333333"/>
<circle cx="995.45" cy="1140.51" r="2.25" fill="#333333"/>
<line x1="1016.53" y1="1158.11" x2="1046.32" y2="1158.11" stroke="#333333" stroke-width="1.5"/>
<line x1="1069.91" y1="1158.11" x2="1086.41" y2="1158.11" stroke="#333333" stroke-width="1.5"/>
<rect x="1046.32" y="1150.06" width="23.6" height="15.8" fill="#E69F00" stroke="#333333" stroke-width="1.6"/>
<line x1="1058.46" y1="1150.06" x2="1058.46" y2="1165.86" stroke="#333333" stroke-width="3.2"/>
<line x1="1328.73" y1="1140.41" x2="1337.43" y2="1140.41" stroke="#FF0000" stroke-width="2.7"/>
<rect x="1328.95" y="1136.51" width="7.8" height="7.8" fill="#FF0000"/>
<line x1="1305.36" y1="1158.21" x2="1323.23" y2="1158.21" stroke="#FF0000" stroke-width="2.8" stroke-dasharray="2.8 2.8"/>
<circle cx="1314.52" cy="1158.21" r="4.4" fill="#FF0000"/>
<line x1="663.09" y1="1188.06" x2="688.53" y2="1188.06" stroke="#333333" stroke-width="1.5"/>
<line x1="705.02" y1="1188.06" x2="731.37" y2="1188.06" stroke="#333333" stroke-width="1.5"/>
<rect x="688.53" y="1180.31" width="16.5" height="15.8" fill="#00BFC4" stroke="#333333" stroke-width="1.6"/>
<line x1="696.54" y1="1180.31" x2="696.54" y2="1196.11" stroke="#333333" stroke-width="3.2"/>
<circle cx="642.25" cy="1188.06" r="2.25" fill="#333333"/>
<circle cx="648.43" cy="1188.06" r="2.25" fill="#333333"/>
<circle cx="663.09" cy="1188.06" r="2.25" fill="#333333"/>
<circle cx="731.37" cy="1188.06" r="2.25" fill="#333333"/>
<line x1="668.36" y1="1205.66" x2="692.42" y2="1205.66" stroke="#333333" stroke-width="1.5"/>
<line x1="707.31" y1="1205.66" x2="723.35" y2="1205.66" stroke="#333333" stroke-width="1.5"/>
<rect x="692.42" y="1197.61" width="14.89" height="15.8" fill="#E69F00" stroke="#333333" stroke-width="1.6"/>
<line x1="700.44" y1="1197.61" x2="700.44" y2="1213.41" stroke="#333333" stroke-width="3.2"/>
<circle cx="668.36" cy="1205.66" r="2.25" fill="#333333"/>
<circle cx="735.95" cy="1205.66" r="2.25" fill="#333333"/>
<line x1="1005.3" y1="1188.06" x2="1033.94" y2="1188.06" stroke="#333333" stroke-width="1.5"/>
<line x1="1057.31" y1="1188.06" x2="1088.93" y2="1188.06" stroke="#333333" stroke-width="1.5"/>
<rect x="1033.94" y="1180.31" width="23.37" height="15.8" fill="#00BFC4" stroke="#333333" stroke-width="1.6"/>
<line x1="1044.71" y1="1180.31" x2="1044.71" y2="1196.11" stroke="#333333" stroke-width="3.2"/>
<line x1="1013.32" y1="1205.66" x2="1043.11" y2="1205.66" stroke="#333333" stroke-width="1.5"/>
<line x1="1066.02" y1="1205.66" x2="1083.66" y2="1205.66" stroke="#333333" stroke-width="1.5"/>
<rect x="1043.11" y="1197.61" width="22.91" height="15.8" fill="#E69F00" stroke="#333333" stroke-width="1.6"/>
<line x1="1054.33" y1="1197.61" x2="1054.33" y2="1213.41" stroke="#333333" stroke-width="3.2"/>
<line x1="1331.71" y1="1187.96" x2="1339.04" y2="1187.96" stroke="#FF0000" stroke-width="2.7"/>
<rect x="1331.24" y="1184.06" width="7.8" height="7.8" fill="#FF0000"/>
<line x1="1312.23" y1="1205.76" x2="1325.52" y2="1205.76" stroke="#FF0000" stroke-width="2.8" stroke-dasharray="2.8 2.8"/>
<circle cx="1317.96" cy="1205.76" r="4.4" fill="#FF0000"/>
<line x1="626.44" y1="1257.72" x2="718.77" y2="1257.72" stroke="#333333" stroke-width="1.5"/>
<rect x="467.89" y="1249.97" width="158.54" height="15.8" fill="#00BFC4" stroke="#333333" stroke-width="1.6"/>
<line x1="467.89" y1="1249.97" x2="467.89" y2="1265.77" stroke="#333333" stroke-width="3.2"/>
<line x1="467.89" y1="1268.07" x2="467.89" y2="1282.27" stroke="#333333" stroke-width="3.3" stroke-linecap="round"/>
<line x1="577.87" y1="1275.32" x2="589.33" y2="1275.32" stroke="#333333" stroke-width="4.4" stroke-linecap="round" stroke-dasharray="0 2.86"/>
<line x1="594.59" y1="1275.32" x2="611.55" y2="1275.32" stroke="#333333" stroke-width="4.4" stroke-linecap="round" stroke-dasharray="0 2.83"/>
<line x1="613.84" y1="1275.32" x2="618.43" y2="1275.32" stroke="#333333" stroke-width="4.4" stroke-linecap="round" stroke-dasharray="0 2.29"/>
<line x1="624.83" y1="1275.32" x2="638.13" y2="1275.32" stroke="#333333" stroke-width="4.4" stroke-linecap="round" stroke-dasharray="0 2.66"/>
<line x1="640.41" y1="1275.32" x2="647.3" y2="1275.32" stroke="#333333" stroke-width="4.4" stroke-linecap="round" stroke-dasharray="0 3.44"/>
<line x1="654.62" y1="1275.32" x2="667.23" y2="1275.32" stroke="#333333" stroke-width="4.4" stroke-linecap="round" stroke-dasharray="0 3.15"/>
<line x1="670.2" y1="1275.32" x2="691.28" y2="1275.32" stroke="#333333" stroke-width="4.4" stroke-linecap="round" stroke-dasharray="0 3.01"/>
<line x1="694.02" y1="1275.32" x2="699.3" y2="1275.32" stroke="#333333" stroke-width="4.4" stroke-linecap="round" stroke-dasharray="0 2.63"/>
<line x1="706.17" y1="1275.32" x2="713.51" y2="1275.32" stroke="#333333" stroke-width="4.4" stroke-linecap="round" stroke-dasharray="0 2.44"/>
<circle cx="720.37" cy="1275.32" r="2.25" fill="#333333"/>
<line x1="855.24" y1="1257.72" x2="897.62" y2="1257.72" stroke="#333333" stroke-width="1.5"/>
<line x1="979.42" y1="1257.72" x2="1038.98" y2="1257.72" stroke="#333333" stroke-width="1.5"/>
<rect x="897.62" y="1249.97" width="81.79" height="15.8" fill="#00BFC4" stroke="#333333" stroke-width="1.6"/>
<line x1="906.79" y1="1249.97" x2="906.79" y2="1265.77" stroke="#333333" stroke-width="3.2"/>
<line x1="867.15" y1="1275.32" x2="896.48" y2="1275.32" stroke="#333333" stroke-width="1.5"/>
<line x1="919.16" y1="1275.32" x2="934.28" y2="1275.32" stroke="#333333" stroke-width="1.5"/>
<rect x="896.48" y="1267.27" width="22.68" height="15.8" fill="#E69F00" stroke="#333333" stroke-width="1.6"/>
<line x1="906.79" y1="1267.27" x2="906.79" y2="1283.07" stroke="#333333" stroke-width="3.2"/>
<circle cx="841.95" cy="1275.32" r="2.25" fill="#333333"/>
<line x1="859.82" y1="1275.32" x2="863.04" y2="1275.32" stroke="#333333" stroke-width="4.4" stroke-linecap="round" stroke-dasharray="0 3.21"/>
<line x1="951.92" y1="1275.32" x2="1004.63" y2="1275.32" stroke="#333333" stroke-width="4.4" stroke-linecap="round" stroke-dasharray="0 2.93"/>
<line x1="1007.6" y1="1275.32" x2="1026.39" y2="1275.32" stroke="#333333" stroke-width="4.4" stroke-linecap="round" stroke-dasharray="0 3.13"/>
<line x1="1029.82" y1="1275.32" x2="1038.99" y2="1275.32" stroke="#333333" stroke-width="4.4" stroke-linecap="round" stroke-dasharray="0 3.05"/>
<line x1="1363.09" y1="1257.62" x2="1432.97" y2="1257.62" stroke="#0000FF" stroke-width="2.7"/>
<rect x="1388.06" y="1253.72" width="7.8" height="7.8" fill="#0000FF"/>
<line x1="1356.22" y1="1275.42" x2="1413.5" y2="1275.42" stroke="#0000FF" stroke-width="2.8" stroke-dasharray="2.8 2.8"/>
<circle cx="1380.51" cy="1275.42" r="4.4" fill="#0000FF"/>
<line x1="644.99" y1="1305.27" x2="732.51" y2="1305.27" stroke="#333333" stroke-width="1.5"/>
<rect x="467.89" y="1297.52" width="177.1" height="15.8" fill="#00BFC4" stroke="#333333" stroke-width="1.6"/>
<line x1="467.89" y1="1297.52" x2="467.89" y2="1313.32" stroke="#333333" stroke-width="3.2"/>
<line x1="600.32" y1="1322.87" x2="738.01" y2="1322.87" stroke="#333333" stroke-width="1.5"/>
<rect x="467.89" y="1314.82" width="132.43" height="15.8" fill="#E69F00" stroke="#333333" stroke-width="1.6"/>
<line x1="467.89" y1="1314.82" x2="467.89" y2="1330.62" stroke="#333333" stroke-width="3.2"/>
<line x1="866.69" y1="1305.27" x2="900.37" y2="1305.27" stroke="#333333" stroke-width="1.5"/>
<line x1="993.16" y1="1305.27" x2="1045.17" y2="1305.27" stroke="#333333" stroke-width="1.5"/>
<rect x="900.37" y="1297.52" width="92.79" height="15.8" fill="#00BFC4" stroke="#333333" stroke-width="1.6"/>
<line x1="910.68" y1="1297.52" x2="910.68" y2="1313.32" stroke="#333333" stroke-width="3.2"/>
<line x1="861.88" y1="1322.87" x2="899.91" y2="1322.87" stroke="#333333" stroke-width="1.5"/>
<line x1="965.67" y1="1322.87" x2="1052.04" y2="1322.87" stroke="#333333" stroke-width="1.5"/>
<rect x="899.91" y="1314.82" width="65.75" height="15.8" fill="#E69F00" stroke="#333333" stroke-width="1.6"/>
<line x1="909.08" y1="1314.82" x2="909.08" y2="1330.62" stroke="#333333" stroke-width="3.2"/>
<line x1="1358.74" y1="1305.17" x2="1428.62" y2="1305.17" stroke="#0000FF" stroke-width="2.7"/>
<rect x="1383.94" y="1301.27" width="7.8" height="7.8" fill="#0000FF"/>
<line x1="1351.18" y1="1322.97" x2="1408.46" y2="1322.97" stroke="#0000FF" stroke-width="2.8" stroke-dasharray="2.8 2.8"/>
<circle cx="1375.24" cy="1322.97" r="4.4" fill="#0000FF"/>
<line x1="666.76" y1="1352.82" x2="742.82" y2="1352.82" stroke="#333333" stroke-width="1.5"/>
<rect x="467.89" y="1345.07" width="198.87" height="15.8" fill="#00BFC4" stroke="#333333" stroke-width="1.6"/>
<line x1="467.89" y1="1345.07" x2="467.89" y2="1360.87" stroke="#333333" stroke-width="3.2"/>
<line x1="634.46" y1="1370.42" x2="742.37" y2="1370.42" stroke="#333333" stroke-width="1.5"/>
<rect x="467.89" y="1362.37" width="166.56" height="15.8" fill="#E69F00" stroke="#333333" stroke-width="1.6"/>
<line x1="467.89" y1="1362.37" x2="467.89" y2="1378.17" stroke="#333333" stroke-width="3.2"/>
<line x1="866.69" y1="1352.82" x2="899.91" y2="1352.82" stroke="#333333" stroke-width="1.5"/>
<line x1="1009.2" y1="1352.82" x2="1057.31" y2="1352.82" stroke="#333333" stroke-width="1.5"/>
<rect x="899.91" y="1345.07" width="109.29" height="15.8" fill="#00BFC4" stroke="#333333" stroke-width="1.6"/>
<line x1="911.14" y1="1345.07" x2="911.14" y2="1360.87" stroke="#333333" stroke-width="3.2"/>
<line x1="861.88" y1="1370.42" x2="899.91" y2="1370.42" stroke="#333333" stroke-width="1.5"/>
<line x1="993.85" y1="1370.42" x2="1076.79" y2="1370.42" stroke="#333333" stroke-width="1.5"/>
<rect x="899.91" y="1362.37" width="93.94" height="15.8" fill="#E69F00" stroke="#333333" stroke-width="1.6"/>
<line x1="909.54" y1="1362.37" x2="909.54" y2="1378.17" stroke="#333333" stroke-width="3.2"/>
<line x1="1355.76" y1="1352.72" x2="1411.21" y2="1352.72" stroke="#0000FF" stroke-width="2.7"/>
<rect x="1375.46" y="1348.82" width="7.8" height="7.8" fill="#0000FF"/>
<line x1="1352.33" y1="1370.52" x2="1421.75" y2="1370.52" stroke="#0000FF" stroke-width="2.8" stroke-dasharray="2.8 2.8"/>
<circle cx="1380.51" cy="1370.52" r="4.4" fill="#0000FF"/>
<line x1="737.1" y1="1422.48" x2="747.41" y2="1422.48" stroke="#333333" stroke-width="1.5"/>
<line x1="755.43" y1="1422.48" x2="764.59" y2="1422.48" stroke="#333333" stroke-width="1.5"/>
<rect x="747.41" y="1414.73" width="8.02" height="15.8" fill="#00BFC4" stroke="#333333" stroke-width="1.6"/>
<line x1="751.53" y1="1414.73" x2="751.53" y2="1430.53" stroke="#333333" stroke-width="3.2"/>
<line x1="727.93" y1="1422.48" x2="737.11" y2="1422.48" stroke="#333333" stroke-width="4.4" stroke-linecap="round" stroke-dasharray="0 3.05"/>
<line x1="764.59" y1="1422.48" x2="771.47" y2="1422.48" stroke="#333333" stroke-width="4.4" stroke-linecap="round" stroke-dasharray="0 3.44"/>
<line x1="740.53" y1="1440.08" x2="748.55" y2="1440.08" stroke="#333333" stroke-width="1.5"/>
<line x1="756.57" y1="1440.08" x2="763.44" y2="1440.08" stroke="#333333" stroke-width="1.5"/>
<rect x="748.55" y="1432.03" width="8.02" height="15.8" fill="#E69F00" stroke="#333333" stroke-width="1.6"/>
<line x1="750.84" y1="1432.03" x2="750.84" y2="1447.83" stroke="#333333" stroke-width="3.2"/>
<line x1="734.81" y1="1440.08" x2="740.54" y2="1440.08" stroke="#333333" stroke-width="4.4" stroke-linecap="round" stroke-dasharray="0 2.86"/>
<circle cx="767.34" cy="1440.08" r="2.25" fill="#333333"/>
<line x1="1051.58" y1="1422.48" x2="1080.68" y2="1422.48" stroke="#333333" stroke-width="1.5"/>
<line x1="1104.28" y1="1422.48" x2="1121.46" y2="1422.48" stroke="#333333" stroke-width="1.5"/>
<rect x="1080.68" y="1414.73" width="23.6" height="15.8" fill="#00BFC4" stroke="#333333" stroke-width="1.6"/>
<line x1="1096.95" y1="1414.73" x2="1096.95" y2="1430.53" stroke="#333333" stroke-width="3.2"/>
<line x1="1063.04" y1="1440.08" x2="1090.99" y2="1440.08" stroke="#333333" stroke-width="1.5"/>
<line x1="1109.32" y1="1440.08" x2="1121.46" y2="1440.08" stroke="#333333" stroke-width="1.5"/>
<rect x="1090.99" y="1432.03" width="18.33" height="15.8" fill="#E69F00" stroke="#333333" stroke-width="1.6"/>
<line x1="1103.13" y1="1432.03" x2="1103.13" y2="1447.83" stroke="#333333" stroke-width="3.2"/>
<line x1="1057.77" y1="1440.08" x2="1063.05" y2="1440.08" stroke="#333333" stroke-width="4.4" stroke-linecap="round" stroke-dasharray="0 2.63"/>
<line x1="1337.43" y1="1422.38" x2="1342.02" y2="1422.38" stroke="#FF0000" stroke-width="2.7"/>
<rect x="1335.83" y="1418.48" width="7.8" height="7.8" fill="#FF0000"/>
<line x1="1316.13" y1="1440.18" x2="1330.56" y2="1440.18" stroke="#FF0000" stroke-width="2.8" stroke-dasharray="2.8 2.8"/>
<circle cx="1323.23" cy="1440.18" r="4.4" fill="#FF0000"/>
<line x1="630.56" y1="1492.14" x2="668.36" y2="1492.14" stroke="#333333" stroke-width="1.5"/>
<line x1="696.32" y1="1492.14" x2="729.77" y2="1492.14" stroke="#333333" stroke-width="1.5"/>
<rect x="668.36" y="1484.39" width="27.95" height="15.8" fill="#00BFC4" stroke="#333333" stroke-width="1.6"/>
<line x1="684.4" y1="1484.39" x2="684.4" y2="1500.19" stroke="#333333" stroke-width="3.2"/>
<circle cx="603.75" cy="1492.14" r="2.25" fill="#333333"/>
<circle cx="610.17" cy="1492.14" r="2.25" fill="#333333"/>
<line x1="616.81" y1="1492.14" x2="626.45" y2="1492.14" stroke="#333333" stroke-width="4.4" stroke-linecap="round" stroke-dasharray="0 3.21"/>
<line x1="650.04" y1="1509.74" x2="679.36" y2="1509.74" stroke="#333333" stroke-width="1.5"/>
<line x1="700.44" y1="1509.74" x2="724.5" y2="1509.74" stroke="#333333" stroke-width="1.5"/>
<rect x="679.36" y="1501.69" width="21.08" height="15.8" fill="#E69F00" stroke="#333333" stroke-width="1.6"/>
<line x1="691.96" y1="1501.69" x2="691.96" y2="1517.49" stroke="#333333" stroke-width="3.2"/>
<circle cx="628.27" cy="1509.74" r="2.25" fill="#333333"/>
<circle cx="635.14" cy="1509.74" r="2.25" fill="#333333"/>
<line x1="640.87" y1="1509.74" x2="650.05" y2="1509.74" stroke="#333333" stroke-width="4.4" stroke-linecap="round" stroke-dasharray="0 3.05"/>
<line x1="997.74" y1="1492.14" x2="1043.11" y2="1492.14" stroke="#333333" stroke-width="1.5"/>
<line x1="1073.81" y1="1492.14" x2="1108.18" y2="1492.14" stroke="#333333" stroke-width="1.5"/>
<rect x="1043.11" y="1484.39" width="30.7" height="15.8" fill="#00BFC4" stroke="#333333" stroke-width="1.6"/>
<line x1="1061.44" y1="1484.39" x2="1061.44" y2="1500.19" stroke="#333333" stroke-width="3.2"/>
<line x1="989.73" y1="1492.14" x2="997.75" y2="1492.14" stroke="#333333" stroke-width="4.4" stroke-linecap="round" stroke-dasharray="0 2.67"/>
<line x1="1021.11" y1="1509.74" x2="1056.63" y2="1509.74" stroke="#333333" stroke-width="1.5"/>
<line x1="1082.51" y1="1509.74" x2="1108.86" y2="1509.74" stroke="#333333" stroke-width="1.5"/>
<rect x="1056.63" y="1501.69" width="25.89" height="15.8" fill="#E69F00" stroke="#333333" stroke-width="1.6"/>
<line x1="1072.2" y1="1501.69" x2="1072.2" y2="1517.49" stroke="#333333" stroke-width="3.2"/>
<circle cx="1005.08" cy="1509.74" r="2.25" fill="#333333"/>
<circle cx="1011.95" cy="1509.74" r="2.25" fill="#333333"/>
<line x1="1314.06" y1="1492.04" x2="1331.25" y2="1492.04" stroke="#FF0000" stroke-width="2.7"/>
<rect x="1318.64" y="1488.14" width="7.8" height="7.8" fill="#FF0000"/>
<line x1="1292.07" y1="1509.84" x2="1316.81" y2="1509.84" stroke="#FF0000" stroke-width="2.8" stroke-dasharray="2.8 2.8"/>
<circle cx="1304.9" cy="1509.84" r="4.4" fill="#FF0000"/>
<line x1="663.78" y1="1539.69" x2="691.27" y2="1539.69" stroke="#333333" stroke-width="1.5"/>
<line x1="710.29" y1="1539.69" x2="731.83" y2="1539.69" stroke="#333333" stroke-width="1.5"/>
<rect x="691.27" y="1531.94" width="19.02" height="15.8" fill="#00BFC4" stroke="#333333" stroke-width="1.6"/>
<line x1="702.73" y1="1531.94" x2="702.73" y2="1547.74" stroke="#333333" stroke-width="3.2"/>
<circle cx="468.35" cy="1539.69" r="2.25" fill="#333333"/>
<line x1="614.06" y1="1539.69" x2="620.26" y2="1539.69" stroke="#333333" stroke-width="4.4" stroke-linecap="round" stroke-dasharray="0 3.09"/>
<line x1="626.67" y1="1539.69" x2="663.79" y2="1539.69" stroke="#333333" stroke-width="4.4" stroke-linecap="round" stroke-dasharray="0 2.86"/>
<line x1="678.67" y1="1557.29" x2="699.29" y2="1557.29" stroke="#333333" stroke-width="1.5"/>
<line x1="713.04" y1="1557.29" x2="728.62" y2="1557.29" stroke="#333333" stroke-width="1.5"/>
<rect x="699.29" y="1549.24" width="13.75" height="15.8" fill="#E69F00" stroke="#333333" stroke-width="1.6"/>
<line x1="707.31" y1="1549.24" x2="707.31" y2="1565.04" stroke="#333333" stroke-width="3.2"/>
<circle cx="604.67" cy="1557.29" r="2.25" fill="#333333"/>
<circle cx="628.5" cy="1557.29" r="2.25" fill="#333333"/>
<circle cx="636.29" cy="1557.29" r="2.25" fill="#333333"/>
<circle cx="641.56" cy="1557.29" r="2.25" fill="#333333"/>
<line x1="651.18" y1="1557.29" x2="669.52" y2="1557.29" stroke="#333333" stroke-width="4.4" stroke-linecap="round" stroke-dasharray="0 3.05"/>
<line x1="672.95" y1="1557.29" x2="678.68" y2="1557.29" stroke="#333333" stroke-width="4.4" stroke-linecap="round" stroke-dasharray="0 2.86"/>
<line x1="983.54" y1="1539.69" x2="1030.96" y2="1539.69" stroke="#333333" stroke-width="1.5"/>
<line x1="1065.33" y1="1539.69" x2="1086.64" y2="1539.69" stroke="#333333" stroke-width="1.5"/>
<rect x="1030.96" y="1531.94" width="34.37" height="15.8" fill="#00BFC4" stroke="#333333" stroke-width="1.6"/>
<line x1="1051.13" y1="1531.94" x2="1051.13" y2="1547.74" stroke="#333333" stroke-width="3.2"/>
<circle cx="917.56" cy="1539.69" r="2.25" fill="#333333"/>
<circle cx="946.88" cy="1539.69" r="2.25" fill="#333333"/>
<line x1="956.5" y1="1539.69" x2="961.55" y2="1539.69" stroke="#333333" stroke-width="4.4" stroke-linecap="round" stroke-dasharray="0 2.52"/>
<circle cx="971.85" cy="1539.69" r="2.25" fill="#333333"/>
<line x1="1010.35" y1="1557.29" x2="1046.54" y2="1557.29" stroke="#333333" stroke-width="1.5"/>
<line x1="1071.52" y1="1557.29" x2="1089.39" y2="1557.29" stroke="#333333" stroke-width="1.5"/>
<rect x="1046.54" y="1549.24" width="24.97" height="15.8" fill="#E69F00" stroke="#333333" stroke-width="1.6"/>
<line x1="1063.04" y1="1549.24" x2="1063.04" y2="1565.04" stroke="#333333" stroke-width="3.2"/>
<circle cx="963.38" cy="1557.29" r="2.25" fill="#333333"/>
<line x1="988.12" y1="1557.29" x2="997.75" y2="1557.29" stroke="#333333" stroke-width="4.4" stroke-linecap="round" stroke-dasharray="0 3.21"/>
<line x1="1002.33" y1="1557.29" x2="1010.36" y2="1557.29" stroke="#333333" stroke-width="4.4" stroke-linecap="round" stroke-dasharray="0 2.67"/>
<line x1="1319.56" y1="1539.59" x2="1334.68" y2="1539.59" stroke="#FF0000" stroke-width="2.7"/>
<rect x="1323.22" y="1535.69" width="7.8" height="7.8" fill="#FF0000"/>
<line x1="1294.36" y1="1557.39" x2="1319.56" y2="1557.39" stroke="#FF0000" stroke-width="2.8" stroke-dasharray="2.8 2.8"/>
<circle cx="1307.19" cy="1557.39" r="4.4" fill="#FF0000"/>
<line x1="674.78" y1="1609.35" x2="712.58" y2="1609.35" stroke="#333333" stroke-width="1.5"/>
<line x1="739.39" y1="1609.35" x2="772.61" y2="1609.35" stroke="#333333" stroke-width="1.5"/>
<rect x="712.58" y="1601.6" width="26.81" height="15.8" fill="#00BFC4" stroke="#333333" stroke-width="1.6"/>
<line x1="727.25" y1="1601.6" x2="727.25" y2="1617.4" stroke="#333333" stroke-width="3.2"/>
<circle cx="618.65" cy="1609.35" r="2.25" fill="#333333"/>
<circle cx="656.22" cy="1609.35" r="2.25" fill="#333333"/>
<line x1="666.07" y1="1609.35" x2="671.81" y2="1609.35" stroke="#333333" stroke-width="4.4" stroke-linecap="round" stroke-dasharray="0 2.86"/>
<line x1="690.13" y1="1626.95" x2="721.75" y2="1626.95" stroke="#333333" stroke-width="1.5"/>
<line x1="747.41" y1="1626.95" x2="777.88" y2="1626.95" stroke="#333333" stroke-width="1.5"/>
<rect x="721.75" y="1618.9" width="25.66" height="15.8" fill="#E69F00" stroke="#333333" stroke-width="1.6"/>
<line x1="736.64" y1="1618.9" x2="736.64" y2="1634.7" stroke="#333333" stroke-width="3.2"/>
<circle cx="524.48" cy="1626.95" r="2.25" fill="#333333"/>
<circle cx="665.61" cy="1626.95" r="2.25" fill="#333333"/>
<circle cx="671.8" cy="1626.95" r="2.25" fill="#333333"/>
<circle cx="681.65" cy="1626.95" r="2.25" fill="#333333"/>
<line x1="1309.94" y1="1618.15" x2="1329.42" y2="1618.15" stroke="#FF0000" stroke-width="2.7"/>
<rect x="1315.89" y="1614.25" width="7.8" height="7.8" fill="#FF0000"/>
<line x1="718.77" y1="1656.9" x2="729.54" y2="1656.9" stroke="#333333" stroke-width="1.5"/>
<line x1="738.24" y1="1656.9" x2="749.7" y2="1656.9" stroke="#333333" stroke-width="1.5"/>
<rect x="729.54" y="1649.15" width="8.71" height="15.8" fill="#00BFC4" stroke="#333333" stroke-width="1.6"/>
<line x1="734.12" y1="1649.15" x2="734.12" y2="1664.95" stroke="#333333" stroke-width="3.2"/>
<circle cx="698.15" cy="1656.9" r="2.25" fill="#333333"/>
<line x1="708.46" y1="1656.9" x2="718.78" y2="1656.9" stroke="#333333" stroke-width="4.4" stroke-linecap="round" stroke-dasharray="0 2.58"/>
<line x1="749.7" y1="1656.9" x2="757.73" y2="1656.9" stroke="#333333" stroke-width="4.4" stroke-linecap="round" stroke-dasharray="0 2.67"/>
<circle cx="765.05" cy="1656.9" r="2.25" fill="#333333"/>
<line x1="719.91" y1="1674.5" x2="731.37" y2="1674.5" stroke="#333333" stroke-width="1.5"/>
<line x1="739.39" y1="1674.5" x2="749.7" y2="1674.5" stroke="#333333" stroke-width="1.5"/>
<rect x="731.37" y="1666.45" width="8.02" height="15.8" fill="#E69F00" stroke="#333333" stroke-width="1.6"/>
<line x1="735.49" y1="1666.45" x2="735.49" y2="1682.25" stroke="#333333" stroke-width="3.2"/>
<line x1="711.44" y1="1674.5" x2="718.32" y2="1674.5" stroke="#333333" stroke-width="4.4" stroke-linecap="round" stroke-dasharray="0 3.44"/>
<line x1="750.84" y1="1674.5" x2="756.58" y2="1674.5" stroke="#333333" stroke-width="4.4" stroke-linecap="round" stroke-dasharray="0 2.86"/>
<line x1="1040.13" y1="1656.9" x2="1065.33" y2="1656.9" stroke="#333333" stroke-width="1.5"/>
<line x1="1089.39" y1="1656.9" x2="1107.72" y2="1656.9" stroke="#333333" stroke-width="1.5"/>
<rect x="1065.33" y="1649.15" width="24.06" height="15.8" fill="#00BFC4" stroke="#333333" stroke-width="1.6"/>
<line x1="1080.22" y1="1649.15" x2="1080.22" y2="1664.95" stroke="#333333" stroke-width="3.2"/>
<line x1="1050.9" y1="1674.5" x2="1076.33" y2="1674.5" stroke="#333333" stroke-width="1.5"/>
<line x1="1094.43" y1="1674.5" x2="1109.55" y2="1674.5" stroke="#333333" stroke-width="1.5"/>
<rect x="1076.33" y="1666.45" width="18.1" height="15.8" fill="#E69F00" stroke="#333333" stroke-width="1.6"/>
<line x1="1087.1" y1="1666.45" x2="1087.1" y2="1682.25" stroke="#333333" stroke-width="3.2"/>
<circle cx="1043.57" cy="1674.5" r="2.25" fill="#333333"/>
<line x1="1335.83" y1="1656.8" x2="1341.33" y2="1656.8" stroke="#FF0000" stroke-width="2.7"/>
<rect x="1334.68" y="1652.9" width="7.8" height="7.8" fill="#FF0000"/>
<line x1="1315.21" y1="1674.6" x2="1328.96" y2="1674.6" stroke="#FF0000" stroke-width="2.8" stroke-dasharray="2.8 2.8"/>
<circle cx="1322.54" cy="1674.6" r="4.4" fill="#FF0000"/>
<line x1="568.24" y1="1726.56" x2="655.76" y2="1726.56" stroke="#333333" stroke-width="1.5"/>
<rect x="467.89" y="1718.81" width="100.35" height="15.8" fill="#00BFC4" stroke="#333333" stroke-width="1.6"/>
<line x1="467.89" y1="1718.81" x2="467.89" y2="1734.61" stroke="#333333" stroke-width="3.2"/>
<line x1="467.89" y1="1736.91" x2="467.89" y2="1751.11" stroke="#333333" stroke-width="3.3" stroke-linecap="round"/>
<circle cx="534.33" cy="1744.16" r="2.25" fill="#333333"/>
<line x1="540.06" y1="1744.16" x2="544.65" y2="1744.16" stroke="#333333" stroke-width="4.4" stroke-linecap="round" stroke-dasharray="0 2.29"/>
<line x1="554.95" y1="1744.16" x2="574.44" y2="1744.16" stroke="#333333" stroke-width="4.4" stroke-linecap="round" stroke-dasharray="0 2.78"/>
<line x1="576.72" y1="1744.16" x2="599.64" y2="1744.16" stroke="#333333" stroke-width="4.4" stroke-linecap="round" stroke-dasharray="0 2.86"/>
<circle cx="602.38" cy="1744.16" r="2.25" fill="#333333"/>
<line x1="613.38" y1="1744.16" x2="617.97" y2="1744.16" stroke="#333333" stroke-width="4.4" stroke-linecap="round" stroke-dasharray="0 2.29"/>
<line x1="620.25" y1="1744.16" x2="628.28" y2="1744.16" stroke="#333333" stroke-width="4.4" stroke-linecap="round" stroke-dasharray="0 2.67"/>
<circle cx="644.54" cy="1744.16" r="2.25" fill="#333333"/>
<line x1="818.58" y1="1726.56" x2="889.37" y2="1726.56" stroke="#333333" stroke-width="1.5"/>
<line x1="958.8" y1="1726.56" x2="1044.71" y2="1726.56" stroke="#333333" stroke-width="1.5"/>
<rect x="889.37" y="1718.81" width="69.42" height="15.8" fill="#00BFC4" stroke="#333333" stroke-width="1.6"/>
<line x1="899.91" y1="1718.81" x2="899.91" y2="1734.61" stroke="#333333" stroke-width="3.2"/>
<line x1="863.71" y1="1744.16" x2="892.35" y2="1744.16" stroke="#333333" stroke-width="1.5"/>
<line x1="910.68" y1="1744.16" x2="918.7" y2="1744.16" stroke="#333333" stroke-width="1.5"/>
<rect x="892.35" y="1736.11" width="18.33" height="15.8" fill="#E69F00" stroke="#333333" stroke-width="1.6"/>
<line x1="901.52" y1="1736.11" x2="901.52" y2="1751.91" stroke="#333333" stroke-width="3.2"/>
<line x1="848.13" y1="1744.16" x2="863.72" y2="1744.16" stroke="#333333" stroke-width="4.4" stroke-linecap="round" stroke-dasharray="0 3.12"/>
<circle cx="940.47" cy="1744.16" r="2.25" fill="#333333"/>
<line x1="947.8" y1="1744.16" x2="953.54" y2="1744.16" stroke="#333333" stroke-width="4.4" stroke-linecap="round" stroke-dasharray="0 2.86"/>
<line x1="958.8" y1="1744.16" x2="990.88" y2="1744.16" stroke="#333333" stroke-width="4.4" stroke-linecap="round" stroke-dasharray="0 2.92"/>
<line x1="998.89" y1="1744.16" x2="1013.79" y2="1744.16" stroke="#333333" stroke-width="4.4" stroke-linecap="round" stroke-dasharray="0 2.98"/>
<line x1="1357.6" y1="1726.46" x2="1391.73" y2="1726.46" stroke="#0000FF" stroke-width="2.7"/>
<rect x="1368.59" y="1722.56" width="7.8" height="7.8" fill="#0000FF"/>
<line x1="1350.04" y1="1744.26" x2="1386.69" y2="1744.26" stroke="#0000FF" stroke-width="2.8" stroke-dasharray="2.8 2.8"/>
<circle cx="1365.39" cy="1744.26" r="4.4" fill="#0000FF"/>
<line x1="644.99" y1="1796.22" x2="732.06" y2="1796.22" stroke="#333333" stroke-width="1.5"/>
<rect x="467.89" y="1788.47" width="177.1" height="15.8" fill="#00BFC4" stroke="#333333" stroke-width="1.6"/>
<line x1="467.89" y1="1788.47" x2="467.89" y2="1804.27" stroke="#333333" stroke-width="3.2"/>
<line x1="600.32" y1="1813.82" x2="738.01" y2="1813.82" stroke="#333333" stroke-width="1.5"/>
<rect x="467.89" y="1805.77" width="132.43" height="15.8" fill="#E69F00" stroke="#333333" stroke-width="1.6"/>
<line x1="467.89" y1="1805.77" x2="467.89" y2="1821.57" stroke="#333333" stroke-width="3.2"/>
<line x1="866.69" y1="1796.22" x2="900.37" y2="1796.22" stroke="#333333" stroke-width="1.5"/>
<line x1="993.16" y1="1796.22" x2="1045.4" y2="1796.22" stroke="#333333" stroke-width="1.5"/>
<rect x="900.37" y="1788.47" width="92.79" height="15.8" fill="#00BFC4" stroke="#333333" stroke-width="1.6"/>
<line x1="910.68" y1="1788.47" x2="910.68" y2="1804.27" stroke="#333333" stroke-width="3.2"/>
<line x1="861.88" y1="1813.82" x2="899.91" y2="1813.82" stroke="#333333" stroke-width="1.5"/>
<line x1="965.67" y1="1813.82" x2="1052.04" y2="1813.82" stroke="#333333" stroke-width="1.5"/>
<rect x="899.91" y="1805.77" width="65.75" height="15.8" fill="#E69F00" stroke="#333333" stroke-width="1.6"/>
<line x1="909.08" y1="1805.77" x2="909.08" y2="1821.57" stroke="#333333" stroke-width="3.2"/>
<line x1="1358.74" y1="1796.12" x2="1428.62" y2="1796.12" stroke="#0000FF" stroke-width="2.7"/>
<rect x="1383.94" y="1792.22" width="7.8" height="7.8" fill="#0000FF"/>
<line x1="1351.18" y1="1813.92" x2="1408.46" y2="1813.92" stroke="#0000FF" stroke-width="2.8" stroke-dasharray="2.8 2.8"/>
<circle cx="1375.24" cy="1813.92" r="4.4" fill="#0000FF"/>
<line x1="597.34" y1="1843.77" x2="686.01" y2="1843.77" stroke="#333333" stroke-width="1.5"/>
<rect x="467.89" y="1836.02" width="129.45" height="15.8" fill="#00BFC4" stroke="#333333" stroke-width="1.6"/>
<line x1="467.89" y1="1836.02" x2="467.89" y2="1851.82" stroke="#333333" stroke-width="3.2"/>
<line x1="467.89" y1="1854.12" x2="467.89" y2="1868.32" stroke="#333333" stroke-width="3.3" stroke-linecap="round"/>
<line x1="585.88" y1="1861.37" x2="596.2" y2="1861.37" stroke="#333333" stroke-width="4.4" stroke-linecap="round" stroke-dasharray="0 2.58"/>
<line x1="600.78" y1="1861.37" x2="616.82" y2="1861.37" stroke="#333333" stroke-width="4.4" stroke-linecap="round" stroke-dasharray="0 2.67"/>
<line x1="619.56" y1="1861.37" x2="635.15" y2="1861.37" stroke="#333333" stroke-width="4.4" stroke-linecap="round" stroke-dasharray="0 3.12"/>
<line x1="640.41" y1="1861.37" x2="671.81" y2="1861.37" stroke="#333333" stroke-width="4.4" stroke-linecap="round" stroke-dasharray="0 2.85"/>
<circle cx="685.55" cy="1861.37" r="2.25" fill="#333333"/>
<line x1="840.35" y1="1843.77" x2="892.35" y2="1843.77" stroke="#333333" stroke-width="1.5"/>
<line x1="950.09" y1="1843.77" x2="1020.65" y2="1843.77" stroke="#333333" stroke-width="1.5"/>
<rect x="892.35" y="1836.02" width="57.74" height="15.8" fill="#00BFC4" stroke="#333333" stroke-width="1.6"/>
<line x1="902.2" y1="1836.02" x2="902.2" y2="1851.82" stroke="#333333" stroke-width="3.2"/>
<circle cx="1042.88" cy="1843.77" r="2.25" fill="#333333"/>
<line x1="860.96" y1="1861.37" x2="892.81" y2="1861.37" stroke="#333333" stroke-width="1.5"/>
<line x1="915.26" y1="1861.37" x2="923.28" y2="1861.37" stroke="#333333" stroke-width="1.5"/>
<rect x="892.81" y="1853.32" width="22.45" height="15.8" fill="#E69F00" stroke="#333333" stroke-width="1.6"/>
<line x1="903.81" y1="1853.32" x2="903.81" y2="1869.12" stroke="#333333" stroke-width="3.2"/>
<circle cx="838.97" cy="1861.37" r="2.25" fill="#333333"/>
<line x1="844.24" y1="1861.37" x2="858" y2="1861.37" stroke="#333333" stroke-width="4.4" stroke-linecap="round" stroke-dasharray="0 2.75"/>
<line x1="951.46" y1="1861.37" x2="1004.63" y2="1861.37" stroke="#333333" stroke-width="4.4" stroke-linecap="round" stroke-dasharray="0 2.95"/>
<line x1="1013.32" y1="1861.37" x2="1017.23" y2="1861.37" stroke="#333333" stroke-width="4.4" stroke-linecap="round" stroke-dasharray="0 3.89"/>
<line x1="1349.35" y1="1843.67" x2="1374.55" y2="1843.67" stroke="#0000FF" stroke-width="2.7"/>
<rect x="1356.9" y="1839.77" width="7.8" height="7.8" fill="#0000FF"/>
<line x1="1344.99" y1="1861.47" x2="1381.65" y2="1861.47" stroke="#0000FF" stroke-width="2.8" stroke-dasharray="2.8 2.8"/>
<circle cx="1360.35" cy="1861.47" r="4.4" fill="#0000FF"/>
<line x1="627.81" y1="1913.43" x2="708.46" y2="1913.43" stroke="#333333" stroke-width="1.5"/>
<rect x="467.89" y="1905.68" width="159.92" height="15.8" fill="#00BFC4" stroke="#333333" stroke-width="1.6"/>
<line x1="585.2" y1="1905.68" x2="585.2" y2="1921.48" stroke="#333333" stroke-width="3.2"/>
<line x1="609.48" y1="1931.03" x2="689.67" y2="1931.03" stroke="#333333" stroke-width="1.5"/>
<rect x="467.89" y="1922.98" width="141.59" height="15.8" fill="#E69F00" stroke="#333333" stroke-width="1.6"/>
<line x1="565.72" y1="1922.98" x2="565.72" y2="1938.78" stroke="#333333" stroke-width="3.2"/>
<line x1="867.61" y1="1913.43" x2="904.5" y2="1913.43" stroke="#333333" stroke-width="1.5"/>
<line x1="1006.22" y1="1913.43" x2="1096.26" y2="1913.43" stroke="#333333" stroke-width="1.5"/>
<rect x="904.5" y="1905.68" width="101.73" height="15.8" fill="#00BFC4" stroke="#333333" stroke-width="1.6"/>
<line x1="974.37" y1="1905.68" x2="974.37" y2="1921.48" stroke="#333333" stroke-width="3.2"/>
<line x1="877.92" y1="1931.03" x2="903.81" y2="1931.03" stroke="#333333" stroke-width="1.5"/>
<line x1="997.29" y1="1931.03" x2="1072.66" y2="1931.03" stroke="#333333" stroke-width="1.5"/>
<rect x="903.81" y="1922.98" width="93.48" height="15.8" fill="#E69F00" stroke="#333333" stroke-width="1.6"/>
<line x1="961.09" y1="1922.98" x2="961.09" y2="1938.78" stroke="#333333" stroke-width="3.2"/>
<line x1="1362.64" y1="1913.33" x2="1456.57" y2="1913.33" stroke="#0000FF" stroke-width="2.7"/>
<rect x="1396.08" y="1909.43" width="7.8" height="7.8" fill="#0000FF"/>
<line x1="1348.89" y1="1931.13" x2="1411.89" y2="1931.13" stroke="#0000FF" stroke-width="2.8" stroke-dasharray="2.8 2.8"/>
<circle cx="1374.55" cy="1931.13" r="4.4" fill="#0000FF"/>
<line x1="568.24" y1="1983.09" x2="643.16" y2="1983.09" stroke="#333333" stroke-width="1.5"/>
<line x1="705.48" y1="1983.09" x2="765.05" y2="1983.09" stroke="#333333" stroke-width="1.5"/>
<rect x="643.16" y="1975.34" width="62.32" height="15.8" fill="#00BFC4" stroke="#333333" stroke-width="1.6"/>
<line x1="677.99" y1="1975.34" x2="677.99" y2="1991.14" stroke="#333333" stroke-width="3.2"/>
<circle cx="468.35" cy="1983.09" r="2.25" fill="#333333"/>
<line x1="569.16" y1="2000.69" x2="616.13" y2="2000.69" stroke="#333333" stroke-width="1.5"/>
<line x1="689.67" y1="2000.69" x2="734.35" y2="2000.69" stroke="#333333" stroke-width="1.5"/>
<rect x="616.13" y="1992.64" width="73.54" height="15.8" fill="#E69F00" stroke="#333333" stroke-width="1.6"/>
<line x1="662.64" y1="1992.64" x2="662.64" y2="2008.44" stroke="#333333" stroke-width="3.2"/>
<circle cx="468.35" cy="2000.69" r="2.25" fill="#333333"/>
<line x1="948.03" y1="1983.09" x2="1002.78" y2="1983.09" stroke="#333333" stroke-width="1.5"/>
<line x1="1046.54" y1="1983.09" x2="1104.28" y2="1983.09" stroke="#333333" stroke-width="1.5"/>
<rect x="1002.78" y="1975.34" width="43.76" height="15.8" fill="#00BFC4" stroke="#333333" stroke-width="1.6"/>
<line x1="1026.38" y1="1975.34" x2="1026.38" y2="1991.14" stroke="#333333" stroke-width="3.2"/>
<line x1="887.08" y1="1983.09" x2="931.31" y2="1983.09" stroke="#333333" stroke-width="4.4" stroke-linecap="round" stroke-dasharray="0 2.95"/>
<circle cx="1115.05" cy="1983.09" r="2.25" fill="#333333"/>
<line x1="897.62" y1="2000.69" x2="984" y2="2000.69" stroke="#333333" stroke-width="1.5"/>
<line x1="1041.27" y1="2000.69" x2="1084.81" y2="2000.69" stroke="#333333" stroke-width="1.5"/>
<rect x="984" y="1992.64" width="57.28" height="15.8" fill="#E69F00" stroke="#333333" stroke-width="1.6"/>
<line x1="1017.22" y1="1992.64" x2="1017.22" y2="2008.44" stroke="#333333" stroke-width="3.2"/>
<line x1="894.19" y1="2000.69" x2="897.63" y2="2000.69" stroke="#333333" stroke-width="4.4" stroke-linecap="round" stroke-dasharray="0 3.44"/>
<line x1="1371.8" y1="1982.99" x2="1441.68" y2="1982.99" stroke="#0000FF" stroke-width="2.7"/>
<rect x="1397.23" y="1979.09" width="7.8" height="7.8" fill="#0000FF"/>
<line x1="1356.22" y1="2000.79" x2="1418.77" y2="2000.79" stroke="#0000FF" stroke-width="2.8" stroke-dasharray="2.8 2.8"/>
<circle cx="1382.11" cy="2000.79" r="4.4" fill="#0000FF"/>
<line x1="568.7" y1="2030.64" x2="686.01" y2="2030.64" stroke="#333333" stroke-width="1.5"/>
<rect x="467.89" y="2022.89" width="100.81" height="15.8" fill="#00BFC4" stroke="#333333" stroke-width="1.6"/>
<line x1="467.89" y1="2022.89" x2="467.89" y2="2038.69" stroke="#333333" stroke-width="3.2"/>
<line x1="467.89" y1="2040.99" x2="467.89" y2="2055.19" stroke="#333333" stroke-width="3.3" stroke-linecap="round"/>
<circle cx="490.35" cy="2048.24" r="2.25" fill="#333333"/>
<circle cx="514.86" cy="2048.24" r="2.25" fill="#333333"/>
<line x1="520.59" y1="2048.24" x2="526.33" y2="2048.24" stroke="#333333" stroke-width="4.4" stroke-linecap="round" stroke-dasharray="0 2.86"/>
<line x1="529.75" y1="2048.24" x2="543.51" y2="2048.24" stroke="#333333" stroke-width="4.4" stroke-linecap="round" stroke-dasharray="0 2.75"/>
<line x1="548.08" y1="2048.24" x2="552.67" y2="2048.24" stroke="#333333" stroke-width="4.4" stroke-linecap="round" stroke-dasharray="0 2.29"/>
<line x1="558.85" y1="2048.24" x2="590.48" y2="2048.24" stroke="#333333" stroke-width="4.4" stroke-linecap="round" stroke-dasharray="0 2.87"/>
<line x1="593.9" y1="2048.24" x2="604.22" y2="2048.24" stroke="#333333" stroke-width="4.4" stroke-linecap="round" stroke-dasharray="0 2.58"/>
<line x1="608.8" y1="2048.24" x2="631.72" y2="2048.24" stroke="#333333" stroke-width="4.4" stroke-linecap="round" stroke-dasharray="0 2.86"/>
<line x1="640.41" y1="2048.24" x2="651.19" y2="2048.24" stroke="#333333" stroke-width="4.4" stroke-linecap="round" stroke-dasharray="0 2.69"/>
<circle cx="658.05" cy="2048.24" r="2.25" fill="#333333"/>
<circle cx="667.68" cy="2048.24" r="2.25" fill="#333333"/>
<line x1="867.84" y1="2030.64" x2="896.48" y2="2030.64" stroke="#333333" stroke-width="1.5"/>
<line x1="955.36" y1="2030.64" x2="1027.53" y2="2030.64" stroke="#333333" stroke-width="1.5"/>
<rect x="896.48" y="2022.89" width="58.88" height="15.8" fill="#00BFC4" stroke="#333333" stroke-width="1.6"/>
<line x1="904.95" y1="2022.89" x2="904.95" y2="2038.69" stroke="#333333" stroke-width="3.2"/>
<line x1="874.48" y1="2048.24" x2="896.48" y2="2048.24" stroke="#333333" stroke-width="1.5"/>
<line x1="915.26" y1="2048.24" x2="940.47" y2="2048.24" stroke="#333333" stroke-width="1.5"/>
<rect x="896.48" y="2040.19" width="18.79" height="15.8" fill="#E69F00" stroke="#333333" stroke-width="1.6"/>
<line x1="904.27" y1="2040.19" x2="904.27" y2="2055.99" stroke="#333333" stroke-width="3.2"/>
<circle cx="844.24" cy="2048.24" r="2.25" fill="#333333"/>
<line x1="943.9" y1="2048.24" x2="972.55" y2="2048.24" stroke="#333333" stroke-width="4.4" stroke-linecap="round" stroke-dasharray="0 2.86"/>
<line x1="975.29" y1="2048.24" x2="1002.34" y2="2048.24" stroke="#333333" stroke-width="4.4" stroke-linecap="round" stroke-dasharray="0 3"/>
<line x1="1009.2" y1="2048.24" x2="1017.23" y2="2048.24" stroke="#333333" stroke-width="4.4" stroke-linecap="round" stroke-dasharray="0 2.67"/>
<circle cx="1027.99" cy="2048.24" r="2.25" fill="#333333"/>
<line x1="1362.64" y1="2030.54" x2="1430.91" y2="2030.54" stroke="#0000FF" stroke-width="2.7"/>
<rect x="1387.37" y="2026.64" width="7.8" height="7.8" fill="#0000FF"/>
<line x1="1351.18" y1="2048.34" x2="1382.11" y2="2048.34" stroke="#0000FF" stroke-width="2.8" stroke-dasharray="2.8 2.8"/>
<circle cx="1363.78" cy="2048.34" r="4.4" fill="#0000FF"/>
<line x1="575.12" y1="2078.19" x2="659.89" y2="2078.19" stroke="#333333" stroke-width="1.5"/>
<rect x="467.89" y="2070.44" width="107.22" height="15.8" fill="#00BFC4" stroke="#333333" stroke-width="1.6"/>
<line x1="467.89" y1="2070.44" x2="467.89" y2="2086.24" stroke="#333333" stroke-width="3.2"/>
<line x1="524.02" y1="2095.79" x2="605.36" y2="2095.79" stroke="#333333" stroke-width="1.5"/>
<rect x="467.89" y="2087.74" width="56.13" height="15.8" fill="#E69F00" stroke="#333333" stroke-width="1.6"/>
<line x1="467.89" y1="2087.74" x2="467.89" y2="2103.54" stroke="#333333" stroke-width="3.2"/>
<line x1="605.36" y1="2095.79" x2="629.43" y2="2095.79" stroke="#333333" stroke-width="4.4" stroke-linecap="round" stroke-dasharray="0 3.01"/>
<circle cx="634" cy="2095.79" r="2.25" fill="#333333"/>
<circle cx="639.73" cy="2095.79" r="2.25" fill="#333333"/>
<circle cx="645.45" cy="2095.79" r="2.25" fill="#333333"/>
<circle cx="655.76" cy="2095.79" r="2.25" fill="#333333"/>
<line x1="880.44" y1="2078.19" x2="898.54" y2="2078.19" stroke="#333333" stroke-width="1.5"/>
<line x1="956.05" y1="2078.19" x2="1038.98" y2="2078.19" stroke="#333333" stroke-width="1.5"/>
<rect x="898.54" y="2070.44" width="57.51" height="15.8" fill="#00BFC4" stroke="#333333" stroke-width="1.6"/>
<line x1="907.25" y1="2070.44" x2="907.25" y2="2086.24" stroke="#333333" stroke-width="3.2"/>
<line x1="874.48" y1="2095.79" x2="898.77" y2="2095.79" stroke="#333333" stroke-width="1.5"/>
<line x1="930.61" y1="2095.79" x2="978.27" y2="2095.79" stroke="#333333" stroke-width="1.5"/>
<rect x="898.77" y="2087.74" width="31.85" height="15.8" fill="#E69F00" stroke="#333333" stroke-width="1.6"/>
<line x1="906.56" y1="2087.74" x2="906.56" y2="2103.54" stroke="#333333" stroke-width="3.2"/>
<line x1="978.27" y1="2095.79" x2="986.3" y2="2095.79" stroke="#333333" stroke-width="4.4" stroke-linecap="round" stroke-dasharray="0 2.67"/>
<line x1="990.87" y1="2095.79" x2="1003.48" y2="2095.79" stroke="#333333" stroke-width="4.4" stroke-linecap="round" stroke-dasharray="0 3.15"/>
<line x1="1006.91" y1="2095.79" x2="1014.94" y2="2095.79" stroke="#333333" stroke-width="4.4" stroke-linecap="round" stroke-dasharray="0 2.67"/>
<line x1="1362.18" y1="2078.09" x2="1424.04" y2="2078.09" stroke="#0000FF" stroke-width="2.7"/>
<rect x="1384.4" y="2074.19" width="7.8" height="7.8" fill="#0000FF"/>
<line x1="1353.01" y1="2095.89" x2="1383.71" y2="2095.89" stroke="#0000FF" stroke-width="2.8" stroke-dasharray="2.8 2.8"/>
<circle cx="1365.39" cy="2095.89" r="4.4" fill="#0000FF"/>
<line x1="561.37" y1="2147.85" x2="675.92" y2="2147.85" stroke="#333333" stroke-width="1.5"/>
<rect x="467.89" y="2140.1" width="93.48" height="15.8" fill="#00BFC4" stroke="#333333" stroke-width="1.6"/>
<line x1="467.89" y1="2140.1" x2="467.89" y2="2155.9" stroke="#333333" stroke-width="3.2"/>
<line x1="467.89" y1="2158.2" x2="467.89" y2="2172.4" stroke="#333333" stroke-width="3.3" stroke-linecap="round"/>
<line x1="491.95" y1="2165.45" x2="495.4" y2="2165.45" stroke="#333333" stroke-width="4.4" stroke-linecap="round" stroke-dasharray="0 3.44"/>
<line x1="519.44" y1="2165.45" x2="536.64" y2="2165.45" stroke="#333333" stroke-width="4.4" stroke-linecap="round" stroke-dasharray="0 2.86"/>
<line x1="543.5" y1="2165.45" x2="553.82" y2="2165.45" stroke="#333333" stroke-width="4.4" stroke-linecap="round" stroke-dasharray="0 2.58"/>
<circle cx="558.85" cy="2165.45" r="2.25" fill="#333333"/>
<line x1="572.6" y1="2165.45" x2="599.64" y2="2165.45" stroke="#333333" stroke-width="4.4" stroke-linecap="round" stroke-dasharray="0 3"/>
<line x1="606.05" y1="2165.45" x2="636.3" y2="2165.45" stroke="#333333" stroke-width="4.4" stroke-linecap="round" stroke-dasharray="0 3.02"/>
<circle cx="640.87" cy="2165.45" r="2.25" fill="#333333"/>
<line x1="648.89" y1="2165.45" x2="652.34" y2="2165.45" stroke="#333333" stroke-width="4.4" stroke-linecap="round" stroke-dasharray="0 3.44"/>
<line x1="659.2" y1="2165.45" x2="663.79" y2="2165.45" stroke="#333333" stroke-width="4.4" stroke-linecap="round" stroke-dasharray="0 2.29"/>
<circle cx="670.2" cy="2165.45" r="2.25" fill="#333333"/>
<line x1="874.48" y1="2147.85" x2="895.79" y2="2147.85" stroke="#333333" stroke-width="1.5"/>
<line x1="949.17" y1="2147.85" x2="1019.05" y2="2147.85" stroke="#333333" stroke-width="1.5"/>
<rect x="895.79" y="2140.1" width="53.38" height="15.8" fill="#00BFC4" stroke="#333333" stroke-width="1.6"/>
<line x1="903.12" y1="2140.1" x2="903.12" y2="2155.9" stroke="#333333" stroke-width="3.2"/>
<circle cx="1036.69" cy="2147.85" r="2.25" fill="#333333"/>
<line x1="874.48" y1="2165.45" x2="895.79" y2="2165.45" stroke="#333333" stroke-width="1.5"/>
<line x1="911.83" y1="2165.45" x2="932.45" y2="2165.45" stroke="#333333" stroke-width="1.5"/>
<rect x="895.79" y="2157.4" width="16.04" height="15.8" fill="#E69F00" stroke="#333333" stroke-width="1.6"/>
<line x1="903.81" y1="2157.4" x2="903.81" y2="2173.2" stroke="#333333" stroke-width="3.2"/>
<circle cx="844.24" cy="2165.45" r="2.25" fill="#333333"/>
<line x1="936.57" y1="2165.45" x2="994.32" y2="2165.45" stroke="#333333" stroke-width="4.4" stroke-linecap="round" stroke-dasharray="0 2.89"/>
<line x1="998.89" y1="2165.45" x2="1004.17" y2="2165.45" stroke="#333333" stroke-width="4.4" stroke-linecap="round" stroke-dasharray="0 2.63"/>
<circle cx="1010.35" cy="2165.45" r="2.25" fill="#333333"/>
<line x1="1018.36" y1="2165.45" x2="1024.1" y2="2165.45" stroke="#333333" stroke-width="4.4" stroke-linecap="round" stroke-dasharray="0 2.86"/>
<circle cx="1030.28" cy="2165.45" r="2.25" fill="#333333"/>
<line x1="1359.2" y1="2147.75" x2="1421.75" y2="2147.75" stroke="#0000FF" stroke-width="2.7"/>
<rect x="1381.19" y="2143.85" width="7.8" height="7.8" fill="#0000FF"/>
<line x1="1348.2" y1="2165.55" x2="1379.13" y2="2165.55" stroke="#0000FF" stroke-width="2.8" stroke-dasharray="2.8 2.8"/>
<circle cx="1361.03" cy="2165.55" r="4.4" fill="#0000FF"/>
<line x1="535.94" y1="2195.4" x2="634.68" y2="2195.4" stroke="#333333" stroke-width="1.5"/>
<rect x="467.89" y="2187.65" width="68.05" height="15.8" fill="#00BFC4" stroke="#333333" stroke-width="1.6"/>
<line x1="467.89" y1="2187.65" x2="467.89" y2="2203.45" stroke="#333333" stroke-width="3.2"/>
<circle cx="638.12" cy="2195.4" r="2.25" fill="#333333"/>
<line x1="643.85" y1="2195.4" x2="658.06" y2="2195.4" stroke="#333333" stroke-width="4.4" stroke-linecap="round" stroke-dasharray="0 2.84"/>
<circle cx="661.95" cy="2195.4" r="2.25" fill="#333333"/>
<circle cx="668.36" cy="2195.4" r="2.25" fill="#333333"/>
<line x1="467.89" y1="2205.75" x2="467.89" y2="2219.95" stroke="#333333" stroke-width="3.3" stroke-linecap="round"/>
<circle cx="519.9" cy="2213" r="2.25" fill="#333333"/>
<line x1="543.5" y1="2213" x2="579.02" y2="2213" stroke="#333333" stroke-width="4.4" stroke-linecap="round" stroke-dasharray="0 2.96"/>
<line x1="587.49" y1="2213" x2="608.81" y2="2213" stroke="#333333" stroke-width="4.4" stroke-linecap="round" stroke-dasharray="0 3.04"/>
<line x1="616.13" y1="2213" x2="641.34" y2="2213" stroke="#333333" stroke-width="4.4" stroke-linecap="round" stroke-dasharray="0 2.8"/>
<line x1="655.76" y1="2213" x2="661.96" y2="2213" stroke="#333333" stroke-width="4.4" stroke-linecap="round" stroke-dasharray="0 3.09"/>
<circle cx="674.09" cy="2213" r="2.25" fill="#333333"/>
<line x1="867.84" y1="2195.4" x2="894.19" y2="2195.4" stroke="#333333" stroke-width="1.5"/>
<line x1="924.43" y1="2195.4" x2="969.56" y2="2195.4" stroke="#333333" stroke-width="1.5"/>
<rect x="894.19" y="2187.65" width="30.24" height="15.8" fill="#00BFC4" stroke="#333333" stroke-width="1.6"/>
<line x1="900.37" y1="2187.65" x2="900.37" y2="2203.45" stroke="#333333" stroke-width="3.2"/>
<circle cx="818.35" cy="2195.4" r="2.25" fill="#333333"/>
<line x1="969.56" y1="2195.4" x2="1007.61" y2="2195.4" stroke="#333333" stroke-width="4.4" stroke-linecap="round" stroke-dasharray="0 2.93"/>
<circle cx="1012.64" cy="2195.4" r="2.25" fill="#333333"/>
<line x1="869.44" y1="2213" x2="894.19" y2="2213" stroke="#333333" stroke-width="1.5"/>
<line x1="910.22" y1="2213" x2="926.26" y2="2213" stroke="#333333" stroke-width="1.5"/>
<rect x="894.19" y="2204.95" width="16.04" height="15.8" fill="#E69F00" stroke="#333333" stroke-width="1.6"/>
<line x1="903.35" y1="2204.95" x2="903.35" y2="2220.75" stroke="#333333" stroke-width="3.2"/>
<circle cx="844.24" cy="2213" r="2.25" fill="#333333"/>
<circle cx="854.55" cy="2213" r="2.25" fill="#333333"/>
<circle cx="869.44" cy="2213" r="2.25" fill="#333333"/>
<line x1="947.34" y1="2213" x2="980.57" y2="2213" stroke="#333333" stroke-width="4.4" stroke-linecap="round" stroke-dasharray="0 3.02"/>
<circle cx="986.75" cy="2213" r="2.25" fill="#333333"/>
<circle cx="992.47" cy="2213" r="2.25" fill="#333333"/>
<line x1="997.74" y1="2213" x2="1001.19" y2="2213" stroke="#333333" stroke-width="4.4" stroke-linecap="round" stroke-dasharray="0 3.44"/>
<circle cx="1017.68" cy="2213" r="2.25" fill="#333333"/>
<circle cx="1033.71" cy="2213" r="2.25" fill="#333333"/>
<line x1="1351.87" y1="2195.3" x2="1403.88" y2="2195.3" stroke="#0000FF" stroke-width="2.7"/>
<rect x="1370.19" y="2191.4" width="7.8" height="7.8" fill="#0000FF"/>
<line x1="1342.7" y1="2213.1" x2="1368.36" y2="2213.1" stroke="#0000FF" stroke-width="2.8" stroke-dasharray="2.8 2.8"/>
<circle cx="1353.47" cy="2213.1" r="4.4" fill="#0000FF"/>
<line x1="467.89" y1="2236" x2="467.89" y2="2250.2" stroke="#333333" stroke-width="3.3" stroke-linecap="round"/>
<line x1="519.44" y1="2242.95" x2="526.33" y2="2242.95" stroke="#333333" stroke-width="4.4" stroke-linecap="round" stroke-dasharray="0 3.44"/>
<line x1="534.79" y1="2242.95" x2="679.83" y2="2242.95" stroke="#333333" stroke-width="4.4" stroke-linecap="round" stroke-dasharray="0 2.9"/>
<line x1="467.89" y1="2253.3" x2="467.89" y2="2267.5" stroke="#333333" stroke-width="3.3" stroke-linecap="round"/>
<circle cx="502.49" cy="2260.55" r="2.25" fill="#333333"/>
<line x1="541.21" y1="2260.55" x2="577.88" y2="2260.55" stroke="#333333" stroke-width="4.4" stroke-linecap="round" stroke-dasharray="0 2.82"/>
<line x1="587.49" y1="2260.55" x2="618.43" y2="2260.55" stroke="#333333" stroke-width="4.4" stroke-linecap="round" stroke-dasharray="0 2.81"/>
<line x1="628.27" y1="2260.55" x2="632.86" y2="2260.55" stroke="#333333" stroke-width="4.4" stroke-linecap="round" stroke-dasharray="0 2.29"/>
<line x1="639.27" y1="2260.55" x2="650.05" y2="2260.55" stroke="#333333" stroke-width="4.4" stroke-linecap="round" stroke-dasharray="0 2.69"/>
<line x1="655.76" y1="2260.55" x2="661.5" y2="2260.55" stroke="#333333" stroke-width="4.4" stroke-linecap="round" stroke-dasharray="0 2.86"/>
<circle cx="676.84" cy="2260.55" r="2.25" fill="#333333"/>
<line x1="863.71" y1="2242.95" x2="893.96" y2="2242.95" stroke="#333333" stroke-width="1.5"/>
<line x1="917.56" y1="2242.95" x2="953.07" y2="2242.95" stroke="#333333" stroke-width="1.5"/>
<rect x="893.96" y="2235.2" width="23.6" height="15.8" fill="#00BFC4" stroke="#333333" stroke-width="1.6"/>
<line x1="900.37" y1="2235.2" x2="900.37" y2="2251" stroke="#333333" stroke-width="3.2"/>
<line x1="852.95" y1="2242.95" x2="858" y2="2242.95" stroke="#333333" stroke-width="4.4" stroke-linecap="round" stroke-dasharray="0 2.52"/>
<line x1="953.07" y1="2242.95" x2="1016.08" y2="2242.95" stroke="#333333" stroke-width="4.4" stroke-linecap="round" stroke-dasharray="0 2.86"/>
<circle cx="1021.11" cy="2242.95" r="2.25" fill="#333333"/>
<circle cx="1028.67" cy="2242.95" r="2.25" fill="#333333"/>
<line x1="874.71" y1="2260.55" x2="894.64" y2="2260.55" stroke="#333333" stroke-width="1.5"/>
<line x1="909.99" y1="2260.55" x2="921.68" y2="2260.55" stroke="#333333" stroke-width="1.5"/>
<rect x="894.64" y="2252.5" width="15.35" height="15.8" fill="#E69F00" stroke="#333333" stroke-width="1.6"/>
<line x1="901.98" y1="2252.5" x2="901.98" y2="2268.3" stroke="#333333" stroke-width="3.2"/>
<line x1="848.82" y1="2260.55" x2="855.02" y2="2260.55" stroke="#333333" stroke-width="4.4" stroke-linecap="round" stroke-dasharray="0 3.09"/>
<line x1="865.55" y1="2260.55" x2="871.06" y2="2260.55" stroke="#333333" stroke-width="4.4" stroke-linecap="round" stroke-dasharray="0 2.75"/>
<line x1="939.78" y1="2260.55" x2="965.68" y2="2260.55" stroke="#333333" stroke-width="4.4" stroke-linecap="round" stroke-dasharray="0 2.88"/>
<circle cx="972.08" cy="2260.55" r="2.25" fill="#333333"/>
<line x1="979.42" y1="2260.55" x2="1005.77" y2="2260.55" stroke="#333333" stroke-width="4.4" stroke-linecap="round" stroke-dasharray="0 2.93"/>
<line x1="1011.95" y1="2260.55" x2="1014.25" y2="2260.55" stroke="#333333" stroke-width="4.4" stroke-linecap="round" stroke-dasharray="0 2.29"/>
<circle cx="1021.11" cy="2260.55" r="2.25" fill="#333333"/>
<circle cx="1036.01" cy="2260.55" r="2.25" fill="#333333"/>
<line x1="1351.87" y1="2242.85" x2="1399.75" y2="2242.85" stroke="#0000FF" stroke-width="2.7"/>
<rect x="1368.36" y="2238.95" width="7.8" height="7.8" fill="#0000FF"/>
<line x1="1342.7" y1="2260.65" x2="1370.65" y2="2260.65" stroke="#0000FF" stroke-width="2.8" stroke-dasharray="2.8 2.8"/>
<circle cx="1355.08" cy="2260.65" r="4.4" fill="#0000FF"/>
<line x1="568.24" y1="2312.61" x2="670.2" y2="2312.61" stroke="#333333" stroke-width="1.5"/>
<rect x="467.89" y="2304.86" width="100.35" height="15.8" fill="#00BFC4" stroke="#333333" stroke-width="1.6"/>
<line x1="467.89" y1="2304.86" x2="467.89" y2="2320.66" stroke="#333333" stroke-width="3.2"/>
<line x1="467.89" y1="2322.96" x2="467.89" y2="2337.16" stroke="#333333" stroke-width="3.3" stroke-linecap="round"/>
<line x1="505.7" y1="2330.21" x2="512.58" y2="2330.21" stroke="#333333" stroke-width="4.4" stroke-linecap="round" stroke-dasharray="0 3.44"/>
<circle cx="519.44" cy="2330.21" r="2.25" fill="#333333"/>
<line x1="526.77" y1="2330.21" x2="538.93" y2="2330.21" stroke="#333333" stroke-width="4.4" stroke-linecap="round" stroke-dasharray="0 3.04"/>
<line x1="545.79" y1="2330.21" x2="553.82" y2="2330.21" stroke="#333333" stroke-width="4.4" stroke-linecap="round" stroke-dasharray="0 2.67"/>
<circle cx="560.68" cy="2330.21" r="2.25" fill="#333333"/>
<line x1="565.26" y1="2330.21" x2="582.46" y2="2330.21" stroke="#333333" stroke-width="4.4" stroke-linecap="round" stroke-dasharray="0 2.86"/>
<line x1="587.03" y1="2330.21" x2="599.64" y2="2330.21" stroke="#333333" stroke-width="4.4" stroke-linecap="round" stroke-dasharray="0 3.15"/>
<line x1="603.07" y1="2330.21" x2="614.53" y2="2330.21" stroke="#333333" stroke-width="4.4" stroke-linecap="round" stroke-dasharray="0 2.86"/>
<line x1="620.25" y1="2330.21" x2="644.32" y2="2330.21" stroke="#333333" stroke-width="4.4" stroke-linecap="round" stroke-dasharray="0 3.01"/>
<line x1="652.33" y1="2330.21" x2="660.36" y2="2330.21" stroke="#333333" stroke-width="4.4" stroke-linecap="round" stroke-dasharray="0 2.67"/>
<circle cx="669.51" cy="2330.21" r="2.25" fill="#333333"/>
<line x1="867.84" y1="2312.61" x2="896.94" y2="2312.61" stroke="#333333" stroke-width="1.5"/>
<line x1="956.5" y1="2312.61" x2="1030.51" y2="2312.61" stroke="#333333" stroke-width="1.5"/>
<rect x="896.94" y="2304.86" width="59.57" height="15.8" fill="#00BFC4" stroke="#333333" stroke-width="1.6"/>
<line x1="904.5" y1="2304.86" x2="904.5" y2="2320.66" stroke="#333333" stroke-width="3.2"/>
<line x1="871.27" y1="2330.21" x2="896.48" y2="2330.21" stroke="#333333" stroke-width="1.5"/>
<line x1="918.24" y1="2330.21" x2="949.63" y2="2330.21" stroke="#333333" stroke-width="1.5"/>
<rect x="896.48" y="2322.16" width="21.77" height="15.8" fill="#E69F00" stroke="#333333" stroke-width="1.6"/>
<line x1="904.27" y1="2322.16" x2="904.27" y2="2337.96" stroke="#333333" stroke-width="3.2"/>
<line x1="844.24" y1="2330.21" x2="849.98" y2="2330.21" stroke="#333333" stroke-width="4.4" stroke-linecap="round" stroke-dasharray="0 2.86"/>
<line x1="953.07" y1="2330.21" x2="974.84" y2="2330.21" stroke="#333333" stroke-width="4.4" stroke-linecap="round" stroke-dasharray="0 2.72"/>
<line x1="978.96" y1="2330.21" x2="990.88" y2="2330.21" stroke="#333333" stroke-width="4.4" stroke-linecap="round" stroke-dasharray="0 2.98"/>
<line x1="994.31" y1="2330.21" x2="1003.48" y2="2330.21" stroke="#333333" stroke-width="4.4" stroke-linecap="round" stroke-dasharray="0 3.05"/>
<circle cx="1006.91" cy="2330.21" r="2.25" fill="#333333"/>
<line x1="1014.24" y1="2330.21" x2="1019.52" y2="2330.21" stroke="#333333" stroke-width="4.4" stroke-linecap="round" stroke-dasharray="0 2.63"/>
<circle cx="1029.82" cy="2330.21" r="2.25" fill="#333333"/>
<line x1="1356.22" y1="2312.51" x2="1411.89" y2="2312.51" stroke="#0000FF" stroke-width="2.7"/>
<rect x="1375.92" y="2308.61" width="7.8" height="7.8" fill="#0000FF"/>
<line x1="1347.29" y1="2330.31" x2="1382.8" y2="2330.31" stroke="#0000FF" stroke-width="2.8" stroke-dasharray="2.8 2.8"/>
<circle cx="1363.09" cy="2330.31" r="4.4" fill="#0000FF"/>
<line x1="590.01" y1="2382.27" x2="666.07" y2="2382.27" stroke="#333333" stroke-width="1.5"/>
<rect x="467.89" y="2374.52" width="122.12" height="15.8" fill="#00BFC4" stroke="#333333" stroke-width="1.6"/>
<line x1="467.89" y1="2374.52" x2="467.89" y2="2390.32" stroke="#333333" stroke-width="3.2"/>
<line x1="550.83" y1="2399.87" x2="658.74" y2="2399.87" stroke="#333333" stroke-width="1.5"/>
<rect x="467.89" y="2391.82" width="82.94" height="15.8" fill="#E69F00" stroke="#333333" stroke-width="1.6"/>
<line x1="467.89" y1="2391.82" x2="467.89" y2="2407.62" stroke="#333333" stroke-width="3.2"/>
<line x1="840.35" y1="2382.27" x2="892.35" y2="2382.27" stroke="#333333" stroke-width="1.5"/>
<line x1="977.81" y1="2382.27" x2="1045.86" y2="2382.27" stroke="#333333" stroke-width="1.5"/>
<rect x="892.35" y="2374.52" width="85.46" height="15.8" fill="#00BFC4" stroke="#333333" stroke-width="1.6"/>
<line x1="904.27" y1="2374.52" x2="904.27" y2="2390.32" stroke="#333333" stroke-width="3.2"/>
<line x1="849.51" y1="2399.87" x2="895.79" y2="2399.87" stroke="#333333" stroke-width="1.5"/>
<line x1="952.61" y1="2399.87" x2="1027.99" y2="2399.87" stroke="#333333" stroke-width="1.5"/>
<rect x="895.79" y="2391.82" width="56.82" height="15.8" fill="#E69F00" stroke="#333333" stroke-width="1.6"/>
<line x1="905.64" y1="2391.82" x2="905.64" y2="2407.62" stroke="#333333" stroke-width="3.2"/>
<circle cx="1038.53" cy="2399.87" r="2.25" fill="#333333"/>
<circle cx="1045.17" cy="2399.87" r="2.25" fill="#333333"/>
<line x1="1354.62" y1="2382.17" x2="1402.73" y2="2382.17" stroke="#0000FF" stroke-width="2.7"/>
<rect x="1371.34" y="2378.27" width="7.8" height="7.8" fill="#0000FF"/>
<line x1="1342.7" y1="2399.97" x2="1391.27" y2="2399.97" stroke="#0000FF" stroke-width="2.8" stroke-dasharray="2.8 2.8"/>
<circle cx="1363.32" cy="2399.97" r="4.4" fill="#0000FF"/>
<line x1="570.99" y1="2451.93" x2="676.84" y2="2451.93" stroke="#333333" stroke-width="1.5"/>
<rect x="467.89" y="2444.18" width="103.1" height="15.8" fill="#00BFC4" stroke="#333333" stroke-width="1.6"/>
<line x1="467.89" y1="2444.18" x2="467.89" y2="2459.98" stroke="#333333" stroke-width="3.2"/>
<line x1="546.94" y1="2469.53" x2="662.64" y2="2469.53" stroke="#333333" stroke-width="1.5"/>
<rect x="467.89" y="2461.48" width="79.04" height="15.8" fill="#E69F00" stroke="#333333" stroke-width="1.6"/>
<line x1="467.89" y1="2461.48" x2="467.89" y2="2477.28" stroke="#333333" stroke-width="3.2"/>
<line x1="818.58" y1="2451.93" x2="897.62" y2="2451.93" stroke="#333333" stroke-width="1.5"/>
<line x1="959.48" y1="2451.93" x2="1019.97" y2="2451.93" stroke="#333333" stroke-width="1.5"/>
<rect x="897.62" y="2444.18" width="61.86" height="15.8" fill="#00BFC4" stroke="#333333" stroke-width="1.6"/>
<line x1="908.85" y1="2444.18" x2="908.85" y2="2459.98" stroke="#333333" stroke-width="3.2"/>
<line x1="874.71" y1="2469.53" x2="898.77" y2="2469.53" stroke="#333333" stroke-width="1.5"/>
<line x1="946.19" y1="2469.53" x2="1013.32" y2="2469.53" stroke="#333333" stroke-width="1.5"/>
<rect x="898.77" y="2461.48" width="47.43" height="15.8" fill="#E69F00" stroke="#333333" stroke-width="1.6"/>
<line x1="906.79" y1="2461.48" x2="906.79" y2="2477.28" stroke="#333333" stroke-width="3.2"/>
<circle cx="1024.09" cy="2469.53" r="2.25" fill="#333333"/>
<line x1="1356.22" y1="2451.83" x2="1413.73" y2="2451.83" stroke="#0000FF" stroke-width="2.7"/>
<rect x="1376.61" y="2447.93" width="7.8" height="7.8" fill="#0000FF"/>
<line x1="1345.45" y1="2469.63" x2="1379.13" y2="2469.63" stroke="#0000FF" stroke-width="2.8" stroke-dasharray="2.8 2.8"/>
<circle cx="1359.89" cy="2469.63" r="4.4" fill="#0000FF"/>
<rect x="0" y="150.5" width="2" height="530.23" fill="#E4E4E4"/>
<rect x="1.5" y="151" width="118.5" height="529.23" fill="#E4E4E4" stroke="#C6C6C6" stroke-width="1"/>
<text x="63.3" y="364.9" font-size="17.5" fill="#1A1A1A" text-anchor="middle">Elevated</text>
<text x="59.5" y="394" font-size="17.5" fill="#1A1A1A" text-anchor="middle">immunogenic</text>
<text x="64.2" y="423.5" font-size="17.5" fill="#1A1A1A" text-anchor="middle">bacterial</text>
<text x="60.8" y="452" font-size="17.5" fill="#1A1A1A" text-anchor="middle">components</text>
<rect x="0" y="692.33" width="2" height="533.56" fill="#E4E4E4"/>
<rect x="1.5" y="692.83" width="118.5" height="532.56" fill="#E4E4E4" stroke="#C6C6C6" stroke-width="1"/>
<text x="60" y="901.9" font-size="17.5" fill="#1A1A1A" text-anchor="middle">Reduced</text>
<text x="60.9" y="930.2" font-size="17.5" fill="#1A1A1A" text-anchor="middle">plant−based</text>
<text x="59.7" y="960.8" font-size="17.5" fill="#1A1A1A" text-anchor="middle">polysaccharide</text>
<text x="60.5" y="988.7" font-size="17.5" fill="#1A1A1A" text-anchor="middle">degradation</text>
<text x="60.3" y="1018.1" font-size="17.5" fill="#1A1A1A" text-anchor="middle">and SCFA</text>
<text x="61.3" y="1046.4" font-size="17.5" fill="#1A1A1A" text-anchor="middle">production</text>
<rect x="0" y="1237.49" width="2" height="153.16" fill="#E4E4E4"/>
<rect x="1.5" y="1237.99" width="118.5" height="152.16" fill="#E4E4E4" stroke="#C6C6C6" stroke-width="1"/>
<text x="61.7" y="1294" font-size="17.5" fill="#1A1A1A" text-anchor="middle">Increased</text>
<text x="60.4" y="1323.9" font-size="17.5" fill="#1A1A1A" text-anchor="middle">protein</text>
<text x="59.3" y="1352.2" font-size="17.5" fill="#1A1A1A" text-anchor="middle">degradation</text>
<rect x="0" y="1402.25" width="2" height="479.35" fill="#E4E4E4"/>
<rect x="1.5" y="1402.75" width="118.5" height="478.35" fill="#E4E4E4" stroke="#C6C6C6" stroke-width="1"/>
<text x="60.4" y="1615.5" font-size="17.5" fill="#1A1A1A" text-anchor="middle">Dysregulated</text>
<text x="59.9" y="1644.9" font-size="17.5" fill="#1A1A1A" text-anchor="middle">neuroactive</text>
<text x="60.8" y="1674.2" font-size="17.5" fill="#1A1A1A" text-anchor="middle">signaling</text>
<rect x="0" y="1893.2" width="2" height="222.82" fill="#E4E4E4"/>
<rect x="1.5" y="1893.7" width="118.5" height="221.82" fill="#E4E4E4" stroke="#C6C6C6" stroke-width="1"/>
<text x="61.2" y="1979" font-size="17.5" fill="#1A1A1A" text-anchor="middle">Reduced</text>
<text x="60.4" y="2007.3" font-size="17.5" fill="#1A1A1A" text-anchor="middle">neuroprotective</text>
<text x="60.6" y="2034.4" font-size="17.5" fill="#1A1A1A" text-anchor="middle">molecules</text>
<rect x="0" y="2127.62" width="2" height="222.82" fill="#E4E4E4"/>
<rect x="1.5" y="2128.12" width="118.5" height="221.82" fill="#E4E4E4" stroke="#C6C6C6" stroke-width="1"/>
<text x="59.4" y="2159.4" font-size="17.5" fill="#1A1A1A" text-anchor="middle">Elevated</text>
<text x="59" y="2189" font-size="17.5" fill="#1A1A1A" text-anchor="middle">curli, a</text>
<text x="60.1" y="2216" font-size="17.5" fill="#1A1A1A" text-anchor="middle">bacterial</text>
<text x="60.4" y="2244.3" font-size="17.5" fill="#1A1A1A" text-anchor="middle">amyloid,</text>
<text x="59.2" y="2272.2" font-size="17.5" fill="#1A1A1A" text-anchor="middle">triggers</text>
<text x="57.1" y="2300.5" font-size="17.5" fill="#1A1A1A" text-anchor="middle">α−synuclein</text>
<text x="59.4" y="2328.8" font-size="17.5" fill="#1A1A1A" text-anchor="middle">pathology</text>
<rect x="0" y="2362.04" width="2" height="127.72" fill="#E4E4E4"/>
<rect x="1.5" y="2362.54" width="118.5" height="126.72" fill="#E4E4E4" stroke="#C6C6C6" stroke-width="1"/>
<text x="60.4" y="2401.4" font-size="17.5" fill="#1A1A1A" text-anchor="middle">Elevated</text>
<text x="59.4" y="2432.2" font-size="17.5" fill="#1A1A1A" text-anchor="middle">toxic</text>
<text x="59.9" y="2461" font-size="17.5" fill="#1A1A1A" text-anchor="middle">metabolite</text>
<rect x="120" y="151" width="119.6" height="342.36" fill="#E4E4E4" stroke="#C6C6C6" stroke-width="1"/>
<text x="180.2" y="317.55" font-size="17.5" fill="#1A1A1A" text-anchor="middle">LPS/</text>
<text x="181.2" y="345.9" font-size="17.5" fill="#1A1A1A" text-anchor="middle">lipid A</text>
<rect x="120" y="505.96" width="119.6" height="104.61" fill="#E4E4E4" stroke="#C6C6C6" stroke-width="1"/>
<text x="178.7" y="564.85" font-size="17.5" fill="#1A1A1A" text-anchor="middle">LTA</text>
<rect x="120" y="623.17" width="119.6" height="57.06" fill="#E4E4E4" stroke="#C6C6C6" stroke-width="1"/>
<text x="179.1" y="655.35" font-size="17.5" fill="#1A1A1A" text-anchor="middle">BLP</text>
<rect x="120" y="692.83" width="119.6" height="532.56" fill="#E4E4E4" stroke="#C6C6C6" stroke-width="1"/>
<text x="180" y="964.11" font-size="17.5" fill="#1A1A1A" text-anchor="middle">−−−</text>
<rect x="120" y="1237.99" width="119.6" height="152.16" fill="#E4E4E4" stroke="#C6C6C6" stroke-width="1"/>
<text x="180" y="1320.97" font-size="17.5" fill="#1A1A1A" text-anchor="middle">−−−</text>
<rect x="120" y="1402.75" width="119.6" height="57.06" fill="#E4E4E4" stroke="#C6C6C6" stroke-width="1"/>
<text x="179.7" y="1421.3" font-size="17.5" fill="#1A1A1A" text-anchor="middle">dopamine</text>
<text x="178.8" y="1448.5" font-size="17.5" fill="#1A1A1A" text-anchor="middle">synthesis</text>
<rect x="120" y="1472.41" width="119.6" height="104.61" fill="#E4E4E4" stroke="#C6C6C6" stroke-width="1"/>
<text x="180.9" y="1511.85" font-size="17.5" fill="#1A1A1A" text-anchor="middle">glutamate</text>
<text x="179.8" y="1541.65" font-size="17.5" fill="#1A1A1A" text-anchor="middle">synthesis</text>
<rect x="120" y="1589.62" width="119.6" height="104.61" fill="#E4E4E4" stroke="#C6C6C6" stroke-width="1"/>
<text x="179.2" y="1631.25" font-size="17.5" fill="#1A1A1A" text-anchor="middle">serotonin</text>
<text x="178.8" y="1659.2" font-size="17.5" fill="#1A1A1A" text-anchor="middle">synthesis</text>
<rect x="120" y="1706.83" width="119.6" height="57.06" fill="#E4E4E4" stroke="#C6C6C6" stroke-width="1"/>
<text x="183.6" y="1726.5" font-size="17.5" fill="#1A1A1A" text-anchor="middle">dopamine</text>
<text x="182.4" y="1754.05" font-size="17.5" fill="#1A1A1A" text-anchor="middle">inhibition</text>
<rect x="120" y="1776.49" width="119.6" height="104.61" fill="#E4E4E4" stroke="#C6C6C6" stroke-width="1"/>
<text x="180.8" y="1806.7" font-size="17.5" fill="#1A1A1A" text-anchor="middle">glutamate/</text>
<text x="178.3" y="1827.9" font-size="17.5" fill="#1A1A1A" text-anchor="middle">GABA</text>
<text x="180.5" y="1856.65" font-size="17.5" fill="#1A1A1A" text-anchor="middle">degradation</text>
<rect x="120" y="1893.7" width="119.6" height="57.06" fill="#E4E4E4" stroke="#C6C6C6" stroke-width="1"/>
<text x="181.1" y="1914.7" font-size="17.5" fill="#1A1A1A" text-anchor="middle">nicotinamide</text>
<text x="179.9" y="1941.5" font-size="17.5" fill="#1A1A1A" text-anchor="middle">degradation</text>
<rect x="120" y="1963.36" width="119.6" height="152.16" fill="#E4E4E4" stroke="#C6C6C6" stroke-width="1"/>
<text x="179.7" y="1999.65" font-size="17.5" fill="#1A1A1A" text-anchor="middle">trehalose</text>
<text x="179.2" y="2027.8" font-size="17.5" fill="#1A1A1A" text-anchor="middle">degradation</text>
<text x="182.2" y="2056.5" font-size="17.5" fill="#1A1A1A" text-anchor="middle">and</text>
<text x="178.7" y="2086.65" font-size="17.5" fill="#1A1A1A" text-anchor="middle">metabolism</text>
<rect x="120" y="2128.12" width="119.6" height="152.16" fill="#E4E4E4" stroke="#C6C6C6" stroke-width="1"/>
<text x="177.2" y="2195.95" font-size="17.5" fill="#1A1A1A" text-anchor="middle">curli</text>
<text x="177.5" y="2224.9" font-size="17.5" fill="#1A1A1A" text-anchor="middle">production</text>
<rect x="120" y="2292.88" width="119.6" height="57.06" fill="#E4E4E4" stroke="#C6C6C6" stroke-width="1"/>
<text x="180.3" y="2312.1" font-size="17.5" fill="#1A1A1A" text-anchor="middle">curli</text>
<text x="179.3" y="2340.45" font-size="17.5" fill="#1A1A1A" text-anchor="middle">regulation</text>
<rect x="120" y="2362.54" width="119.6" height="57.06" fill="#E4E4E4" stroke="#C6C6C6" stroke-width="1"/>
<text x="181" y="2379.65" font-size="17.5" fill="#1A1A1A" text-anchor="middle">TMA from</text>
<text x="179.6" y="2407.7" font-size="17.5" fill="#1A1A1A" text-anchor="middle">choline</text>
<rect x="120" y="2432.2" width="119.6" height="57.06" fill="#E4E4E4" stroke="#C6C6C6" stroke-width="1"/>
<text x="181" y="2448.9" font-size="17.5" fill="#1A1A1A" text-anchor="middle">TMA from</text>
<text x="180" y="2477.45" font-size="17.5" fill="#1A1A1A" text-anchor="middle">carnitine</text>
</svg></body></html>
